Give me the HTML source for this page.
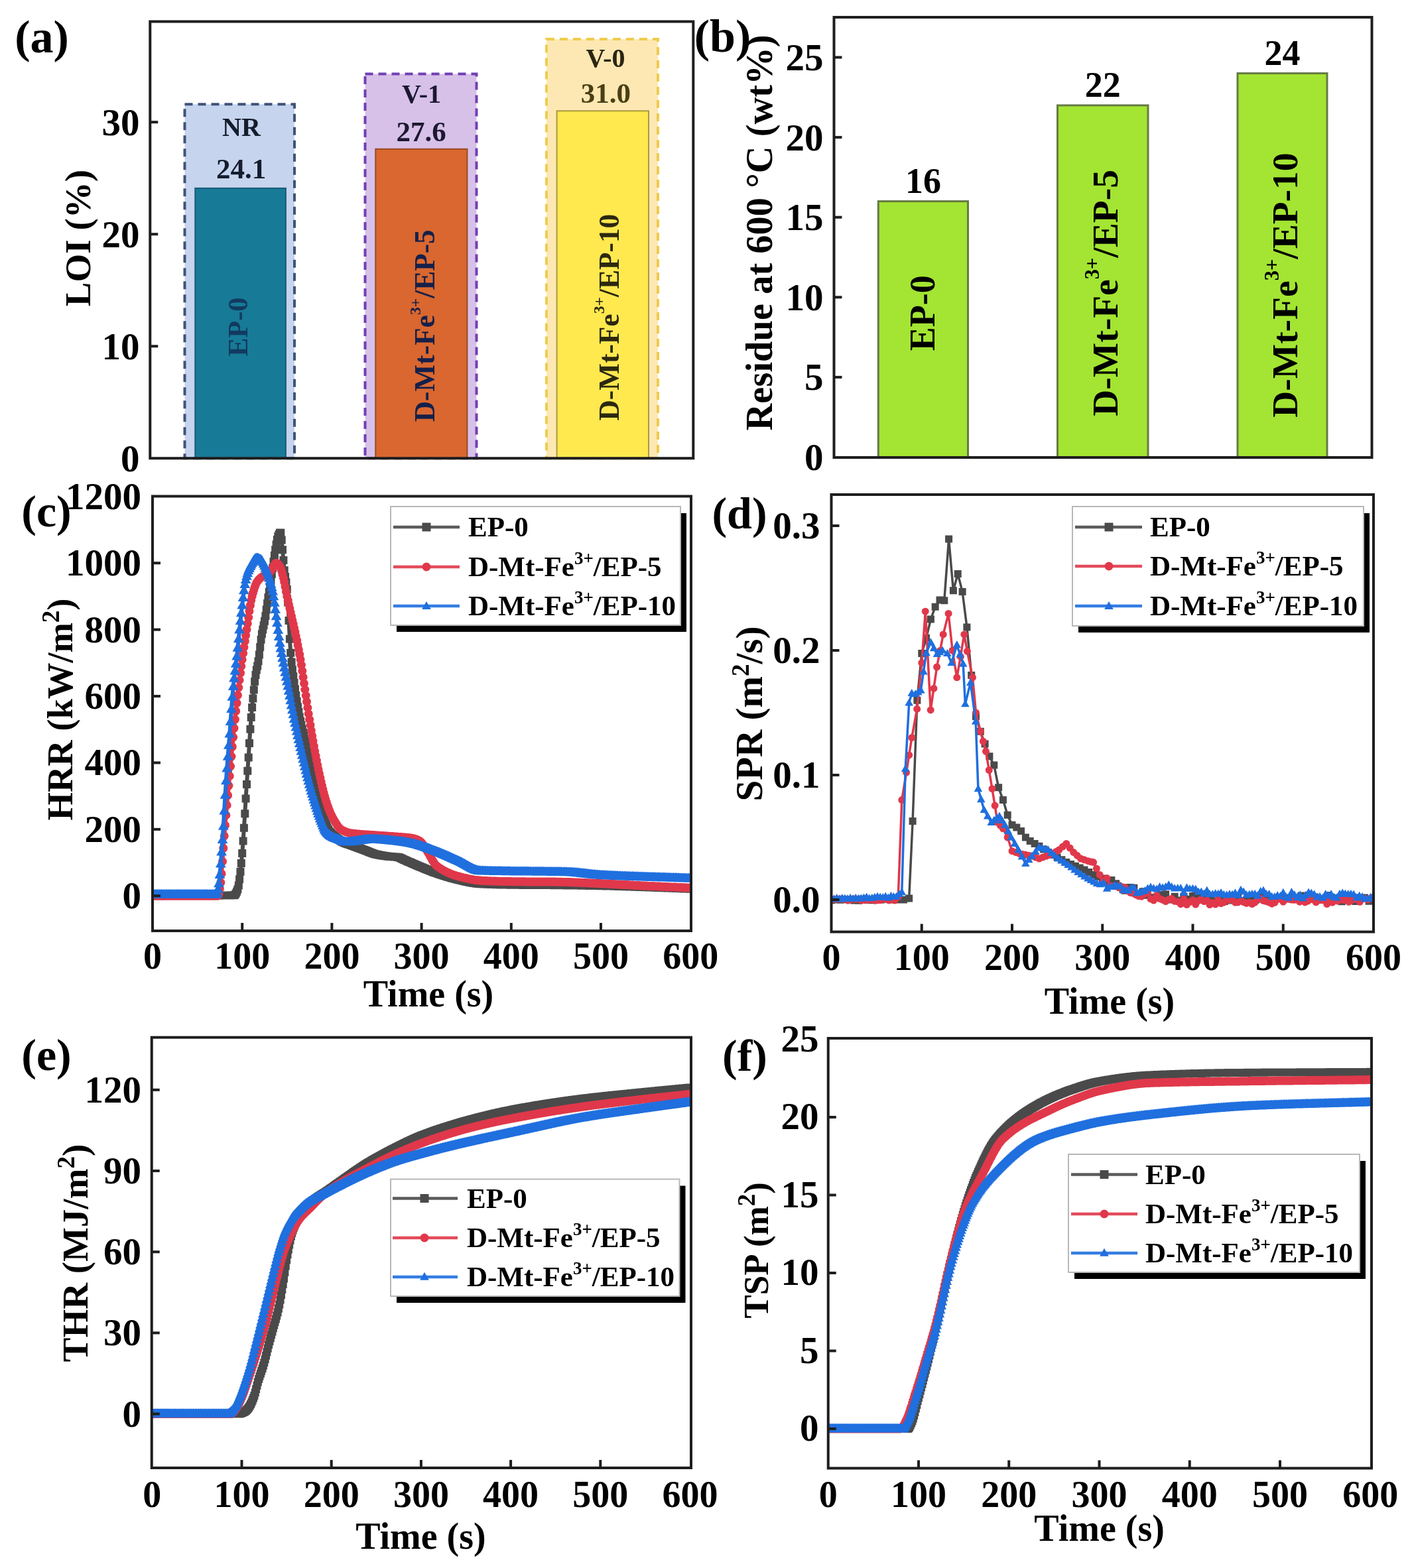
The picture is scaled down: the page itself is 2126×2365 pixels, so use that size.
<!DOCTYPE html>
<html><head><meta charset="utf-8"><title>Figure</title>
<style>html,body{margin:0;padding:0;background:#fff;}svg{display:block;}</style></head>
<body><svg width="2126" height="2365" viewBox="0 0 2126 2365" font-family="'Liberation Serif', 'Times New Roman', serif" font-weight="bold">
<rect width="2126" height="2365" fill="#fff"/>
<rect x="278.5" y="157.2" width="165.5" height="534.0" fill="#c6d4ee" stroke="#3f5378" stroke-width="4" stroke-dasharray="12,8"/>
<rect x="294.3" y="283.9" width="136.6" height="407.3" fill="#177a96" stroke="#1a5c78" stroke-width="2"/>
<rect x="550.5" y="111.5" width="168.0" height="579.7" fill="#d7c1e9" stroke="#7040b4" stroke-width="4" stroke-dasharray="12,8"/>
<rect x="566.3" y="224.8" width="138.1" height="466.4" fill="#d9672f" stroke="#9a4a20" stroke-width="2"/>
<rect x="823.9" y="59.1" width="168.10000000000002" height="632.1" fill="#fde8b3" stroke="#efcb4c" stroke-width="4" stroke-dasharray="12,8"/>
<rect x="839.6" y="167.3" width="138.4" height="523.9" fill="#ffe94f" stroke="#a99a3e" stroke-width="2"/>
<text transform="translate(364.00,204.50)" font-size="40" text-anchor="middle" fill="#151c2c" >NR</text>
<text transform="translate(363.50,268.50)" font-size="43" text-anchor="middle" fill="#151c2c" >24.1</text>
<text transform="translate(635.50,154.50)" font-size="40" text-anchor="middle" fill="#1c1830" >V-1</text>
<text transform="translate(635.20,212.50)" font-size="43" text-anchor="middle" fill="#1c1830" >27.6</text>
<text transform="translate(913.00,100.50)" font-size="40" text-anchor="middle" fill="#2a2612" >V-0</text>
<text transform="translate(913.30,155.00)" font-size="43" text-anchor="middle" fill="#4a3e14" >31.0</text>
<text transform="translate(372.60,493.10) rotate(-90)" font-size="42" text-anchor="middle" fill="#123a60" >EP-0</text>
<text transform="translate(655.40,491.20) rotate(-90)" font-size="43.3" text-anchor="middle" fill="#15204a" >D-Mt-Fe<tspan font-size="23.8" dy="-21.6">3+</tspan><tspan dy="21.6">/EP-5</tspan></text>
<text transform="translate(932.80,478.60) rotate(-90)" font-size="43.3" text-anchor="middle" fill="#2b2810" >D-Mt-Fe<tspan font-size="23.8" dy="-21.6">3+</tspan><tspan dy="21.6">/EP-10</tspan></text>
<rect x="226.3" y="32.5" width="819.0" height="658.7" fill="none" stroke="#1e1e1e" stroke-width="4"/>
<line x1="226.3" y1="522.20" x2="238.3" y2="522.20" stroke="#1e1e1e" stroke-width="4"/>
<line x1="226.3" y1="353.20" x2="238.3" y2="353.20" stroke="#1e1e1e" stroke-width="4"/>
<line x1="226.3" y1="184.20" x2="238.3" y2="184.20" stroke="#1e1e1e" stroke-width="4"/>
<text transform="translate(210.50,710.70)" font-size="57" text-anchor="end" fill="#000" >0</text>
<text transform="translate(210.50,541.70)" font-size="57" text-anchor="end" fill="#000" >10</text>
<text transform="translate(210.50,372.70)" font-size="57" text-anchor="end" fill="#000" >20</text>
<text transform="translate(210.50,203.70)" font-size="57" text-anchor="end" fill="#000" >30</text>
<text transform="translate(136.00,359.00) rotate(-90)" font-size="55" text-anchor="middle" fill="#000" >LOI (%)</text>
<text transform="translate(63.00,79.00)" font-size="70" text-anchor="middle" fill="#000" >(a)</text>
<rect x="1324.3" y="303.6" width="135.2" height="385.9" fill="#a3e532" stroke="#667a45" stroke-width="3"/>
<text transform="translate(1391.90,290.58)" font-size="54" text-anchor="middle" fill="#000" >16</text>
<rect x="1594.5" y="158.9" width="136.5" height="530.6" fill="#a3e532" stroke="#667a45" stroke-width="3"/>
<text transform="translate(1662.75,145.86)" font-size="54" text-anchor="middle" fill="#000" >22</text>
<rect x="1866" y="110.6" width="135.0" height="578.9" fill="#a3e532" stroke="#667a45" stroke-width="3"/>
<text transform="translate(1933.50,97.62)" font-size="54" text-anchor="middle" fill="#000" >24</text>
<text transform="translate(1408.50,472.20) rotate(-90)" font-size="54" text-anchor="middle" fill="#000" >EP-0</text>
<text transform="translate(1684.80,441.90) rotate(-90)" font-size="55.5" text-anchor="middle" fill="#000" >D-Mt-Fe<tspan font-size="30.5" dy="-27.8">3+</tspan><tspan dy="27.8">/EP-5</tspan></text>
<text transform="translate(1956.20,430.10) rotate(-90)" font-size="55.5" text-anchor="middle" fill="#000" >D-Mt-Fe<tspan font-size="30.5" dy="-27.8">3+</tspan><tspan dy="27.8">/EP-10</tspan></text>
<rect x="1257.5" y="26" width="811.0" height="664" fill="none" stroke="#1e1e1e" stroke-width="4"/>
<line x1="1257.5" y1="568.90" x2="1269.5" y2="568.90" stroke="#1e1e1e" stroke-width="4"/>
<line x1="1257.5" y1="448.30" x2="1269.5" y2="448.30" stroke="#1e1e1e" stroke-width="4"/>
<line x1="1257.5" y1="327.70" x2="1269.5" y2="327.70" stroke="#1e1e1e" stroke-width="4"/>
<line x1="1257.5" y1="207.10" x2="1269.5" y2="207.10" stroke="#1e1e1e" stroke-width="4"/>
<line x1="1257.5" y1="86.50" x2="1269.5" y2="86.50" stroke="#1e1e1e" stroke-width="4"/>
<text transform="translate(1241.50,709.00)" font-size="57" text-anchor="end" fill="#000" >0</text>
<text transform="translate(1241.50,588.40)" font-size="57" text-anchor="end" fill="#000" >5</text>
<text transform="translate(1241.50,467.80)" font-size="57" text-anchor="end" fill="#000" >10</text>
<text transform="translate(1241.50,347.20)" font-size="57" text-anchor="end" fill="#000" >15</text>
<text transform="translate(1241.50,226.60)" font-size="57" text-anchor="end" fill="#000" >20</text>
<text transform="translate(1241.50,106.00)" font-size="57" text-anchor="end" fill="#000" >25</text>
<text transform="translate(1164.00,351.00) rotate(-90)" font-size="56.5" text-anchor="middle" fill="#000" >Residue at 600 °C (wt%)</text>
<text transform="translate(1089.50,78.00)" font-size="70" text-anchor="middle" fill="#000" >(b)</text>
<clipPath id="cc"><rect x="230" y="748.5" width="812" height="655.5"/></clipPath>
<g clip-path="url(#cc)"><path d="M230.0 1351.2L231.4 1351.2L232.7 1351.2L234.1 1351.2L235.4 1351.2L236.8 1351.2L238.1 1351.2L239.5 1351.2L240.8 1351.2L242.2 1351.2L243.5 1351.2L244.9 1351.2L246.2 1351.1L247.6 1351.1L248.9 1351.1L250.3 1351.1L251.6 1351.1L253.0 1351.1L254.3 1351.1L255.7 1351.1L257.0 1351.1L258.4 1351.1L259.7 1351.1L261.1 1351.1L262.4 1351.1L263.8 1351.1L265.2 1351.1L266.5 1351.1L267.9 1351.1L269.2 1351.1L270.6 1351.1L271.9 1351.1L273.3 1351.0L274.6 1351.0L276.0 1351.0L277.3 1351.0L278.7 1351.0L280.0 1351.0L281.4 1351.0L282.7 1351.0L284.1 1351.0L285.4 1351.0L286.8 1351.0L288.1 1351.0L289.5 1351.0L290.8 1351.0L292.2 1351.0L293.5 1351.0L294.9 1351.0L296.2 1351.0L297.6 1351.0L299.0 1350.9L300.3 1350.9L301.7 1350.9L303.0 1350.9L304.4 1350.9L305.7 1350.9L307.1 1350.9L308.4 1350.9L309.8 1350.9L311.1 1350.9L312.5 1350.9L313.8 1350.8L315.2 1350.8L316.5 1350.8L317.9 1350.8L319.2 1350.8L320.6 1350.8L321.9 1350.8L323.3 1350.7L324.6 1350.7L326.0 1350.7L327.3 1350.7L328.7 1350.7L330.0 1350.7L331.4 1350.6L332.8 1350.6L334.1 1350.6L335.5 1350.6L336.8 1350.6L338.2 1350.5L339.5 1350.5L340.9 1350.5L342.2 1350.5L343.6 1350.4L344.9 1350.4L346.3 1350.4L347.6 1350.4L349.0 1350.3L350.3 1350.3L351.7 1350.3L353.0 1350.2L354.4 1349.5L355.7 1347.5L357.1 1344.7L358.4 1341.2L359.8 1335.4L361.1 1326.2L362.5 1314.7L363.8 1302.1L365.2 1287.0L366.6 1268.6L367.9 1248.8L369.3 1227.3L370.6 1204.4L372.0 1183.1L373.3 1162.7L374.7 1142.4L376.0 1121.0L377.4 1099.8L378.7 1082.1L380.1 1067.1L381.4 1053.6L382.8 1040.4L384.1 1028.1L385.5 1017.9L386.8 1010.6L388.2 1004.4L389.5 997.3L390.9 987.5L392.2 975.9L393.6 964.8L394.9 956.3L396.3 949.4L397.6 943.3L399.0 936.8L400.4 929.1L401.7 919.6L403.1 910.0L404.4 901.3L405.8 893.0L407.1 884.4L408.5 875.3L409.8 866.1L411.2 856.8L412.5 847.3L413.9 837.7L415.2 829.2L416.6 821.3L417.9 814.0L419.3 809.1L420.6 805.9L422.0 803.6L423.3 803.8L424.7 814.4L426.0 829.2L427.4 845.0L428.7 860.3L430.1 870.1L431.4 878.2L432.8 888.9L434.2 908.5L435.5 935.9L436.9 963.7L438.2 984.8L439.6 998.6L440.9 1010.2L442.3 1020.3L443.6 1030.0L445.0 1039.6L446.3 1048.9L447.7 1057.8L449.0 1066.2L450.4 1074.0L451.7 1081.2L453.1 1087.7L454.4 1093.7L455.8 1099.4L457.1 1104.8L458.5 1110.0L459.8 1115.3L461.2 1120.5L462.5 1125.3L463.9 1130.1L465.2 1134.9L466.6 1140.0L468.0 1145.4L469.3 1151.4L470.7 1157.9L472.0 1164.7L473.4 1171.5L474.7 1178.1L476.1 1184.6L477.4 1191.2L478.8 1197.7L480.1 1204.0L481.5 1209.7L482.8 1215.0L484.2 1220.0L485.5 1224.7L486.9 1229.2L488.2 1233.3L489.6 1237.2L490.9 1241.2L492.3 1244.9L493.6 1248.2L495.0 1251.1L496.3 1253.4L497.7 1255.1L499.0 1256.6L500.4 1258.0L501.8 1259.2L503.1 1260.3L504.5 1261.3L505.8 1262.4L507.2 1263.4L508.5 1264.5L509.9 1265.5L511.2 1266.5L512.6 1267.5L513.9 1268.4L515.3 1269.2L516.6 1269.9L518.0 1270.6L519.3 1271.2L520.7 1271.7L522.0 1272.2L523.4 1272.7L524.7 1273.2L526.1 1273.6L527.4 1274.1L528.8 1274.5L530.1 1275.0L531.5 1275.5L532.8 1276.0L534.2 1276.5L535.6 1277.0L536.9 1277.5L538.3 1278.0L539.6 1278.5L541.0 1279.0L542.3 1279.5L543.7 1280.0L545.0 1280.5L546.4 1281.0L547.7 1281.5L549.1 1282.0L550.4 1282.5L551.8 1283.0L553.1 1283.6L554.5 1284.1L555.8 1284.7L557.2 1285.3L558.5 1285.8L559.9 1286.3L561.2 1286.8L562.6 1287.3L563.9 1287.8L565.3 1288.2L566.6 1288.5L568.0 1288.8L569.4 1289.1L570.7 1289.4L572.1 1289.6L573.4 1289.9L574.8 1290.1L576.1 1290.4L577.5 1290.6L578.8 1290.8L580.2 1291.0L581.5 1291.2L582.9 1291.3L584.2 1291.5L585.6 1291.7L586.9 1291.8L588.3 1291.9L589.6 1292.0L591.0 1292.1L592.3 1292.2L593.7 1292.3L595.0 1292.4L596.4 1292.5L597.7 1292.6L599.1 1292.8L600.4 1293.0L601.8 1293.3L603.2 1293.8L604.5 1294.4L605.9 1295.0L607.2 1295.7L608.6 1296.4L609.9 1297.0L611.3 1297.6L612.6 1298.2L614.0 1298.8L615.3 1299.4L616.7 1300.0L618.0 1300.5L619.4 1301.1L620.7 1301.7L622.1 1302.3L623.4 1302.9L624.8 1303.5L626.1 1304.1L627.5 1304.7L628.8 1305.2L630.2 1305.8L631.5 1306.4L632.9 1307.0L634.2 1307.5L635.6 1308.1L637.0 1308.6L638.3 1309.2L639.7 1309.8L641.0 1310.3L642.4 1310.9L643.7 1311.4L645.1 1312.0L646.4 1312.5L647.8 1313.1L649.1 1313.6L650.5 1314.1L651.8 1314.7L653.2 1315.2L654.5 1315.7L655.9 1316.2L657.2 1316.6L658.6 1317.1L659.9 1317.6L661.3 1318.0L662.6 1318.5L664.0 1318.9L665.3 1319.4L666.7 1319.8L668.0 1320.3L669.4 1320.7L670.8 1321.1L672.1 1321.6L673.5 1322.0L674.8 1322.4L676.2 1322.8L677.5 1323.2L678.9 1323.6L680.2 1324.0L681.6 1324.4L682.9 1324.8L684.3 1325.1L685.6 1325.5L687.0 1325.8L688.3 1326.2L689.7 1326.5L691.0 1326.8L692.4 1327.2L693.7 1327.5L695.1 1327.8L696.4 1328.1L697.8 1328.4L699.1 1328.7L700.5 1329.0L701.8 1329.4L703.2 1329.7L704.6 1330.0L705.9 1330.3L707.3 1330.6L708.6 1330.9L710.0 1331.1L711.3 1331.4L712.7 1331.6L714.0 1331.9L715.4 1332.1L716.7 1332.3L718.1 1332.5L719.4 1332.7L720.8 1332.8L722.1 1333.0L723.5 1333.1L724.8 1333.2L726.2 1333.3L727.5 1333.3L728.9 1333.4L730.2 1333.5L731.6 1333.5L732.9 1333.6L734.3 1333.7L735.6 1333.7L737.0 1333.8L738.4 1333.8L739.7 1333.9L741.1 1334.0L742.4 1334.0L743.8 1334.1L745.1 1334.1L746.5 1334.1L747.8 1334.2L749.2 1334.2L750.5 1334.3L751.9 1334.3L753.2 1334.3L754.6 1334.4L755.9 1334.4L757.3 1334.4L758.6 1334.5L760.0 1334.5L761.3 1334.5L762.7 1334.6L764.0 1334.6L765.4 1334.6L766.7 1334.6L768.1 1334.6L769.4 1334.7L770.8 1334.7L772.2 1334.7L773.5 1334.7L774.9 1334.7L776.2 1334.7L777.6 1334.8L778.9 1334.8L780.3 1334.8L781.6 1334.8L783.0 1334.8L784.3 1334.8L785.7 1334.8L787.0 1334.8L788.4 1334.9L789.7 1334.9L791.1 1334.9L792.4 1334.9L793.8 1334.9L795.1 1334.9L796.5 1334.9L797.8 1334.9L799.2 1334.9L800.5 1334.9L801.9 1334.9L803.2 1335.0L804.6 1335.0L806.0 1335.0L807.3 1335.0L808.7 1335.0L810.0 1335.0L811.4 1335.0L812.7 1335.0L814.1 1335.0L815.4 1335.0L816.8 1335.0L818.1 1335.0L819.5 1335.0L820.8 1335.0L822.2 1335.1L823.5 1335.1L824.9 1335.1L826.2 1335.1L827.6 1335.1L828.9 1335.1L830.3 1335.1L831.6 1335.1L833.0 1335.1L834.3 1335.1L835.7 1335.2L837.0 1335.2L838.4 1335.2L839.8 1335.2L841.1 1335.2L842.5 1335.2L843.8 1335.2L845.2 1335.3L846.5 1335.3L847.9 1335.3L849.2 1335.3L850.6 1335.3L851.9 1335.3L853.3 1335.3L854.6 1335.4L856.0 1335.4L857.3 1335.4L858.7 1335.4L860.0 1335.4L861.4 1335.5L862.7 1335.5L864.1 1335.5L865.4 1335.5L866.8 1335.5L868.1 1335.5L869.5 1335.6L870.8 1335.6L872.2 1335.6L873.6 1335.6L874.9 1335.6L876.3 1335.7L877.6 1335.7L879.0 1335.7L880.3 1335.7L881.7 1335.8L883.0 1335.8L884.4 1335.8L885.7 1335.8L887.1 1335.8L888.4 1335.9L889.8 1335.9L891.1 1335.9L892.5 1335.9L893.8 1336.0L895.2 1336.0L896.5 1336.0L897.9 1336.0L899.2 1336.1L900.6 1336.1L901.9 1336.1L903.3 1336.1L904.6 1336.2L906.0 1336.2L907.4 1336.2L908.7 1336.2L910.1 1336.3L911.4 1336.3L912.8 1336.3L914.1 1336.4L915.5 1336.4L916.8 1336.4L918.2 1336.5L919.5 1336.5L920.9 1336.5L922.2 1336.6L923.6 1336.6L924.9 1336.6L926.3 1336.7L927.6 1336.7L929.0 1336.8L930.3 1336.8L931.7 1336.8L933.0 1336.9L934.4 1336.9L935.7 1337.0L937.1 1337.0L938.4 1337.0L939.8 1337.1L941.2 1337.1L942.5 1337.2L943.9 1337.2L945.2 1337.3L946.6 1337.3L947.9 1337.3L949.3 1337.4L950.6 1337.4L952.0 1337.5L953.3 1337.5L954.7 1337.6L956.0 1337.6L957.4 1337.7L958.7 1337.7L960.1 1337.7L961.4 1337.8L962.8 1337.8L964.1 1337.9L965.5 1337.9L966.8 1338.0L968.2 1338.0L969.5 1338.1L970.9 1338.1L972.2 1338.2L973.6 1338.2L975.0 1338.2L976.3 1338.3L977.7 1338.3L979.0 1338.4L980.4 1338.4L981.7 1338.5L983.1 1338.5L984.4 1338.6L985.8 1338.6L987.1 1338.7L988.5 1338.7L989.8 1338.8L991.2 1338.8L992.5 1338.9L993.9 1338.9L995.2 1339.0L996.6 1339.0L997.9 1339.1L999.3 1339.1L1000.6 1339.2L1002.0 1339.2L1003.3 1339.3L1004.7 1339.3L1006.0 1339.4L1007.4 1339.4L1008.8 1339.5L1010.1 1339.5L1011.5 1339.6L1012.8 1339.6L1014.2 1339.7L1015.5 1339.7L1016.9 1339.8L1018.2 1339.8L1019.6 1339.9L1020.9 1339.9L1022.3 1340.0L1023.6 1340.0L1025.0 1340.1L1026.3 1340.1L1027.7 1340.2L1029.0 1340.2L1030.4 1340.3L1031.7 1340.4L1033.1 1340.4L1034.4 1340.5L1035.8 1340.5L1037.1 1340.6L1038.5 1340.6L1039.8 1340.7L1041.2 1340.7" fill="none" stroke="#4a4a4a" stroke-width="6" stroke-linejoin="round"/><path d="M230.0 1351.2h0M231.4 1351.2h0M232.7 1351.2h0M234.1 1351.2h0M235.4 1351.2h0M236.8 1351.2h0M238.1 1351.2h0M239.5 1351.2h0M240.8 1351.2h0M242.2 1351.2h0M243.5 1351.2h0M244.9 1351.2h0M246.2 1351.1h0M247.6 1351.1h0M248.9 1351.1h0M250.3 1351.1h0M251.6 1351.1h0M253.0 1351.1h0M254.3 1351.1h0M255.7 1351.1h0M257.0 1351.1h0M258.4 1351.1h0M259.7 1351.1h0M261.1 1351.1h0M262.4 1351.1h0M263.8 1351.1h0M265.2 1351.1h0M266.5 1351.1h0M267.9 1351.1h0M269.2 1351.1h0M270.6 1351.1h0M271.9 1351.1h0M273.3 1351.0h0M274.6 1351.0h0M276.0 1351.0h0M277.3 1351.0h0M278.7 1351.0h0M280.0 1351.0h0M281.4 1351.0h0M282.7 1351.0h0M284.1 1351.0h0M285.4 1351.0h0M286.8 1351.0h0M288.1 1351.0h0M289.5 1351.0h0M290.8 1351.0h0M292.2 1351.0h0M293.5 1351.0h0M294.9 1351.0h0M296.2 1351.0h0M297.6 1351.0h0M299.0 1350.9h0M300.3 1350.9h0M301.7 1350.9h0M303.0 1350.9h0M304.4 1350.9h0M305.7 1350.9h0M307.1 1350.9h0M308.4 1350.9h0M309.8 1350.9h0M311.1 1350.9h0M312.5 1350.9h0M313.8 1350.8h0M315.2 1350.8h0M316.5 1350.8h0M317.9 1350.8h0M319.2 1350.8h0M320.6 1350.8h0M321.9 1350.8h0M323.3 1350.7h0M324.6 1350.7h0M326.0 1350.7h0M327.3 1350.7h0M328.7 1350.7h0M330.0 1350.7h0M331.4 1350.6h0M332.8 1350.6h0M334.1 1350.6h0M335.5 1350.6h0M336.8 1350.6h0M338.2 1350.5h0M339.5 1350.5h0M340.9 1350.5h0M342.2 1350.5h0M343.6 1350.4h0M344.9 1350.4h0M346.3 1350.4h0M347.6 1350.4h0M349.0 1350.3h0M350.3 1350.3h0M351.7 1350.3h0M353.0 1350.2h0M354.4 1349.5h0M355.7 1347.5h0M357.1 1344.7h0M358.4 1341.2h0M359.8 1335.4h0M361.1 1326.2h0M362.5 1314.7h0M363.8 1302.1h0M365.2 1287.0h0M366.6 1268.6h0M367.9 1248.8h0M369.3 1227.3h0M370.6 1204.4h0M372.0 1183.1h0M373.3 1162.7h0M374.7 1142.4h0M376.0 1121.0h0M377.4 1099.8h0M378.7 1082.1h0M380.1 1067.1h0M381.4 1053.6h0M382.8 1040.4h0M384.1 1028.1h0M385.5 1017.9h0M386.8 1010.6h0M388.2 1004.4h0M389.5 997.3h0M390.9 987.5h0M392.2 975.9h0M393.6 964.8h0M394.9 956.3h0M396.3 949.4h0M397.6 943.3h0M399.0 936.8h0M400.4 929.1h0M401.7 919.6h0M403.1 910.0h0M404.4 901.3h0M405.8 893.0h0M407.1 884.4h0M408.5 875.3h0M409.8 866.1h0M411.2 856.8h0M412.5 847.3h0M413.9 837.7h0M415.2 829.2h0M416.6 821.3h0M417.9 814.0h0M419.3 809.1h0M420.6 805.9h0M422.0 803.6h0M423.3 803.8h0M424.7 814.4h0M426.0 829.2h0M427.4 845.0h0M428.7 860.3h0M430.1 870.1h0M431.4 878.2h0M432.8 888.9h0M434.2 908.5h0M435.5 935.9h0M436.9 963.7h0M438.2 984.8h0M439.6 998.6h0M440.9 1010.2h0M442.3 1020.3h0M443.6 1030.0h0M445.0 1039.6h0M446.3 1048.9h0M447.7 1057.8h0M449.0 1066.2h0M450.4 1074.0h0M451.7 1081.2h0M453.1 1087.7h0M454.4 1093.7h0M455.8 1099.4h0M457.1 1104.8h0M458.5 1110.0h0M459.8 1115.3h0M461.2 1120.5h0M462.5 1125.3h0M463.9 1130.1h0M465.2 1134.9h0M466.6 1140.0h0M468.0 1145.4h0M469.3 1151.4h0M470.7 1157.9h0M472.0 1164.7h0M473.4 1171.5h0M474.7 1178.1h0M476.1 1184.6h0M477.4 1191.2h0M478.8 1197.7h0M480.1 1204.0h0M481.5 1209.7h0M482.8 1215.0h0M484.2 1220.0h0M485.5 1224.7h0M486.9 1229.2h0M488.2 1233.3h0M489.6 1237.2h0M490.9 1241.2h0M492.3 1244.9h0M493.6 1248.2h0M495.0 1251.1h0M496.3 1253.4h0M497.7 1255.1h0M499.0 1256.6h0M500.4 1258.0h0M501.8 1259.2h0M503.1 1260.3h0M504.5 1261.3h0M505.8 1262.4h0M507.2 1263.4h0M508.5 1264.5h0M509.9 1265.5h0M511.2 1266.5h0M512.6 1267.5h0M513.9 1268.4h0M515.3 1269.2h0M516.6 1269.9h0M518.0 1270.6h0M519.3 1271.2h0M520.7 1271.7h0M522.0 1272.2h0M523.4 1272.7h0M524.7 1273.2h0M526.1 1273.6h0M527.4 1274.1h0M528.8 1274.5h0M530.1 1275.0h0M531.5 1275.5h0M532.8 1276.0h0M534.2 1276.5h0M535.6 1277.0h0M536.9 1277.5h0M538.3 1278.0h0M539.6 1278.5h0M541.0 1279.0h0M542.3 1279.5h0M543.7 1280.0h0M545.0 1280.5h0M546.4 1281.0h0M547.7 1281.5h0M549.1 1282.0h0M550.4 1282.5h0M551.8 1283.0h0M553.1 1283.6h0M554.5 1284.1h0M555.8 1284.7h0M557.2 1285.3h0M558.5 1285.8h0M559.9 1286.3h0M561.2 1286.8h0M562.6 1287.3h0M563.9 1287.8h0M565.3 1288.2h0M566.6 1288.5h0M568.0 1288.8h0M569.4 1289.1h0M570.7 1289.4h0M572.1 1289.6h0M573.4 1289.9h0M574.8 1290.1h0M576.1 1290.4h0M577.5 1290.6h0M578.8 1290.8h0M580.2 1291.0h0M581.5 1291.2h0M582.9 1291.3h0M584.2 1291.5h0M585.6 1291.7h0M586.9 1291.8h0M588.3 1291.9h0M589.6 1292.0h0M591.0 1292.1h0M592.3 1292.2h0M593.7 1292.3h0M595.0 1292.4h0M596.4 1292.5h0M597.7 1292.6h0M599.1 1292.8h0M600.4 1293.0h0M601.8 1293.3h0M603.2 1293.8h0M604.5 1294.4h0M605.9 1295.0h0M607.2 1295.7h0M608.6 1296.4h0M609.9 1297.0h0M611.3 1297.6h0M612.6 1298.2h0M614.0 1298.8h0M615.3 1299.4h0M616.7 1300.0h0M618.0 1300.5h0M619.4 1301.1h0M620.7 1301.7h0M622.1 1302.3h0M623.4 1302.9h0M624.8 1303.5h0M626.1 1304.1h0M627.5 1304.7h0M628.8 1305.2h0M630.2 1305.8h0M631.5 1306.4h0M632.9 1307.0h0M634.2 1307.5h0M635.6 1308.1h0M637.0 1308.6h0M638.3 1309.2h0M639.7 1309.8h0M641.0 1310.3h0M642.4 1310.9h0M643.7 1311.4h0M645.1 1312.0h0M646.4 1312.5h0M647.8 1313.1h0M649.1 1313.6h0M650.5 1314.1h0M651.8 1314.7h0M653.2 1315.2h0M654.5 1315.7h0M655.9 1316.2h0M657.2 1316.6h0M658.6 1317.1h0M659.9 1317.6h0M661.3 1318.0h0M662.6 1318.5h0M664.0 1318.9h0M665.3 1319.4h0M666.7 1319.8h0M668.0 1320.3h0M669.4 1320.7h0M670.8 1321.1h0M672.1 1321.6h0M673.5 1322.0h0M674.8 1322.4h0M676.2 1322.8h0M677.5 1323.2h0M678.9 1323.6h0M680.2 1324.0h0M681.6 1324.4h0M682.9 1324.8h0M684.3 1325.1h0M685.6 1325.5h0M687.0 1325.8h0M688.3 1326.2h0M689.7 1326.5h0M691.0 1326.8h0M692.4 1327.2h0M693.7 1327.5h0M695.1 1327.8h0M696.4 1328.1h0M697.8 1328.4h0M699.1 1328.7h0M700.5 1329.0h0M701.8 1329.4h0M703.2 1329.7h0M704.6 1330.0h0M705.9 1330.3h0M707.3 1330.6h0M708.6 1330.9h0M710.0 1331.1h0M711.3 1331.4h0M712.7 1331.6h0M714.0 1331.9h0M715.4 1332.1h0M716.7 1332.3h0M718.1 1332.5h0M719.4 1332.7h0M720.8 1332.8h0M722.1 1333.0h0M723.5 1333.1h0M724.8 1333.2h0M726.2 1333.3h0M727.5 1333.3h0M728.9 1333.4h0M730.2 1333.5h0M731.6 1333.5h0M732.9 1333.6h0M734.3 1333.7h0M735.6 1333.7h0M737.0 1333.8h0M738.4 1333.8h0M739.7 1333.9h0M741.1 1334.0h0M742.4 1334.0h0M743.8 1334.1h0M745.1 1334.1h0M746.5 1334.1h0M747.8 1334.2h0M749.2 1334.2h0M750.5 1334.3h0M751.9 1334.3h0M753.2 1334.3h0M754.6 1334.4h0M755.9 1334.4h0M757.3 1334.4h0M758.6 1334.5h0M760.0 1334.5h0M761.3 1334.5h0M762.7 1334.6h0M764.0 1334.6h0M765.4 1334.6h0M766.7 1334.6h0M768.1 1334.6h0M769.4 1334.7h0M770.8 1334.7h0M772.2 1334.7h0M773.5 1334.7h0M774.9 1334.7h0M776.2 1334.7h0M777.6 1334.8h0M778.9 1334.8h0M780.3 1334.8h0M781.6 1334.8h0M783.0 1334.8h0M784.3 1334.8h0M785.7 1334.8h0M787.0 1334.8h0M788.4 1334.9h0M789.7 1334.9h0M791.1 1334.9h0M792.4 1334.9h0M793.8 1334.9h0M795.1 1334.9h0M796.5 1334.9h0M797.8 1334.9h0M799.2 1334.9h0M800.5 1334.9h0M801.9 1334.9h0M803.2 1335.0h0M804.6 1335.0h0M806.0 1335.0h0M807.3 1335.0h0M808.7 1335.0h0M810.0 1335.0h0M811.4 1335.0h0M812.7 1335.0h0M814.1 1335.0h0M815.4 1335.0h0M816.8 1335.0h0M818.1 1335.0h0M819.5 1335.0h0M820.8 1335.0h0M822.2 1335.1h0M823.5 1335.1h0M824.9 1335.1h0M826.2 1335.1h0M827.6 1335.1h0M828.9 1335.1h0M830.3 1335.1h0M831.6 1335.1h0M833.0 1335.1h0M834.3 1335.1h0M835.7 1335.2h0M837.0 1335.2h0M838.4 1335.2h0M839.8 1335.2h0M841.1 1335.2h0M842.5 1335.2h0M843.8 1335.2h0M845.2 1335.3h0M846.5 1335.3h0M847.9 1335.3h0M849.2 1335.3h0M850.6 1335.3h0M851.9 1335.3h0M853.3 1335.3h0M854.6 1335.4h0M856.0 1335.4h0M857.3 1335.4h0M858.7 1335.4h0M860.0 1335.4h0M861.4 1335.5h0M862.7 1335.5h0M864.1 1335.5h0M865.4 1335.5h0M866.8 1335.5h0M868.1 1335.5h0M869.5 1335.6h0M870.8 1335.6h0M872.2 1335.6h0M873.6 1335.6h0M874.9 1335.6h0M876.3 1335.7h0M877.6 1335.7h0M879.0 1335.7h0M880.3 1335.7h0M881.7 1335.8h0M883.0 1335.8h0M884.4 1335.8h0M885.7 1335.8h0M887.1 1335.8h0M888.4 1335.9h0M889.8 1335.9h0M891.1 1335.9h0M892.5 1335.9h0M893.8 1336.0h0M895.2 1336.0h0M896.5 1336.0h0M897.9 1336.0h0M899.2 1336.1h0M900.6 1336.1h0M901.9 1336.1h0M903.3 1336.1h0M904.6 1336.2h0M906.0 1336.2h0M907.4 1336.2h0M908.7 1336.2h0M910.1 1336.3h0M911.4 1336.3h0M912.8 1336.3h0M914.1 1336.4h0M915.5 1336.4h0M916.8 1336.4h0M918.2 1336.5h0M919.5 1336.5h0M920.9 1336.5h0M922.2 1336.6h0M923.6 1336.6h0M924.9 1336.6h0M926.3 1336.7h0M927.6 1336.7h0M929.0 1336.8h0M930.3 1336.8h0M931.7 1336.8h0M933.0 1336.9h0M934.4 1336.9h0M935.7 1337.0h0M937.1 1337.0h0M938.4 1337.0h0M939.8 1337.1h0M941.2 1337.1h0M942.5 1337.2h0M943.9 1337.2h0M945.2 1337.3h0M946.6 1337.3h0M947.9 1337.3h0M949.3 1337.4h0M950.6 1337.4h0M952.0 1337.5h0M953.3 1337.5h0M954.7 1337.6h0M956.0 1337.6h0M957.4 1337.7h0M958.7 1337.7h0M960.1 1337.7h0M961.4 1337.8h0M962.8 1337.8h0M964.1 1337.9h0M965.5 1337.9h0M966.8 1338.0h0M968.2 1338.0h0M969.5 1338.1h0M970.9 1338.1h0M972.2 1338.2h0M973.6 1338.2h0M975.0 1338.2h0M976.3 1338.3h0M977.7 1338.3h0M979.0 1338.4h0M980.4 1338.4h0M981.7 1338.5h0M983.1 1338.5h0M984.4 1338.6h0M985.8 1338.6h0M987.1 1338.7h0M988.5 1338.7h0M989.8 1338.8h0M991.2 1338.8h0M992.5 1338.9h0M993.9 1338.9h0M995.2 1339.0h0M996.6 1339.0h0M997.9 1339.1h0M999.3 1339.1h0M1000.6 1339.2h0M1002.0 1339.2h0M1003.3 1339.3h0M1004.7 1339.3h0M1006.0 1339.4h0M1007.4 1339.4h0M1008.8 1339.5h0M1010.1 1339.5h0M1011.5 1339.6h0M1012.8 1339.6h0M1014.2 1339.7h0M1015.5 1339.7h0M1016.9 1339.8h0M1018.2 1339.8h0M1019.6 1339.9h0M1020.9 1339.9h0M1022.3 1340.0h0M1023.6 1340.0h0M1025.0 1340.1h0M1026.3 1340.1h0M1027.7 1340.2h0M1029.0 1340.2h0M1030.4 1340.3h0M1031.7 1340.4h0M1033.1 1340.4h0M1034.4 1340.5h0M1035.8 1340.5h0M1037.1 1340.6h0M1038.5 1340.6h0M1039.8 1340.7h0M1041.2 1340.7h0" stroke="#4a4a4a" stroke-width="12" stroke-linecap="square" fill="none"/></g>
<g clip-path="url(#cc)"><path d="M230.0 1351.2L231.4 1351.2L232.7 1351.2L234.1 1351.2L235.4 1351.2L236.8 1351.2L238.1 1351.2L239.5 1351.2L240.8 1351.2L242.2 1351.2L243.5 1351.2L244.9 1351.2L246.2 1351.2L247.6 1351.2L248.9 1351.2L250.3 1351.2L251.6 1351.2L253.0 1351.2L254.3 1351.2L255.7 1351.2L257.0 1351.2L258.4 1351.2L259.7 1351.2L261.1 1351.2L262.4 1351.2L263.8 1351.2L265.2 1351.2L266.5 1351.2L267.9 1351.2L269.2 1351.2L270.6 1351.2L271.9 1351.2L273.3 1351.2L274.6 1351.2L276.0 1351.2L277.3 1351.2L278.7 1351.2L280.0 1351.2L281.4 1351.2L282.7 1351.2L284.1 1351.2L285.4 1351.2L286.8 1351.2L288.1 1351.2L289.5 1351.2L290.8 1351.2L292.2 1351.2L293.5 1351.2L294.9 1351.2L296.2 1351.2L297.6 1351.2L299.0 1351.2L300.3 1351.2L301.7 1351.2L303.0 1351.2L304.4 1351.2L305.7 1351.2L307.1 1351.2L308.4 1351.2L309.8 1351.2L311.1 1351.2L312.5 1351.2L313.8 1351.2L315.2 1351.2L316.5 1351.2L317.9 1351.2L319.2 1351.2L320.6 1351.2L321.9 1351.2L323.3 1351.2L324.6 1351.2L326.0 1351.2L327.3 1351.2L328.7 1351.2L330.0 1348.2L331.4 1340.6L332.8 1331.2L334.1 1317.9L335.5 1299.4L336.8 1279.3L338.2 1260.9L339.5 1244.9L340.9 1229.5L342.2 1214.5L343.6 1199.7L344.9 1185.1L346.3 1170.5L347.6 1155.8L349.0 1141.1L350.3 1126.4L351.7 1112.1L353.0 1098.3L354.4 1085.2L355.7 1072.6L357.1 1060.4L358.4 1048.6L359.8 1037.1L361.1 1026.0L362.5 1015.2L363.8 1004.9L365.2 994.9L366.6 985.4L367.9 976.2L369.3 967.2L370.6 958.4L372.0 949.6L373.3 940.6L374.7 931.2L376.0 921.9L377.4 913.2L378.7 905.6L380.1 899.5L381.4 894.4L382.8 889.8L384.1 885.7L385.5 882.1L386.8 879.1L388.2 876.9L389.5 875.1L390.9 873.6L392.2 872.3L393.6 871.2L394.9 870.2L396.3 869.3L397.6 868.6L399.0 867.9L400.4 867.4L401.7 866.8L403.1 866.2L404.4 865.3L405.8 864.1L407.1 862.5L408.5 860.6L409.8 858.7L411.2 856.8L412.5 854.6L413.9 852.1L415.2 850.1L416.6 849.2L417.9 849.7L419.3 850.8L420.6 852.4L422.0 854.3L423.3 857.1L424.7 861.3L426.0 866.4L427.4 871.8L428.7 878.0L430.1 885.1L431.4 892.5L432.8 899.5L434.2 905.7L435.5 911.8L436.9 917.7L438.2 923.6L439.6 929.6L440.9 935.5L442.3 941.4L443.6 947.3L445.0 953.4L446.3 959.7L447.7 966.2L449.0 972.9L450.4 979.9L451.7 987.2L453.1 994.8L454.4 1003.1L455.8 1012.1L457.1 1021.4L458.5 1030.8L459.8 1040.0L461.2 1049.1L462.5 1058.3L463.9 1067.5L465.2 1076.5L466.6 1085.2L468.0 1093.6L469.3 1101.9L470.7 1109.9L472.0 1117.7L473.4 1125.3L474.7 1132.8L476.1 1140.0L477.4 1147.0L478.8 1153.9L480.1 1160.5L481.5 1166.9L482.8 1173.2L484.2 1179.3L485.5 1185.2L486.9 1190.6L488.2 1195.8L489.6 1200.8L490.9 1205.7L492.3 1210.2L493.6 1214.4L495.0 1218.2L496.3 1221.7L497.7 1224.9L499.0 1228.0L500.4 1230.8L501.8 1233.5L503.1 1236.0L504.5 1238.3L505.8 1240.5L507.2 1242.7L508.5 1244.8L509.9 1246.7L511.2 1248.4L512.6 1249.8L513.9 1250.8L515.3 1251.6L516.6 1252.4L518.0 1253.1L519.3 1253.7L520.7 1254.3L522.0 1254.8L523.4 1255.3L524.7 1255.7L526.1 1256.1L527.4 1256.4L528.8 1256.7L530.1 1256.9L531.5 1257.1L532.8 1257.2L534.2 1257.4L535.6 1257.6L536.9 1257.7L538.3 1257.9L539.6 1258.0L541.0 1258.1L542.3 1258.2L543.7 1258.4L545.0 1258.5L546.4 1258.6L547.7 1258.7L549.1 1258.7L550.4 1258.8L551.8 1258.9L553.1 1259.0L554.5 1259.1L555.8 1259.2L557.2 1259.3L558.5 1259.3L559.9 1259.4L561.2 1259.5L562.6 1259.6L563.9 1259.7L565.3 1259.8L566.6 1259.9L568.0 1260.0L569.4 1260.1L570.7 1260.2L572.1 1260.3L573.4 1260.4L574.8 1260.5L576.1 1260.6L577.5 1260.6L578.8 1260.7L580.2 1260.8L581.5 1260.9L582.9 1261.0L584.2 1261.1L585.6 1261.2L586.9 1261.3L588.3 1261.4L589.6 1261.5L591.0 1261.6L592.3 1261.7L593.7 1261.8L595.0 1261.9L596.4 1262.0L597.7 1262.1L599.1 1262.2L600.4 1262.3L601.8 1262.4L603.2 1262.5L604.5 1262.6L605.9 1262.7L607.2 1262.8L608.6 1262.9L609.9 1263.0L611.3 1263.1L612.6 1263.2L614.0 1263.4L615.3 1263.5L616.7 1263.7L618.0 1263.8L619.4 1264.0L620.7 1264.2L622.1 1264.4L623.4 1264.7L624.8 1265.0L626.1 1265.4L627.5 1265.8L628.8 1266.4L630.2 1267.0L631.5 1267.7L632.9 1268.4L634.2 1269.5L635.6 1270.9L637.0 1272.7L638.3 1274.7L639.7 1276.8L641.0 1279.0L642.4 1281.0L643.7 1283.0L645.1 1285.2L646.4 1287.5L647.8 1290.0L649.1 1292.4L650.5 1294.8L651.8 1297.2L653.2 1299.4L654.5 1301.5L655.9 1303.3L657.2 1304.8L658.6 1306.1L659.9 1307.1L661.3 1308.1L662.6 1309.0L664.0 1309.9L665.3 1310.8L666.7 1311.6L668.0 1312.4L669.4 1313.2L670.8 1313.9L672.1 1314.6L673.5 1315.3L674.8 1315.9L676.2 1316.6L677.5 1317.1L678.9 1317.7L680.2 1318.2L681.6 1318.7L682.9 1319.2L684.3 1319.7L685.6 1320.2L687.0 1320.6L688.3 1321.0L689.7 1321.4L691.0 1321.8L692.4 1322.1L693.7 1322.5L695.1 1322.8L696.4 1323.2L697.8 1323.5L699.1 1323.9L700.5 1324.2L701.8 1324.5L703.2 1324.8L704.6 1325.1L705.9 1325.4L707.3 1325.7L708.6 1326.0L710.0 1326.3L711.3 1326.5L712.7 1326.7L714.0 1327.0L715.4 1327.2L716.7 1327.4L718.1 1327.5L719.4 1327.7L720.8 1327.8L722.1 1328.0L723.5 1328.1L724.8 1328.2L726.2 1328.2L727.5 1328.3L728.9 1328.4L730.2 1328.5L731.6 1328.5L732.9 1328.6L734.3 1328.7L735.6 1328.7L737.0 1328.8L738.4 1328.8L739.7 1328.9L741.1 1328.9L742.4 1329.0L743.8 1329.0L745.1 1329.1L746.5 1329.1L747.8 1329.2L749.2 1329.2L750.5 1329.3L751.9 1329.3L753.2 1329.3L754.6 1329.4L755.9 1329.4L757.3 1329.4L758.6 1329.5L760.0 1329.5L761.3 1329.5L762.7 1329.5L764.0 1329.6L765.4 1329.6L766.7 1329.6L768.1 1329.6L769.4 1329.6L770.8 1329.7L772.2 1329.7L773.5 1329.7L774.9 1329.7L776.2 1329.7L777.6 1329.7L778.9 1329.8L780.3 1329.8L781.6 1329.8L783.0 1329.8L784.3 1329.8L785.7 1329.8L787.0 1329.8L788.4 1329.8L789.7 1329.8L791.1 1329.8L792.4 1329.9L793.8 1329.9L795.1 1329.9L796.5 1329.9L797.8 1329.9L799.2 1329.9L800.5 1329.9L801.9 1329.9L803.2 1329.9L804.6 1329.9L806.0 1329.9L807.3 1329.9L808.7 1329.9L810.0 1329.9L811.4 1330.0L812.7 1330.0L814.1 1330.0L815.4 1330.0L816.8 1330.0L818.1 1330.0L819.5 1330.0L820.8 1330.0L822.2 1330.0L823.5 1330.0L824.9 1330.0L826.2 1330.0L827.6 1330.1L828.9 1330.1L830.3 1330.1L831.6 1330.1L833.0 1330.1L834.3 1330.1L835.7 1330.1L837.0 1330.1L838.4 1330.2L839.8 1330.2L841.1 1330.2L842.5 1330.2L843.8 1330.3L845.2 1330.3L846.5 1330.3L847.9 1330.3L849.2 1330.4L850.6 1330.4L851.9 1330.4L853.3 1330.5L854.6 1330.5L856.0 1330.6L857.3 1330.6L858.7 1330.6L860.0 1330.7L861.4 1330.7L862.7 1330.8L864.1 1330.8L865.4 1330.9L866.8 1330.9L868.1 1331.0L869.5 1331.0L870.8 1331.1L872.2 1331.2L873.6 1331.2L874.9 1331.3L876.3 1331.3L877.6 1331.4L879.0 1331.5L880.3 1331.5L881.7 1331.6L883.0 1331.6L884.4 1331.7L885.7 1331.8L887.1 1331.8L888.4 1331.9L889.8 1331.9L891.1 1332.0L892.5 1332.1L893.8 1332.1L895.2 1332.2L896.5 1332.3L897.9 1332.3L899.2 1332.4L900.6 1332.4L901.9 1332.5L903.3 1332.6L904.6 1332.6L906.0 1332.7L907.4 1332.7L908.7 1332.8L910.1 1332.9L911.4 1332.9L912.8 1333.0L914.1 1333.0L915.5 1333.1L916.8 1333.2L918.2 1333.2L919.5 1333.3L920.9 1333.4L922.2 1333.5L923.6 1333.5L924.9 1333.6L926.3 1333.7L927.6 1333.7L929.0 1333.8L930.3 1333.9L931.7 1333.9L933.0 1334.0L934.4 1334.1L935.7 1334.2L937.1 1334.2L938.4 1334.3L939.8 1334.4L941.2 1334.5L942.5 1334.5L943.9 1334.6L945.2 1334.7L946.6 1334.8L947.9 1334.8L949.3 1334.9L950.6 1335.0L952.0 1335.1L953.3 1335.1L954.7 1335.2L956.0 1335.3L957.4 1335.4L958.7 1335.4L960.1 1335.5L961.4 1335.6L962.8 1335.6L964.1 1335.7L965.5 1335.8L966.8 1335.9L968.2 1335.9L969.5 1336.0L970.9 1336.1L972.2 1336.1L973.6 1336.2L975.0 1336.3L976.3 1336.3L977.7 1336.4L979.0 1336.4L980.4 1336.5L981.7 1336.6L983.1 1336.6L984.4 1336.7L985.8 1336.8L987.1 1336.8L988.5 1336.9L989.8 1336.9L991.2 1337.0L992.5 1337.1L993.9 1337.1L995.2 1337.2L996.6 1337.2L997.9 1337.3L999.3 1337.4L1000.6 1337.4L1002.0 1337.5L1003.3 1337.5L1004.7 1337.6L1006.0 1337.7L1007.4 1337.7L1008.8 1337.8L1010.1 1337.8L1011.5 1337.9L1012.8 1338.0L1014.2 1338.0L1015.5 1338.1L1016.9 1338.1L1018.2 1338.2L1019.6 1338.3L1020.9 1338.3L1022.3 1338.4L1023.6 1338.4L1025.0 1338.5L1026.3 1338.5L1027.7 1338.6L1029.0 1338.7L1030.4 1338.7L1031.7 1338.8L1033.1 1338.8L1034.4 1338.9L1035.8 1339.0L1037.1 1339.0L1038.5 1339.1L1039.8 1339.1L1041.2 1339.2" fill="none" stroke="#e0384a" stroke-width="6" stroke-linejoin="round"/><path d="M230.0 1351.2h0M231.4 1351.2h0M232.7 1351.2h0M234.1 1351.2h0M235.4 1351.2h0M236.8 1351.2h0M238.1 1351.2h0M239.5 1351.2h0M240.8 1351.2h0M242.2 1351.2h0M243.5 1351.2h0M244.9 1351.2h0M246.2 1351.2h0M247.6 1351.2h0M248.9 1351.2h0M250.3 1351.2h0M251.6 1351.2h0M253.0 1351.2h0M254.3 1351.2h0M255.7 1351.2h0M257.0 1351.2h0M258.4 1351.2h0M259.7 1351.2h0M261.1 1351.2h0M262.4 1351.2h0M263.8 1351.2h0M265.2 1351.2h0M266.5 1351.2h0M267.9 1351.2h0M269.2 1351.2h0M270.6 1351.2h0M271.9 1351.2h0M273.3 1351.2h0M274.6 1351.2h0M276.0 1351.2h0M277.3 1351.2h0M278.7 1351.2h0M280.0 1351.2h0M281.4 1351.2h0M282.7 1351.2h0M284.1 1351.2h0M285.4 1351.2h0M286.8 1351.2h0M288.1 1351.2h0M289.5 1351.2h0M290.8 1351.2h0M292.2 1351.2h0M293.5 1351.2h0M294.9 1351.2h0M296.2 1351.2h0M297.6 1351.2h0M299.0 1351.2h0M300.3 1351.2h0M301.7 1351.2h0M303.0 1351.2h0M304.4 1351.2h0M305.7 1351.2h0M307.1 1351.2h0M308.4 1351.2h0M309.8 1351.2h0M311.1 1351.2h0M312.5 1351.2h0M313.8 1351.2h0M315.2 1351.2h0M316.5 1351.2h0M317.9 1351.2h0M319.2 1351.2h0M320.6 1351.2h0M321.9 1351.2h0M323.3 1351.2h0M324.6 1351.2h0M326.0 1351.2h0M327.3 1351.2h0M328.7 1351.2h0M330.0 1348.2h0M331.4 1340.6h0M332.8 1331.2h0M334.1 1317.9h0M335.5 1299.4h0M336.8 1279.3h0M338.2 1260.9h0M339.5 1244.9h0M340.9 1229.5h0M342.2 1214.5h0M343.6 1199.7h0M344.9 1185.1h0M346.3 1170.5h0M347.6 1155.8h0M349.0 1141.1h0M350.3 1126.4h0M351.7 1112.1h0M353.0 1098.3h0M354.4 1085.2h0M355.7 1072.6h0M357.1 1060.4h0M358.4 1048.6h0M359.8 1037.1h0M361.1 1026.0h0M362.5 1015.2h0M363.8 1004.9h0M365.2 994.9h0M366.6 985.4h0M367.9 976.2h0M369.3 967.2h0M370.6 958.4h0M372.0 949.6h0M373.3 940.6h0M374.7 931.2h0M376.0 921.9h0M377.4 913.2h0M378.7 905.6h0M380.1 899.5h0M381.4 894.4h0M382.8 889.8h0M384.1 885.7h0M385.5 882.1h0M386.8 879.1h0M388.2 876.9h0M389.5 875.1h0M390.9 873.6h0M392.2 872.3h0M393.6 871.2h0M394.9 870.2h0M396.3 869.3h0M397.6 868.6h0M399.0 867.9h0M400.4 867.4h0M401.7 866.8h0M403.1 866.2h0M404.4 865.3h0M405.8 864.1h0M407.1 862.5h0M408.5 860.6h0M409.8 858.7h0M411.2 856.8h0M412.5 854.6h0M413.9 852.1h0M415.2 850.1h0M416.6 849.2h0M417.9 849.7h0M419.3 850.8h0M420.6 852.4h0M422.0 854.3h0M423.3 857.1h0M424.7 861.3h0M426.0 866.4h0M427.4 871.8h0M428.7 878.0h0M430.1 885.1h0M431.4 892.5h0M432.8 899.5h0M434.2 905.7h0M435.5 911.8h0M436.9 917.7h0M438.2 923.6h0M439.6 929.6h0M440.9 935.5h0M442.3 941.4h0M443.6 947.3h0M445.0 953.4h0M446.3 959.7h0M447.7 966.2h0M449.0 972.9h0M450.4 979.9h0M451.7 987.2h0M453.1 994.8h0M454.4 1003.1h0M455.8 1012.1h0M457.1 1021.4h0M458.5 1030.8h0M459.8 1040.0h0M461.2 1049.1h0M462.5 1058.3h0M463.9 1067.5h0M465.2 1076.5h0M466.6 1085.2h0M468.0 1093.6h0M469.3 1101.9h0M470.7 1109.9h0M472.0 1117.7h0M473.4 1125.3h0M474.7 1132.8h0M476.1 1140.0h0M477.4 1147.0h0M478.8 1153.9h0M480.1 1160.5h0M481.5 1166.9h0M482.8 1173.2h0M484.2 1179.3h0M485.5 1185.2h0M486.9 1190.6h0M488.2 1195.8h0M489.6 1200.8h0M490.9 1205.7h0M492.3 1210.2h0M493.6 1214.4h0M495.0 1218.2h0M496.3 1221.7h0M497.7 1224.9h0M499.0 1228.0h0M500.4 1230.8h0M501.8 1233.5h0M503.1 1236.0h0M504.5 1238.3h0M505.8 1240.5h0M507.2 1242.7h0M508.5 1244.8h0M509.9 1246.7h0M511.2 1248.4h0M512.6 1249.8h0M513.9 1250.8h0M515.3 1251.6h0M516.6 1252.4h0M518.0 1253.1h0M519.3 1253.7h0M520.7 1254.3h0M522.0 1254.8h0M523.4 1255.3h0M524.7 1255.7h0M526.1 1256.1h0M527.4 1256.4h0M528.8 1256.7h0M530.1 1256.9h0M531.5 1257.1h0M532.8 1257.2h0M534.2 1257.4h0M535.6 1257.6h0M536.9 1257.7h0M538.3 1257.9h0M539.6 1258.0h0M541.0 1258.1h0M542.3 1258.2h0M543.7 1258.4h0M545.0 1258.5h0M546.4 1258.6h0M547.7 1258.7h0M549.1 1258.7h0M550.4 1258.8h0M551.8 1258.9h0M553.1 1259.0h0M554.5 1259.1h0M555.8 1259.2h0M557.2 1259.3h0M558.5 1259.3h0M559.9 1259.4h0M561.2 1259.5h0M562.6 1259.6h0M563.9 1259.7h0M565.3 1259.8h0M566.6 1259.9h0M568.0 1260.0h0M569.4 1260.1h0M570.7 1260.2h0M572.1 1260.3h0M573.4 1260.4h0M574.8 1260.5h0M576.1 1260.6h0M577.5 1260.6h0M578.8 1260.7h0M580.2 1260.8h0M581.5 1260.9h0M582.9 1261.0h0M584.2 1261.1h0M585.6 1261.2h0M586.9 1261.3h0M588.3 1261.4h0M589.6 1261.5h0M591.0 1261.6h0M592.3 1261.7h0M593.7 1261.8h0M595.0 1261.9h0M596.4 1262.0h0M597.7 1262.1h0M599.1 1262.2h0M600.4 1262.3h0M601.8 1262.4h0M603.2 1262.5h0M604.5 1262.6h0M605.9 1262.7h0M607.2 1262.8h0M608.6 1262.9h0M609.9 1263.0h0M611.3 1263.1h0M612.6 1263.2h0M614.0 1263.4h0M615.3 1263.5h0M616.7 1263.7h0M618.0 1263.8h0M619.4 1264.0h0M620.7 1264.2h0M622.1 1264.4h0M623.4 1264.7h0M624.8 1265.0h0M626.1 1265.4h0M627.5 1265.8h0M628.8 1266.4h0M630.2 1267.0h0M631.5 1267.7h0M632.9 1268.4h0M634.2 1269.5h0M635.6 1270.9h0M637.0 1272.7h0M638.3 1274.7h0M639.7 1276.8h0M641.0 1279.0h0M642.4 1281.0h0M643.7 1283.0h0M645.1 1285.2h0M646.4 1287.5h0M647.8 1290.0h0M649.1 1292.4h0M650.5 1294.8h0M651.8 1297.2h0M653.2 1299.4h0M654.5 1301.5h0M655.9 1303.3h0M657.2 1304.8h0M658.6 1306.1h0M659.9 1307.1h0M661.3 1308.1h0M662.6 1309.0h0M664.0 1309.9h0M665.3 1310.8h0M666.7 1311.6h0M668.0 1312.4h0M669.4 1313.2h0M670.8 1313.9h0M672.1 1314.6h0M673.5 1315.3h0M674.8 1315.9h0M676.2 1316.6h0M677.5 1317.1h0M678.9 1317.7h0M680.2 1318.2h0M681.6 1318.7h0M682.9 1319.2h0M684.3 1319.7h0M685.6 1320.2h0M687.0 1320.6h0M688.3 1321.0h0M689.7 1321.4h0M691.0 1321.8h0M692.4 1322.1h0M693.7 1322.5h0M695.1 1322.8h0M696.4 1323.2h0M697.8 1323.5h0M699.1 1323.9h0M700.5 1324.2h0M701.8 1324.5h0M703.2 1324.8h0M704.6 1325.1h0M705.9 1325.4h0M707.3 1325.7h0M708.6 1326.0h0M710.0 1326.3h0M711.3 1326.5h0M712.7 1326.7h0M714.0 1327.0h0M715.4 1327.2h0M716.7 1327.4h0M718.1 1327.5h0M719.4 1327.7h0M720.8 1327.8h0M722.1 1328.0h0M723.5 1328.1h0M724.8 1328.2h0M726.2 1328.2h0M727.5 1328.3h0M728.9 1328.4h0M730.2 1328.5h0M731.6 1328.5h0M732.9 1328.6h0M734.3 1328.7h0M735.6 1328.7h0M737.0 1328.8h0M738.4 1328.8h0M739.7 1328.9h0M741.1 1328.9h0M742.4 1329.0h0M743.8 1329.0h0M745.1 1329.1h0M746.5 1329.1h0M747.8 1329.2h0M749.2 1329.2h0M750.5 1329.3h0M751.9 1329.3h0M753.2 1329.3h0M754.6 1329.4h0M755.9 1329.4h0M757.3 1329.4h0M758.6 1329.5h0M760.0 1329.5h0M761.3 1329.5h0M762.7 1329.5h0M764.0 1329.6h0M765.4 1329.6h0M766.7 1329.6h0M768.1 1329.6h0M769.4 1329.6h0M770.8 1329.7h0M772.2 1329.7h0M773.5 1329.7h0M774.9 1329.7h0M776.2 1329.7h0M777.6 1329.7h0M778.9 1329.8h0M780.3 1329.8h0M781.6 1329.8h0M783.0 1329.8h0M784.3 1329.8h0M785.7 1329.8h0M787.0 1329.8h0M788.4 1329.8h0M789.7 1329.8h0M791.1 1329.8h0M792.4 1329.9h0M793.8 1329.9h0M795.1 1329.9h0M796.5 1329.9h0M797.8 1329.9h0M799.2 1329.9h0M800.5 1329.9h0M801.9 1329.9h0M803.2 1329.9h0M804.6 1329.9h0M806.0 1329.9h0M807.3 1329.9h0M808.7 1329.9h0M810.0 1329.9h0M811.4 1330.0h0M812.7 1330.0h0M814.1 1330.0h0M815.4 1330.0h0M816.8 1330.0h0M818.1 1330.0h0M819.5 1330.0h0M820.8 1330.0h0M822.2 1330.0h0M823.5 1330.0h0M824.9 1330.0h0M826.2 1330.0h0M827.6 1330.1h0M828.9 1330.1h0M830.3 1330.1h0M831.6 1330.1h0M833.0 1330.1h0M834.3 1330.1h0M835.7 1330.1h0M837.0 1330.1h0M838.4 1330.2h0M839.8 1330.2h0M841.1 1330.2h0M842.5 1330.2h0M843.8 1330.3h0M845.2 1330.3h0M846.5 1330.3h0M847.9 1330.3h0M849.2 1330.4h0M850.6 1330.4h0M851.9 1330.4h0M853.3 1330.5h0M854.6 1330.5h0M856.0 1330.6h0M857.3 1330.6h0M858.7 1330.6h0M860.0 1330.7h0M861.4 1330.7h0M862.7 1330.8h0M864.1 1330.8h0M865.4 1330.9h0M866.8 1330.9h0M868.1 1331.0h0M869.5 1331.0h0M870.8 1331.1h0M872.2 1331.2h0M873.6 1331.2h0M874.9 1331.3h0M876.3 1331.3h0M877.6 1331.4h0M879.0 1331.5h0M880.3 1331.5h0M881.7 1331.6h0M883.0 1331.6h0M884.4 1331.7h0M885.7 1331.8h0M887.1 1331.8h0M888.4 1331.9h0M889.8 1331.9h0M891.1 1332.0h0M892.5 1332.1h0M893.8 1332.1h0M895.2 1332.2h0M896.5 1332.3h0M897.9 1332.3h0M899.2 1332.4h0M900.6 1332.4h0M901.9 1332.5h0M903.3 1332.6h0M904.6 1332.6h0M906.0 1332.7h0M907.4 1332.7h0M908.7 1332.8h0M910.1 1332.9h0M911.4 1332.9h0M912.8 1333.0h0M914.1 1333.0h0M915.5 1333.1h0M916.8 1333.2h0M918.2 1333.2h0M919.5 1333.3h0M920.9 1333.4h0M922.2 1333.5h0M923.6 1333.5h0M924.9 1333.6h0M926.3 1333.7h0M927.6 1333.7h0M929.0 1333.8h0M930.3 1333.9h0M931.7 1333.9h0M933.0 1334.0h0M934.4 1334.1h0M935.7 1334.2h0M937.1 1334.2h0M938.4 1334.3h0M939.8 1334.4h0M941.2 1334.5h0M942.5 1334.5h0M943.9 1334.6h0M945.2 1334.7h0M946.6 1334.8h0M947.9 1334.8h0M949.3 1334.9h0M950.6 1335.0h0M952.0 1335.1h0M953.3 1335.1h0M954.7 1335.2h0M956.0 1335.3h0M957.4 1335.4h0M958.7 1335.4h0M960.1 1335.5h0M961.4 1335.6h0M962.8 1335.6h0M964.1 1335.7h0M965.5 1335.8h0M966.8 1335.9h0M968.2 1335.9h0M969.5 1336.0h0M970.9 1336.1h0M972.2 1336.1h0M973.6 1336.2h0M975.0 1336.3h0M976.3 1336.3h0M977.7 1336.4h0M979.0 1336.4h0M980.4 1336.5h0M981.7 1336.6h0M983.1 1336.6h0M984.4 1336.7h0M985.8 1336.8h0M987.1 1336.8h0M988.5 1336.9h0M989.8 1336.9h0M991.2 1337.0h0M992.5 1337.1h0M993.9 1337.1h0M995.2 1337.2h0M996.6 1337.2h0M997.9 1337.3h0M999.3 1337.4h0M1000.6 1337.4h0M1002.0 1337.5h0M1003.3 1337.5h0M1004.7 1337.6h0M1006.0 1337.7h0M1007.4 1337.7h0M1008.8 1337.8h0M1010.1 1337.8h0M1011.5 1337.9h0M1012.8 1338.0h0M1014.2 1338.0h0M1015.5 1338.1h0M1016.9 1338.1h0M1018.2 1338.2h0M1019.6 1338.3h0M1020.9 1338.3h0M1022.3 1338.4h0M1023.6 1338.4h0M1025.0 1338.5h0M1026.3 1338.5h0M1027.7 1338.6h0M1029.0 1338.7h0M1030.4 1338.7h0M1031.7 1338.8h0M1033.1 1338.8h0M1034.4 1338.9h0M1035.8 1339.0h0M1037.1 1339.0h0M1038.5 1339.1h0M1039.8 1339.1h0M1041.2 1339.2h0" stroke="#e0384a" stroke-width="13" stroke-linecap="round" fill="none"/></g>
<g clip-path="url(#cc)"><path d="M230.0 1349.2L231.4 1349.2L232.7 1349.2L234.1 1349.2L235.4 1349.2L236.8 1349.2L238.1 1349.2L239.5 1349.2L240.8 1349.2L242.2 1349.2L243.5 1349.2L244.9 1349.2L246.2 1349.2L247.6 1349.2L248.9 1349.2L250.3 1349.2L251.6 1349.2L253.0 1349.2L254.3 1349.2L255.7 1349.2L257.0 1349.2L258.4 1349.2L259.7 1349.2L261.1 1349.2L262.4 1349.2L263.8 1349.2L265.2 1349.2L266.5 1349.2L267.9 1349.2L269.2 1349.2L270.6 1349.2L271.9 1349.2L273.3 1349.2L274.6 1349.2L276.0 1349.2L277.3 1349.2L278.7 1349.2L280.0 1349.2L281.4 1349.2L282.7 1349.2L284.1 1349.2L285.4 1349.2L286.8 1349.2L288.1 1349.2L289.5 1349.2L290.8 1349.2L292.2 1349.2L293.5 1349.2L294.9 1349.2L296.2 1349.2L297.6 1349.2L299.0 1349.2L300.3 1349.2L301.7 1349.2L303.0 1349.2L304.4 1349.2L305.7 1349.2L307.1 1349.2L308.4 1349.2L309.8 1349.2L311.1 1349.2L312.5 1349.2L313.8 1349.2L315.2 1349.2L316.5 1349.2L317.9 1349.2L319.2 1349.2L320.6 1349.2L321.9 1349.2L323.3 1349.2L324.6 1349.2L326.0 1349.2L327.3 1346.7L328.7 1341.2L330.0 1332.6L331.4 1319.3L332.8 1302.9L334.1 1284.8L335.5 1266.4L336.8 1246.1L338.2 1222.8L339.5 1199.1L340.9 1177.6L342.2 1158.7L343.6 1141.2L344.9 1124.1L346.3 1106.8L347.6 1088.3L349.0 1069.2L350.3 1051.1L351.7 1035.5L353.0 1022.8L354.4 1011.8L355.7 1001.2L357.1 989.8L358.4 977.1L359.8 963.5L361.1 949.9L362.5 936.7L363.8 924.5L365.2 913.0L366.6 901.4L367.9 890.6L369.3 881.3L370.6 874.4L372.0 869.1L373.3 864.6L374.7 860.6L376.0 857.2L377.4 854.3L378.7 851.8L380.1 849.4L381.4 847.1L382.8 845.0L384.1 843.3L385.5 842.1L386.8 841.7L388.2 841.8L389.5 842.2L390.9 842.7L392.2 843.4L393.6 844.2L394.9 845.6L396.3 847.8L397.6 850.6L399.0 853.7L400.4 856.8L401.7 860.0L403.1 863.7L404.4 867.6L405.8 871.8L407.1 876.2L408.5 880.8L409.8 885.9L411.2 891.9L412.5 899.7L413.9 909.2L415.2 919.4L416.6 929.6L417.9 939.7L419.3 950.2L420.6 960.4L422.0 969.7L423.3 977.9L424.7 985.5L426.0 992.7L427.4 999.9L428.7 1007.0L430.1 1014.1L431.4 1021.0L432.8 1028.0L434.2 1035.0L435.5 1042.1L436.9 1049.4L438.2 1056.6L439.6 1063.8L440.9 1070.9L442.3 1077.7L443.6 1084.2L445.0 1090.7L446.3 1096.9L447.7 1103.1L449.0 1109.2L450.4 1115.3L451.7 1121.3L453.1 1127.3L454.4 1133.2L455.8 1139.0L457.1 1144.8L458.5 1150.5L459.8 1156.1L461.2 1161.7L462.5 1167.3L463.9 1172.7L465.2 1178.0L466.6 1183.1L468.0 1188.0L469.3 1192.8L470.7 1197.4L472.0 1201.9L473.4 1206.4L474.7 1210.7L476.1 1215.0L477.4 1219.2L478.8 1223.3L480.1 1227.3L481.5 1231.2L482.8 1234.8L484.2 1238.3L485.5 1241.9L486.9 1245.4L488.2 1248.5L489.6 1251.2L490.9 1253.4L492.3 1255.0L493.6 1256.5L495.0 1257.9L496.3 1259.1L497.7 1260.1L499.0 1261.1L500.4 1261.9L501.8 1262.6L503.1 1263.3L504.5 1263.9L505.8 1264.5L507.2 1265.0L508.5 1265.5L509.9 1266.0L511.2 1266.4L512.6 1266.9L513.9 1267.4L515.3 1268.0L516.6 1268.6L518.0 1269.1L519.3 1269.5L520.7 1269.8L522.0 1269.9L523.4 1269.9L524.7 1269.9L526.1 1269.8L527.4 1269.7L528.8 1269.6L530.1 1269.5L531.5 1269.3L532.8 1269.1L534.2 1268.9L535.6 1268.8L536.9 1268.6L538.3 1268.3L539.6 1268.1L541.0 1267.9L542.3 1267.7L543.7 1267.5L545.0 1267.3L546.4 1267.1L547.7 1266.9L549.1 1266.7L550.4 1266.5L551.8 1266.4L553.1 1266.2L554.5 1266.1L555.8 1266.0L557.2 1266.0L558.5 1265.9L559.9 1265.9L561.2 1265.9L562.6 1265.9L563.9 1266.0L565.3 1266.0L566.6 1266.0L568.0 1266.1L569.4 1266.2L570.7 1266.3L572.1 1266.3L573.4 1266.4L574.8 1266.5L576.1 1266.6L577.5 1266.7L578.8 1266.8L580.2 1267.0L581.5 1267.1L582.9 1267.2L584.2 1267.3L585.6 1267.5L586.9 1267.6L588.3 1267.7L589.6 1267.9L591.0 1268.0L592.3 1268.2L593.7 1268.3L595.0 1268.4L596.4 1268.6L597.7 1268.7L599.1 1268.8L600.4 1269.0L601.8 1269.2L603.2 1269.3L604.5 1269.5L605.9 1269.7L607.2 1269.9L608.6 1270.1L609.9 1270.3L611.3 1270.5L612.6 1270.7L614.0 1270.9L615.3 1271.2L616.7 1271.4L618.0 1271.7L619.4 1271.9L620.7 1272.2L622.1 1272.4L623.4 1272.7L624.8 1273.0L626.1 1273.3L627.5 1273.7L628.8 1274.0L630.2 1274.4L631.5 1274.8L632.9 1275.2L634.2 1275.6L635.6 1276.1L637.0 1276.5L638.3 1277.0L639.7 1277.4L641.0 1277.9L642.4 1278.4L643.7 1278.9L645.1 1279.4L646.4 1279.9L647.8 1280.4L649.1 1280.9L650.5 1281.4L651.8 1281.9L653.2 1282.4L654.5 1283.0L655.9 1283.5L657.2 1284.0L658.6 1284.5L659.9 1285.0L661.3 1285.5L662.6 1286.1L664.0 1286.6L665.3 1287.1L666.7 1287.7L668.0 1288.3L669.4 1288.8L670.8 1289.4L672.1 1290.0L673.5 1290.6L674.8 1291.2L676.2 1291.8L677.5 1292.4L678.9 1293.0L680.2 1293.6L681.6 1294.2L682.9 1294.8L684.3 1295.4L685.6 1296.0L687.0 1296.6L688.3 1297.2L689.7 1297.8L691.0 1298.4L692.4 1299.0L693.7 1299.7L695.1 1300.3L696.4 1301.0L697.8 1301.7L699.1 1302.5L700.5 1303.3L701.8 1304.0L703.2 1304.8L704.6 1305.6L705.9 1306.4L707.3 1307.2L708.6 1307.9L710.0 1308.7L711.3 1309.4L712.7 1310.0L714.0 1310.7L715.4 1311.3L716.7 1311.8L718.1 1312.3L719.4 1312.7L720.8 1313.0L722.1 1313.3L723.5 1313.5L724.8 1313.6L726.2 1313.7L727.5 1313.7L728.9 1313.8L730.2 1313.8L731.6 1313.9L732.9 1313.9L734.3 1313.9L735.6 1314.0L737.0 1314.0L738.4 1314.1L739.7 1314.1L741.1 1314.1L742.4 1314.2L743.8 1314.2L745.1 1314.2L746.5 1314.2L747.8 1314.3L749.2 1314.3L750.5 1314.3L751.9 1314.3L753.2 1314.4L754.6 1314.4L755.9 1314.4L757.3 1314.4L758.6 1314.4L760.0 1314.4L761.3 1314.5L762.7 1314.5L764.0 1314.5L765.4 1314.5L766.7 1314.5L768.1 1314.6L769.4 1314.6L770.8 1314.6L772.2 1314.6L773.5 1314.6L774.9 1314.7L776.2 1314.7L777.6 1314.7L778.9 1314.7L780.3 1314.7L781.6 1314.8L783.0 1314.8L784.3 1314.8L785.7 1314.8L787.0 1314.8L788.4 1314.8L789.7 1314.8L791.1 1314.9L792.4 1314.9L793.8 1314.9L795.1 1314.9L796.5 1314.9L797.8 1314.9L799.2 1314.9L800.5 1314.9L801.9 1314.9L803.2 1315.0L804.6 1315.0L806.0 1315.0L807.3 1315.0L808.7 1315.0L810.0 1315.0L811.4 1315.0L812.7 1315.0L814.1 1315.0L815.4 1315.1L816.8 1315.1L818.1 1315.1L819.5 1315.1L820.8 1315.1L822.2 1315.1L823.5 1315.1L824.9 1315.1L826.2 1315.2L827.6 1315.2L828.9 1315.2L830.3 1315.2L831.6 1315.2L833.0 1315.2L834.3 1315.2L835.7 1315.3L837.0 1315.3L838.4 1315.3L839.8 1315.3L841.1 1315.3L842.5 1315.4L843.8 1315.4L845.2 1315.4L846.5 1315.4L847.9 1315.4L849.2 1315.5L850.6 1315.5L851.9 1315.5L853.3 1315.5L854.6 1315.6L856.0 1315.6L857.3 1315.6L858.7 1315.7L860.0 1315.8L861.4 1315.8L862.7 1315.9L864.1 1316.0L865.4 1316.1L866.8 1316.2L868.1 1316.3L869.5 1316.4L870.8 1316.6L872.2 1316.7L873.6 1316.8L874.9 1317.0L876.3 1317.1L877.6 1317.3L879.0 1317.4L880.3 1317.6L881.7 1317.7L883.0 1317.9L884.4 1318.0L885.7 1318.2L887.1 1318.4L888.4 1318.5L889.8 1318.7L891.1 1318.8L892.5 1319.0L893.8 1319.1L895.2 1319.3L896.5 1319.4L897.9 1319.5L899.2 1319.6L900.6 1319.7L901.9 1319.9L903.3 1320.0L904.6 1320.0L906.0 1320.1L907.4 1320.2L908.7 1320.3L910.1 1320.3L911.4 1320.4L912.8 1320.5L914.1 1320.6L915.5 1320.6L916.8 1320.7L918.2 1320.8L919.5 1320.8L920.9 1320.9L922.2 1321.0L923.6 1321.0L924.9 1321.1L926.3 1321.2L927.6 1321.2L929.0 1321.3L930.3 1321.3L931.7 1321.4L933.0 1321.5L934.4 1321.5L935.7 1321.6L937.1 1321.6L938.4 1321.7L939.8 1321.7L941.2 1321.8L942.5 1321.9L943.9 1321.9L945.2 1322.0L946.6 1322.0L947.9 1322.1L949.3 1322.1L950.6 1322.2L952.0 1322.2L953.3 1322.3L954.7 1322.3L956.0 1322.4L957.4 1322.4L958.7 1322.5L960.1 1322.5L961.4 1322.6L962.8 1322.6L964.1 1322.6L965.5 1322.7L966.8 1322.7L968.2 1322.8L969.5 1322.8L970.9 1322.9L972.2 1322.9L973.6 1323.0L975.0 1323.0L976.3 1323.0L977.7 1323.1L979.0 1323.1L980.4 1323.2L981.7 1323.2L983.1 1323.3L984.4 1323.3L985.8 1323.3L987.1 1323.4L988.5 1323.4L989.8 1323.5L991.2 1323.5L992.5 1323.6L993.9 1323.6L995.2 1323.6L996.6 1323.7L997.9 1323.7L999.3 1323.8L1000.6 1323.8L1002.0 1323.8L1003.3 1323.9L1004.7 1323.9L1006.0 1324.0L1007.4 1324.0L1008.8 1324.1L1010.1 1324.1L1011.5 1324.1L1012.8 1324.2L1014.2 1324.2L1015.5 1324.3L1016.9 1324.3L1018.2 1324.4L1019.6 1324.4L1020.9 1324.4L1022.3 1324.5L1023.6 1324.5L1025.0 1324.6L1026.3 1324.6L1027.7 1324.7L1029.0 1324.7L1030.4 1324.8L1031.7 1324.8L1033.1 1324.9L1034.4 1324.9L1035.8 1324.9L1037.1 1325.0L1038.5 1325.0L1039.8 1325.1L1041.2 1325.1" fill="none" stroke="#1f6fdf" stroke-width="6" stroke-linejoin="round"/><path d="M230.0 1341.0l7.9 13.9h-15.8zM231.4 1341.0l7.9 13.9h-15.8zM232.7 1341.0l7.9 13.9h-15.8zM234.1 1341.0l7.9 13.9h-15.8zM235.4 1341.0l7.9 13.9h-15.8zM236.8 1341.0l7.9 13.9h-15.8zM238.1 1341.0l7.9 13.9h-15.8zM239.5 1341.0l7.9 13.9h-15.8zM240.8 1341.0l7.9 13.9h-15.8zM242.2 1341.0l7.9 13.9h-15.8zM243.5 1341.0l7.9 13.9h-15.8zM244.9 1341.0l7.9 13.9h-15.8zM246.2 1341.0l7.9 13.9h-15.8zM247.6 1341.0l7.9 13.9h-15.8zM248.9 1341.0l7.9 13.9h-15.8zM250.3 1341.0l7.9 13.9h-15.8zM251.6 1341.0l7.9 13.9h-15.8zM253.0 1341.0l7.9 13.9h-15.8zM254.3 1341.0l7.9 13.9h-15.8zM255.7 1341.0l7.9 13.9h-15.8zM257.0 1341.0l7.9 13.9h-15.8zM258.4 1341.0l7.9 13.9h-15.8zM259.7 1341.0l7.9 13.9h-15.8zM261.1 1341.0l7.9 13.9h-15.8zM262.4 1341.0l7.9 13.9h-15.8zM263.8 1341.0l7.9 13.9h-15.8zM265.2 1341.0l7.9 13.9h-15.8zM266.5 1341.0l7.9 13.9h-15.8zM267.9 1341.0l7.9 13.9h-15.8zM269.2 1341.0l7.9 13.9h-15.8zM270.6 1341.0l7.9 13.9h-15.8zM271.9 1341.0l7.9 13.9h-15.8zM273.3 1341.0l7.9 13.9h-15.8zM274.6 1341.0l7.9 13.9h-15.8zM276.0 1341.0l7.9 13.9h-15.8zM277.3 1341.0l7.9 13.9h-15.8zM278.7 1341.0l7.9 13.9h-15.8zM280.0 1341.0l7.9 13.9h-15.8zM281.4 1341.0l7.9 13.9h-15.8zM282.7 1341.0l7.9 13.9h-15.8zM284.1 1341.0l7.9 13.9h-15.8zM285.4 1341.0l7.9 13.9h-15.8zM286.8 1341.0l7.9 13.9h-15.8zM288.1 1341.0l7.9 13.9h-15.8zM289.5 1341.0l7.9 13.9h-15.8zM290.8 1341.0l7.9 13.9h-15.8zM292.2 1341.0l7.9 13.9h-15.8zM293.5 1341.0l7.9 13.9h-15.8zM294.9 1341.0l7.9 13.9h-15.8zM296.2 1341.0l7.9 13.9h-15.8zM297.6 1341.0l7.9 13.9h-15.8zM299.0 1341.0l7.9 13.9h-15.8zM300.3 1341.0l7.9 13.9h-15.8zM301.7 1341.0l7.9 13.9h-15.8zM303.0 1341.0l7.9 13.9h-15.8zM304.4 1341.0l7.9 13.9h-15.8zM305.7 1341.0l7.9 13.9h-15.8zM307.1 1341.0l7.9 13.9h-15.8zM308.4 1341.0l7.9 13.9h-15.8zM309.8 1341.0l7.9 13.9h-15.8zM311.1 1341.0l7.9 13.9h-15.8zM312.5 1341.0l7.9 13.9h-15.8zM313.8 1341.0l7.9 13.9h-15.8zM315.2 1341.0l7.9 13.9h-15.8zM316.5 1341.0l7.9 13.9h-15.8zM317.9 1341.0l7.9 13.9h-15.8zM319.2 1341.0l7.9 13.9h-15.8zM320.6 1341.0l7.9 13.9h-15.8zM321.9 1341.0l7.9 13.9h-15.8zM323.3 1341.0l7.9 13.9h-15.8zM324.6 1341.0l7.9 13.9h-15.8zM326.0 1341.0l7.9 13.9h-15.8zM327.3 1338.4l7.9 13.9h-15.8zM328.7 1333.0l7.9 13.9h-15.8zM330.0 1324.3l7.9 13.9h-15.8zM331.4 1311.1l7.9 13.9h-15.8zM332.8 1294.6l7.9 13.9h-15.8zM334.1 1276.5l7.9 13.9h-15.8zM335.5 1258.2l7.9 13.9h-15.8zM336.8 1237.8l7.9 13.9h-15.8zM338.2 1214.6l7.9 13.9h-15.8zM339.5 1190.9l7.9 13.9h-15.8zM340.9 1169.3l7.9 13.9h-15.8zM342.2 1150.5l7.9 13.9h-15.8zM343.6 1132.9l7.9 13.9h-15.8zM344.9 1115.9l7.9 13.9h-15.8zM346.3 1098.5l7.9 13.9h-15.8zM347.6 1080.0l7.9 13.9h-15.8zM349.0 1061.0l7.9 13.9h-15.8zM350.3 1042.9l7.9 13.9h-15.8zM351.7 1027.2l7.9 13.9h-15.8zM353.0 1014.6l7.9 13.9h-15.8zM354.4 1003.5l7.9 13.9h-15.8zM355.7 992.9l7.9 13.9h-15.8zM357.1 981.6l7.9 13.9h-15.8zM358.4 968.8l7.9 13.9h-15.8zM359.8 955.3l7.9 13.9h-15.8zM361.1 941.6l7.9 13.9h-15.8zM362.5 928.4l7.9 13.9h-15.8zM363.8 916.3l7.9 13.9h-15.8zM365.2 904.7l7.9 13.9h-15.8zM366.6 893.1l7.9 13.9h-15.8zM367.9 882.3l7.9 13.9h-15.8zM369.3 873.1l7.9 13.9h-15.8zM370.6 866.1l7.9 13.9h-15.8zM372.0 860.9l7.9 13.9h-15.8zM373.3 856.3l7.9 13.9h-15.8zM374.7 852.4l7.9 13.9h-15.8zM376.0 849.0l7.9 13.9h-15.8zM377.4 846.0l7.9 13.9h-15.8zM378.7 843.5l7.9 13.9h-15.8zM380.1 841.2l7.9 13.9h-15.8zM381.4 838.8l7.9 13.9h-15.8zM382.8 836.8l7.9 13.9h-15.8zM384.1 835.0l7.9 13.9h-15.8zM385.5 833.9l7.9 13.9h-15.8zM386.8 833.5l7.9 13.9h-15.8zM388.2 833.6l7.9 13.9h-15.8zM389.5 834.0l7.9 13.9h-15.8zM390.9 834.5l7.9 13.9h-15.8zM392.2 835.2l7.9 13.9h-15.8zM393.6 836.0l7.9 13.9h-15.8zM394.9 837.3l7.9 13.9h-15.8zM396.3 839.5l7.9 13.9h-15.8zM397.6 842.3l7.9 13.9h-15.8zM399.0 845.4l7.9 13.9h-15.8zM400.4 848.5l7.9 13.9h-15.8zM401.7 851.8l7.9 13.9h-15.8zM403.1 855.4l7.9 13.9h-15.8zM404.4 859.4l7.9 13.9h-15.8zM405.8 863.6l7.9 13.9h-15.8zM407.1 867.9l7.9 13.9h-15.8zM408.5 872.5l7.9 13.9h-15.8zM409.8 877.7l7.9 13.9h-15.8zM411.2 883.7l7.9 13.9h-15.8zM412.5 891.4l7.9 13.9h-15.8zM413.9 900.9l7.9 13.9h-15.8zM415.2 911.2l7.9 13.9h-15.8zM416.6 921.3l7.9 13.9h-15.8zM417.9 931.4l7.9 13.9h-15.8zM419.3 942.0l7.9 13.9h-15.8zM420.6 952.2l7.9 13.9h-15.8zM422.0 961.5l7.9 13.9h-15.8zM423.3 969.7l7.9 13.9h-15.8zM424.7 977.2l7.9 13.9h-15.8zM426.0 984.4l7.9 13.9h-15.8zM427.4 991.6l7.9 13.9h-15.8zM428.7 998.8l7.9 13.9h-15.8zM430.1 1005.8l7.9 13.9h-15.8zM431.4 1012.8l7.9 13.9h-15.8zM432.8 1019.7l7.9 13.9h-15.8zM434.2 1026.7l7.9 13.9h-15.8zM435.5 1033.9l7.9 13.9h-15.8zM436.9 1041.1l7.9 13.9h-15.8zM438.2 1048.4l7.9 13.9h-15.8zM439.6 1055.6l7.9 13.9h-15.8zM440.9 1062.6l7.9 13.9h-15.8zM442.3 1069.4l7.9 13.9h-15.8zM443.6 1076.0l7.9 13.9h-15.8zM445.0 1082.4l7.9 13.9h-15.8zM446.3 1088.7l7.9 13.9h-15.8zM447.7 1094.9l7.9 13.9h-15.8zM449.0 1101.0l7.9 13.9h-15.8zM450.4 1107.1l7.9 13.9h-15.8zM451.7 1113.1l7.9 13.9h-15.8zM453.1 1119.0l7.9 13.9h-15.8zM454.4 1124.9l7.9 13.9h-15.8zM455.8 1130.8l7.9 13.9h-15.8zM457.1 1136.5l7.9 13.9h-15.8zM458.5 1142.2l7.9 13.9h-15.8zM459.8 1147.8l7.9 13.9h-15.8zM461.2 1153.5l7.9 13.9h-15.8zM462.5 1159.0l7.9 13.9h-15.8zM463.9 1164.4l7.9 13.9h-15.8zM465.2 1169.7l7.9 13.9h-15.8zM466.6 1174.8l7.9 13.9h-15.8zM468.0 1179.7l7.9 13.9h-15.8zM469.3 1184.5l7.9 13.9h-15.8zM470.7 1189.2l7.9 13.9h-15.8zM472.0 1193.7l7.9 13.9h-15.8zM473.4 1198.1l7.9 13.9h-15.8zM474.7 1202.4l7.9 13.9h-15.8zM476.1 1206.7l7.9 13.9h-15.8zM477.4 1210.9l7.9 13.9h-15.8zM478.8 1215.1l7.9 13.9h-15.8zM480.1 1219.1l7.9 13.9h-15.8zM481.5 1222.9l7.9 13.9h-15.8zM482.8 1226.5l7.9 13.9h-15.8zM484.2 1230.1l7.9 13.9h-15.8zM485.5 1233.7l7.9 13.9h-15.8zM486.9 1237.1l7.9 13.9h-15.8zM488.2 1240.3l7.9 13.9h-15.8zM489.6 1243.0l7.9 13.9h-15.8zM490.9 1245.1l7.9 13.9h-15.8zM492.3 1246.8l7.9 13.9h-15.8zM493.6 1248.3l7.9 13.9h-15.8zM495.0 1249.6l7.9 13.9h-15.8zM496.3 1250.8l7.9 13.9h-15.8zM497.7 1251.9l7.9 13.9h-15.8zM499.0 1252.8l7.9 13.9h-15.8zM500.4 1253.6l7.9 13.9h-15.8zM501.8 1254.4l7.9 13.9h-15.8zM503.1 1255.1l7.9 13.9h-15.8zM504.5 1255.7l7.9 13.9h-15.8zM505.8 1256.2l7.9 13.9h-15.8zM507.2 1256.7l7.9 13.9h-15.8zM508.5 1257.2l7.9 13.9h-15.8zM509.9 1257.7l7.9 13.9h-15.8zM511.2 1258.2l7.9 13.9h-15.8zM512.6 1258.7l7.9 13.9h-15.8zM513.9 1259.2l7.9 13.9h-15.8zM515.3 1259.8l7.9 13.9h-15.8zM516.6 1260.3l7.9 13.9h-15.8zM518.0 1260.8l7.9 13.9h-15.8zM519.3 1261.3l7.9 13.9h-15.8zM520.7 1261.6l7.9 13.9h-15.8zM522.0 1261.7l7.9 13.9h-15.8zM523.4 1261.7l7.9 13.9h-15.8zM524.7 1261.6l7.9 13.9h-15.8zM526.1 1261.5l7.9 13.9h-15.8zM527.4 1261.5l7.9 13.9h-15.8zM528.8 1261.3l7.9 13.9h-15.8zM530.1 1261.2l7.9 13.9h-15.8zM531.5 1261.0l7.9 13.9h-15.8zM532.8 1260.9l7.9 13.9h-15.8zM534.2 1260.7l7.9 13.9h-15.8zM535.6 1260.5l7.9 13.9h-15.8zM536.9 1260.3l7.9 13.9h-15.8zM538.3 1260.1l7.9 13.9h-15.8zM539.6 1259.9l7.9 13.9h-15.8zM541.0 1259.7l7.9 13.9h-15.8zM542.3 1259.5l7.9 13.9h-15.8zM543.7 1259.2l7.9 13.9h-15.8zM545.0 1259.0l7.9 13.9h-15.8zM546.4 1258.8l7.9 13.9h-15.8zM547.7 1258.6l7.9 13.9h-15.8zM549.1 1258.5l7.9 13.9h-15.8zM550.4 1258.3l7.9 13.9h-15.8zM551.8 1258.1l7.9 13.9h-15.8zM553.1 1258.0l7.9 13.9h-15.8zM554.5 1257.9l7.9 13.9h-15.8zM555.8 1257.8l7.9 13.9h-15.8zM557.2 1257.7l7.9 13.9h-15.8zM558.5 1257.7l7.9 13.9h-15.8zM559.9 1257.7l7.9 13.9h-15.8zM561.2 1257.7l7.9 13.9h-15.8zM562.6 1257.7l7.9 13.9h-15.8zM563.9 1257.7l7.9 13.9h-15.8zM565.3 1257.8l7.9 13.9h-15.8zM566.6 1257.8l7.9 13.9h-15.8zM568.0 1257.9l7.9 13.9h-15.8zM569.4 1257.9l7.9 13.9h-15.8zM570.7 1258.0l7.9 13.9h-15.8zM572.1 1258.1l7.9 13.9h-15.8zM573.4 1258.2l7.9 13.9h-15.8zM574.8 1258.3l7.9 13.9h-15.8zM576.1 1258.4l7.9 13.9h-15.8zM577.5 1258.5l7.9 13.9h-15.8zM578.8 1258.6l7.9 13.9h-15.8zM580.2 1258.7l7.9 13.9h-15.8zM581.5 1258.8l7.9 13.9h-15.8zM582.9 1259.0l7.9 13.9h-15.8zM584.2 1259.1l7.9 13.9h-15.8zM585.6 1259.2l7.9 13.9h-15.8zM586.9 1259.4l7.9 13.9h-15.8zM588.3 1259.5l7.9 13.9h-15.8zM589.6 1259.6l7.9 13.9h-15.8zM591.0 1259.8l7.9 13.9h-15.8zM592.3 1259.9l7.9 13.9h-15.8zM593.7 1260.0l7.9 13.9h-15.8zM595.0 1260.2l7.9 13.9h-15.8zM596.4 1260.3l7.9 13.9h-15.8zM597.7 1260.4l7.9 13.9h-15.8zM599.1 1260.6l7.9 13.9h-15.8zM600.4 1260.8l7.9 13.9h-15.8zM601.8 1260.9l7.9 13.9h-15.8zM603.2 1261.1l7.9 13.9h-15.8zM604.5 1261.3l7.9 13.9h-15.8zM605.9 1261.4l7.9 13.9h-15.8zM607.2 1261.6l7.9 13.9h-15.8zM608.6 1261.8l7.9 13.9h-15.8zM609.9 1262.0l7.9 13.9h-15.8zM611.3 1262.2l7.9 13.9h-15.8zM612.6 1262.5l7.9 13.9h-15.8zM614.0 1262.7l7.9 13.9h-15.8zM615.3 1262.9l7.9 13.9h-15.8zM616.7 1263.2l7.9 13.9h-15.8zM618.0 1263.4l7.9 13.9h-15.8zM619.4 1263.7l7.9 13.9h-15.8zM620.7 1263.9l7.9 13.9h-15.8zM622.1 1264.2l7.9 13.9h-15.8zM623.4 1264.5l7.9 13.9h-15.8zM624.8 1264.8l7.9 13.9h-15.8zM626.1 1265.1l7.9 13.9h-15.8zM627.5 1265.4l7.9 13.9h-15.8zM628.8 1265.8l7.9 13.9h-15.8zM630.2 1266.2l7.9 13.9h-15.8zM631.5 1266.6l7.9 13.9h-15.8zM632.9 1267.0l7.9 13.9h-15.8zM634.2 1267.4l7.9 13.9h-15.8zM635.6 1267.8l7.9 13.9h-15.8zM637.0 1268.3l7.9 13.9h-15.8zM638.3 1268.7l7.9 13.9h-15.8zM639.7 1269.2l7.9 13.9h-15.8zM641.0 1269.7l7.9 13.9h-15.8zM642.4 1270.1l7.9 13.9h-15.8zM643.7 1270.6l7.9 13.9h-15.8zM645.1 1271.1l7.9 13.9h-15.8zM646.4 1271.6l7.9 13.9h-15.8zM647.8 1272.1l7.9 13.9h-15.8zM649.1 1272.6l7.9 13.9h-15.8zM650.5 1273.2l7.9 13.9h-15.8zM651.8 1273.7l7.9 13.9h-15.8zM653.2 1274.2l7.9 13.9h-15.8zM654.5 1274.7l7.9 13.9h-15.8zM655.9 1275.2l7.9 13.9h-15.8zM657.2 1275.7l7.9 13.9h-15.8zM658.6 1276.2l7.9 13.9h-15.8zM659.9 1276.7l7.9 13.9h-15.8zM661.3 1277.3l7.9 13.9h-15.8zM662.6 1277.8l7.9 13.9h-15.8zM664.0 1278.3l7.9 13.9h-15.8zM665.3 1278.9l7.9 13.9h-15.8zM666.7 1279.5l7.9 13.9h-15.8zM668.0 1280.0l7.9 13.9h-15.8zM669.4 1280.6l7.9 13.9h-15.8zM670.8 1281.2l7.9 13.9h-15.8zM672.1 1281.8l7.9 13.9h-15.8zM673.5 1282.3l7.9 13.9h-15.8zM674.8 1282.9l7.9 13.9h-15.8zM676.2 1283.5l7.9 13.9h-15.8zM677.5 1284.1l7.9 13.9h-15.8zM678.9 1284.7l7.9 13.9h-15.8zM680.2 1285.3l7.9 13.9h-15.8zM681.6 1286.0l7.9 13.9h-15.8zM682.9 1286.6l7.9 13.9h-15.8zM684.3 1287.2l7.9 13.9h-15.8zM685.6 1287.8l7.9 13.9h-15.8zM687.0 1288.4l7.9 13.9h-15.8zM688.3 1289.0l7.9 13.9h-15.8zM689.7 1289.6l7.9 13.9h-15.8zM691.0 1290.2l7.9 13.9h-15.8zM692.4 1290.8l7.9 13.9h-15.8zM693.7 1291.4l7.9 13.9h-15.8zM695.1 1292.1l7.9 13.9h-15.8zM696.4 1292.8l7.9 13.9h-15.8zM697.8 1293.5l7.9 13.9h-15.8zM699.1 1294.2l7.9 13.9h-15.8zM700.5 1295.0l7.9 13.9h-15.8zM701.8 1295.8l7.9 13.9h-15.8zM703.2 1296.6l7.9 13.9h-15.8zM704.6 1297.4l7.9 13.9h-15.8zM705.9 1298.1l7.9 13.9h-15.8zM707.3 1298.9l7.9 13.9h-15.8zM708.6 1299.7l7.9 13.9h-15.8zM710.0 1300.4l7.9 13.9h-15.8zM711.3 1301.1l7.9 13.9h-15.8zM712.7 1301.8l7.9 13.9h-15.8zM714.0 1302.4l7.9 13.9h-15.8zM715.4 1303.0l7.9 13.9h-15.8zM716.7 1303.5l7.9 13.9h-15.8zM718.1 1304.0l7.9 13.9h-15.8zM719.4 1304.4l7.9 13.9h-15.8zM720.8 1304.8l7.9 13.9h-15.8zM722.1 1305.1l7.9 13.9h-15.8zM723.5 1305.2l7.9 13.9h-15.8zM724.8 1305.3l7.9 13.9h-15.8zM726.2 1305.4l7.9 13.9h-15.8zM727.5 1305.5l7.9 13.9h-15.8zM728.9 1305.5l7.9 13.9h-15.8zM730.2 1305.6l7.9 13.9h-15.8zM731.6 1305.6l7.9 13.9h-15.8zM732.9 1305.7l7.9 13.9h-15.8zM734.3 1305.7l7.9 13.9h-15.8zM735.6 1305.7l7.9 13.9h-15.8zM737.0 1305.8l7.9 13.9h-15.8zM738.4 1305.8l7.9 13.9h-15.8zM739.7 1305.8l7.9 13.9h-15.8zM741.1 1305.9l7.9 13.9h-15.8zM742.4 1305.9l7.9 13.9h-15.8zM743.8 1305.9l7.9 13.9h-15.8zM745.1 1306.0l7.9 13.9h-15.8zM746.5 1306.0l7.9 13.9h-15.8zM747.8 1306.0l7.9 13.9h-15.8zM749.2 1306.0l7.9 13.9h-15.8zM750.5 1306.1l7.9 13.9h-15.8zM751.9 1306.1l7.9 13.9h-15.8zM753.2 1306.1l7.9 13.9h-15.8zM754.6 1306.1l7.9 13.9h-15.8zM755.9 1306.1l7.9 13.9h-15.8zM757.3 1306.2l7.9 13.9h-15.8zM758.6 1306.2l7.9 13.9h-15.8zM760.0 1306.2l7.9 13.9h-15.8zM761.3 1306.2l7.9 13.9h-15.8zM762.7 1306.2l7.9 13.9h-15.8zM764.0 1306.3l7.9 13.9h-15.8zM765.4 1306.3l7.9 13.9h-15.8zM766.7 1306.3l7.9 13.9h-15.8zM768.1 1306.3l7.9 13.9h-15.8zM769.4 1306.3l7.9 13.9h-15.8zM770.8 1306.4l7.9 13.9h-15.8zM772.2 1306.4l7.9 13.9h-15.8zM773.5 1306.4l7.9 13.9h-15.8zM774.9 1306.4l7.9 13.9h-15.8zM776.2 1306.4l7.9 13.9h-15.8zM777.6 1306.5l7.9 13.9h-15.8zM778.9 1306.5l7.9 13.9h-15.8zM780.3 1306.5l7.9 13.9h-15.8zM781.6 1306.5l7.9 13.9h-15.8zM783.0 1306.5l7.9 13.9h-15.8zM784.3 1306.5l7.9 13.9h-15.8zM785.7 1306.5l7.9 13.9h-15.8zM787.0 1306.6l7.9 13.9h-15.8zM788.4 1306.6l7.9 13.9h-15.8zM789.7 1306.6l7.9 13.9h-15.8zM791.1 1306.6l7.9 13.9h-15.8zM792.4 1306.6l7.9 13.9h-15.8zM793.8 1306.6l7.9 13.9h-15.8zM795.1 1306.6l7.9 13.9h-15.8zM796.5 1306.6l7.9 13.9h-15.8zM797.8 1306.7l7.9 13.9h-15.8zM799.2 1306.7l7.9 13.9h-15.8zM800.5 1306.7l7.9 13.9h-15.8zM801.9 1306.7l7.9 13.9h-15.8zM803.2 1306.7l7.9 13.9h-15.8zM804.6 1306.7l7.9 13.9h-15.8zM806.0 1306.7l7.9 13.9h-15.8zM807.3 1306.7l7.9 13.9h-15.8zM808.7 1306.7l7.9 13.9h-15.8zM810.0 1306.8l7.9 13.9h-15.8zM811.4 1306.8l7.9 13.9h-15.8zM812.7 1306.8l7.9 13.9h-15.8zM814.1 1306.8l7.9 13.9h-15.8zM815.4 1306.8l7.9 13.9h-15.8zM816.8 1306.8l7.9 13.9h-15.8zM818.1 1306.8l7.9 13.9h-15.8zM819.5 1306.8l7.9 13.9h-15.8zM820.8 1306.8l7.9 13.9h-15.8zM822.2 1306.9l7.9 13.9h-15.8zM823.5 1306.9l7.9 13.9h-15.8zM824.9 1306.9l7.9 13.9h-15.8zM826.2 1306.9l7.9 13.9h-15.8zM827.6 1306.9l7.9 13.9h-15.8zM828.9 1306.9l7.9 13.9h-15.8zM830.3 1306.9l7.9 13.9h-15.8zM831.6 1307.0l7.9 13.9h-15.8zM833.0 1307.0l7.9 13.9h-15.8zM834.3 1307.0l7.9 13.9h-15.8zM835.7 1307.0l7.9 13.9h-15.8zM837.0 1307.0l7.9 13.9h-15.8zM838.4 1307.0l7.9 13.9h-15.8zM839.8 1307.1l7.9 13.9h-15.8zM841.1 1307.1l7.9 13.9h-15.8zM842.5 1307.1l7.9 13.9h-15.8zM843.8 1307.1l7.9 13.9h-15.8zM845.2 1307.1l7.9 13.9h-15.8zM846.5 1307.2l7.9 13.9h-15.8zM847.9 1307.2l7.9 13.9h-15.8zM849.2 1307.2l7.9 13.9h-15.8zM850.6 1307.2l7.9 13.9h-15.8zM851.9 1307.3l7.9 13.9h-15.8zM853.3 1307.3l7.9 13.9h-15.8zM854.6 1307.3l7.9 13.9h-15.8zM856.0 1307.4l7.9 13.9h-15.8zM857.3 1307.4l7.9 13.9h-15.8zM858.7 1307.4l7.9 13.9h-15.8zM860.0 1307.5l7.9 13.9h-15.8zM861.4 1307.6l7.9 13.9h-15.8zM862.7 1307.7l7.9 13.9h-15.8zM864.1 1307.7l7.9 13.9h-15.8zM865.4 1307.8l7.9 13.9h-15.8zM866.8 1307.9l7.9 13.9h-15.8zM868.1 1308.1l7.9 13.9h-15.8zM869.5 1308.2l7.9 13.9h-15.8zM870.8 1308.3l7.9 13.9h-15.8zM872.2 1308.4l7.9 13.9h-15.8zM873.6 1308.6l7.9 13.9h-15.8zM874.9 1308.7l7.9 13.9h-15.8zM876.3 1308.9l7.9 13.9h-15.8zM877.6 1309.0l7.9 13.9h-15.8zM879.0 1309.2l7.9 13.9h-15.8zM880.3 1309.3l7.9 13.9h-15.8zM881.7 1309.5l7.9 13.9h-15.8zM883.0 1309.6l7.9 13.9h-15.8zM884.4 1309.8l7.9 13.9h-15.8zM885.7 1310.0l7.9 13.9h-15.8zM887.1 1310.1l7.9 13.9h-15.8zM888.4 1310.3l7.9 13.9h-15.8zM889.8 1310.4l7.9 13.9h-15.8zM891.1 1310.6l7.9 13.9h-15.8zM892.5 1310.7l7.9 13.9h-15.8zM893.8 1310.9l7.9 13.9h-15.8zM895.2 1311.0l7.9 13.9h-15.8zM896.5 1311.1l7.9 13.9h-15.8zM897.9 1311.3l7.9 13.9h-15.8zM899.2 1311.4l7.9 13.9h-15.8zM900.6 1311.5l7.9 13.9h-15.8zM901.9 1311.6l7.9 13.9h-15.8zM903.3 1311.7l7.9 13.9h-15.8zM904.6 1311.8l7.9 13.9h-15.8zM906.0 1311.9l7.9 13.9h-15.8zM907.4 1312.0l7.9 13.9h-15.8zM908.7 1312.0l7.9 13.9h-15.8zM910.1 1312.1l7.9 13.9h-15.8zM911.4 1312.2l7.9 13.9h-15.8zM912.8 1312.2l7.9 13.9h-15.8zM914.1 1312.3l7.9 13.9h-15.8zM915.5 1312.4l7.9 13.9h-15.8zM916.8 1312.5l7.9 13.9h-15.8zM918.2 1312.5l7.9 13.9h-15.8zM919.5 1312.6l7.9 13.9h-15.8zM920.9 1312.7l7.9 13.9h-15.8zM922.2 1312.7l7.9 13.9h-15.8zM923.6 1312.8l7.9 13.9h-15.8zM924.9 1312.8l7.9 13.9h-15.8zM926.3 1312.9l7.9 13.9h-15.8zM927.6 1313.0l7.9 13.9h-15.8zM929.0 1313.0l7.9 13.9h-15.8zM930.3 1313.1l7.9 13.9h-15.8zM931.7 1313.2l7.9 13.9h-15.8zM933.0 1313.2l7.9 13.9h-15.8zM934.4 1313.3l7.9 13.9h-15.8zM935.7 1313.3l7.9 13.9h-15.8zM937.1 1313.4l7.9 13.9h-15.8zM938.4 1313.4l7.9 13.9h-15.8zM939.8 1313.5l7.9 13.9h-15.8zM941.2 1313.5l7.9 13.9h-15.8zM942.5 1313.6l7.9 13.9h-15.8zM943.9 1313.7l7.9 13.9h-15.8zM945.2 1313.7l7.9 13.9h-15.8zM946.6 1313.8l7.9 13.9h-15.8zM947.9 1313.8l7.9 13.9h-15.8zM949.3 1313.9l7.9 13.9h-15.8zM950.6 1313.9l7.9 13.9h-15.8zM952.0 1314.0l7.9 13.9h-15.8zM953.3 1314.0l7.9 13.9h-15.8zM954.7 1314.1l7.9 13.9h-15.8zM956.0 1314.1l7.9 13.9h-15.8zM957.4 1314.2l7.9 13.9h-15.8zM958.7 1314.2l7.9 13.9h-15.8zM960.1 1314.3l7.9 13.9h-15.8zM961.4 1314.3l7.9 13.9h-15.8zM962.8 1314.3l7.9 13.9h-15.8zM964.1 1314.4l7.9 13.9h-15.8zM965.5 1314.4l7.9 13.9h-15.8zM966.8 1314.5l7.9 13.9h-15.8zM968.2 1314.5l7.9 13.9h-15.8zM969.5 1314.6l7.9 13.9h-15.8zM970.9 1314.6l7.9 13.9h-15.8zM972.2 1314.7l7.9 13.9h-15.8zM973.6 1314.7l7.9 13.9h-15.8zM975.0 1314.8l7.9 13.9h-15.8zM976.3 1314.8l7.9 13.9h-15.8zM977.7 1314.8l7.9 13.9h-15.8zM979.0 1314.9l7.9 13.9h-15.8zM980.4 1314.9l7.9 13.9h-15.8zM981.7 1315.0l7.9 13.9h-15.8zM983.1 1315.0l7.9 13.9h-15.8zM984.4 1315.1l7.9 13.9h-15.8zM985.8 1315.1l7.9 13.9h-15.8zM987.1 1315.1l7.9 13.9h-15.8zM988.5 1315.2l7.9 13.9h-15.8zM989.8 1315.2l7.9 13.9h-15.8zM991.2 1315.3l7.9 13.9h-15.8zM992.5 1315.3l7.9 13.9h-15.8zM993.9 1315.3l7.9 13.9h-15.8zM995.2 1315.4l7.9 13.9h-15.8zM996.6 1315.4l7.9 13.9h-15.8zM997.9 1315.5l7.9 13.9h-15.8zM999.3 1315.5l7.9 13.9h-15.8zM1000.6 1315.6l7.9 13.9h-15.8zM1002.0 1315.6l7.9 13.9h-15.8zM1003.3 1315.6l7.9 13.9h-15.8zM1004.7 1315.7l7.9 13.9h-15.8zM1006.0 1315.7l7.9 13.9h-15.8zM1007.4 1315.8l7.9 13.9h-15.8zM1008.8 1315.8l7.9 13.9h-15.8zM1010.1 1315.8l7.9 13.9h-15.8zM1011.5 1315.9l7.9 13.9h-15.8zM1012.8 1315.9l7.9 13.9h-15.8zM1014.2 1316.0l7.9 13.9h-15.8zM1015.5 1316.0l7.9 13.9h-15.8zM1016.9 1316.1l7.9 13.9h-15.8zM1018.2 1316.1l7.9 13.9h-15.8zM1019.6 1316.1l7.9 13.9h-15.8zM1020.9 1316.2l7.9 13.9h-15.8zM1022.3 1316.2l7.9 13.9h-15.8zM1023.6 1316.3l7.9 13.9h-15.8zM1025.0 1316.3l7.9 13.9h-15.8zM1026.3 1316.4l7.9 13.9h-15.8zM1027.7 1316.4l7.9 13.9h-15.8zM1029.0 1316.5l7.9 13.9h-15.8zM1030.4 1316.5l7.9 13.9h-15.8zM1031.7 1316.6l7.9 13.9h-15.8zM1033.1 1316.6l7.9 13.9h-15.8zM1034.4 1316.7l7.9 13.9h-15.8zM1035.8 1316.7l7.9 13.9h-15.8zM1037.1 1316.7l7.9 13.9h-15.8zM1038.5 1316.8l7.9 13.9h-15.8zM1039.8 1316.8l7.9 13.9h-15.8zM1041.2 1316.9l7.9 13.9h-15.8z" fill="#1f6fdf"/></g>
<rect x="230" y="748.5" width="812" height="655.5" fill="none" stroke="#1e1e1e" stroke-width="4"/>
<line x1="230" y1="1351.25" x2="242" y2="1351.25" stroke="#1e1e1e" stroke-width="4"/>
<line x1="230" y1="1250.85" x2="242" y2="1250.85" stroke="#1e1e1e" stroke-width="4"/>
<line x1="230" y1="1150.45" x2="242" y2="1150.45" stroke="#1e1e1e" stroke-width="4"/>
<line x1="230" y1="1050.05" x2="242" y2="1050.05" stroke="#1e1e1e" stroke-width="4"/>
<line x1="230" y1="949.65" x2="242" y2="949.65" stroke="#1e1e1e" stroke-width="4"/>
<line x1="230" y1="849.25" x2="242" y2="849.25" stroke="#1e1e1e" stroke-width="4"/>
<line x1="365.20" y1="1404" x2="365.20" y2="1392" stroke="#1e1e1e" stroke-width="4"/>
<line x1="500.40" y1="1404" x2="500.40" y2="1392" stroke="#1e1e1e" stroke-width="4"/>
<line x1="635.60" y1="1404" x2="635.60" y2="1392" stroke="#1e1e1e" stroke-width="4"/>
<line x1="770.80" y1="1404" x2="770.80" y2="1392" stroke="#1e1e1e" stroke-width="4"/>
<line x1="906.00" y1="1404" x2="906.00" y2="1392" stroke="#1e1e1e" stroke-width="4"/>
<text transform="translate(213.00,1370.25)" font-size="57" text-anchor="end" fill="#000" >0</text>
<text transform="translate(213.00,1269.85)" font-size="57" text-anchor="end" fill="#000" >200</text>
<text transform="translate(213.00,1169.45)" font-size="57" text-anchor="end" fill="#000" >400</text>
<text transform="translate(213.00,1069.05)" font-size="57" text-anchor="end" fill="#000" >600</text>
<text transform="translate(213.00,968.65)" font-size="57" text-anchor="end" fill="#000" >800</text>
<text transform="translate(213.00,868.25)" font-size="57" text-anchor="end" fill="#000" >1000</text>
<text transform="translate(213.00,767.85)" font-size="57" text-anchor="end" fill="#000" >1200</text>
<text transform="translate(230.00,1461.00)" font-size="56" text-anchor="middle" fill="#000" >0</text>
<text transform="translate(365.20,1461.00)" font-size="56" text-anchor="middle" fill="#000" >100</text>
<text transform="translate(500.40,1461.00)" font-size="56" text-anchor="middle" fill="#000" >200</text>
<text transform="translate(635.60,1461.00)" font-size="56" text-anchor="middle" fill="#000" >300</text>
<text transform="translate(770.80,1461.00)" font-size="56" text-anchor="middle" fill="#000" >400</text>
<text transform="translate(906.00,1461.00)" font-size="56" text-anchor="middle" fill="#000" >500</text>
<text transform="translate(1041.20,1461.00)" font-size="56" text-anchor="middle" fill="#000" >600</text>
<text transform="translate(646.00,1518.00)" font-size="56" text-anchor="middle" fill="#000" >Time (s)</text>
<text transform="translate(108.70,1070.00) rotate(-90)" font-size="54.5" text-anchor="middle" fill="#000" >HRR (kW/m<tspan font-size="37" dy="-20">2</tspan><tspan dy="20">)</tspan></text>
<text transform="translate(70.00,794.00)" font-size="68" text-anchor="middle" fill="#000" >(c)</text>
<rect x="598" y="774" width="437" height="179" fill="#000"/>
<rect x="589" y="764" width="437" height="179" fill="#fff" stroke="#b8b8b8" stroke-width="2"/>
<line x1="593" y1="795" x2="693" y2="795" stroke="#4a4a4a" stroke-width="4.5" opacity="0.9"/>
<rect x="636.5" y="788.5" width="13" height="13" fill="#4a4a4a"/>
<text transform="translate(706.00,809.19)" font-size="43" text-anchor="start" fill="#000" >EP-0</text>
<line x1="593" y1="855" x2="693" y2="855" stroke="#e0384a" stroke-width="4.5" opacity="0.9"/>
<circle cx="643.0" cy="855.0" r="6.5" fill="#e0384a"/>
<text transform="translate(706.00,869.19)" font-size="43" text-anchor="start" fill="#000" >D-Mt-Fe<tspan font-size="27.0" dy="-18.0">3+</tspan><tspan dy="18.0">/EP-5</tspan></text>
<line x1="593" y1="914" x2="693" y2="914" stroke="#1f6fdf" stroke-width="4.5" opacity="0.9"/>
<path d="M643.0,906.9l6.8,12.0h-13.7z" fill="#1f6fdf"/>
<text transform="translate(706.00,928.19)" font-size="43" text-anchor="start" fill="#000" >D-Mt-Fe<tspan font-size="27.0" dy="-18.0">3+</tspan><tspan dy="18.0">/EP-10</tspan></text>
<clipPath id="cd"><rect x="1253.5" y="746" width="817.5" height="659.5"/></clipPath>
<g clip-path="url(#cd)"><path d="M1253.5 1357.7L1260.3 1356.9L1267.1 1357.3L1273.9 1356.7L1280.8 1356.7L1287.6 1358.1L1294.4 1358.3L1301.2 1356.1L1308.0 1357.6L1314.8 1357.7L1321.6 1355.7L1328.4 1357.1L1335.2 1356.1L1342.1 1357.1L1348.9 1356.6L1355.7 1357.0L1362.5 1357.0L1370.7 1355.1L1376.1 1238.6L1382.9 1056.2L1389.8 985.5L1396.6 962.2L1403.4 934.0L1410.2 915.2L1417.0 904.9L1423.8 905.8L1430.6 813.1L1437.4 890.8L1444.2 865.4L1451.1 892.6L1457.9 946.0L1464.7 1018.6L1471.5 1080.6L1478.3 1103.2L1485.1 1122.0L1491.9 1140.8L1498.8 1154.0L1505.6 1187.8L1512.4 1206.6L1519.2 1229.2L1526.0 1244.2L1532.8 1248.0L1539.6 1253.6L1546.4 1263.0L1553.2 1268.6L1560.1 1272.4L1566.9 1276.2L1573.7 1280.9L1580.5 1285.6L1587.3 1289.3L1594.1 1293.1L1600.9 1296.8L1607.8 1300.6L1614.6 1303.4L1621.4 1306.2L1628.2 1309.1L1635.0 1311.9L1641.8 1315.6L1648.6 1319.4L1655.4 1322.2L1662.2 1325.0L1669.1 1330.6L1675.9 1327.6L1682.7 1332.8L1689.5 1338.3L1696.3 1343.2L1703.1 1338.6L1709.9 1339.2L1716.8 1349.6L1723.6 1344.8L1730.4 1350.3L1737.2 1353.7L1744.0 1353.3L1750.8 1349.3L1757.6 1348.8L1764.4 1357.1L1771.2 1352.2L1778.1 1358.0L1784.9 1352.1L1791.7 1356.2L1798.5 1351.5L1805.3 1350.6L1812.1 1355.1L1818.9 1350.4L1825.8 1356.9L1832.6 1359.1L1839.4 1354.2L1846.2 1359.5L1853.0 1358.0L1859.8 1356.0L1866.6 1354.1L1873.4 1358.4L1880.2 1359.4L1887.1 1351.7L1893.9 1356.9L1900.7 1350.8L1907.5 1351.4L1914.3 1356.3L1921.1 1355.5L1927.9 1354.9L1934.8 1353.8L1941.6 1354.2L1948.4 1354.6L1955.2 1354.0L1962.0 1351.0L1968.8 1355.1L1975.6 1355.8L1982.4 1353.0L1989.2 1357.6L1996.1 1357.0L2002.9 1350.6L2009.7 1354.9L2016.5 1354.7L2023.3 1359.7L2030.1 1355.9L2036.9 1354.4L2043.8 1359.6L2050.6 1354.0L2057.4 1353.9L2064.2 1359.3L2071.0 1353.9" fill="none" stroke="#4a4a4a" stroke-width="3.5" stroke-linejoin="round"/><path d="M1253.5 1357.7h0M1260.3 1356.9h0M1267.1 1357.3h0M1273.9 1356.7h0M1280.8 1356.7h0M1287.6 1358.1h0M1294.4 1358.3h0M1301.2 1356.1h0M1308.0 1357.6h0M1314.8 1357.7h0M1321.6 1355.7h0M1328.4 1357.1h0M1335.2 1356.1h0M1342.1 1357.1h0M1348.9 1356.6h0M1355.7 1357.0h0M1362.5 1357.0h0M1370.7 1355.1h0M1376.1 1238.6h0M1382.9 1056.2h0M1389.8 985.5h0M1396.6 962.2h0M1403.4 934.0h0M1410.2 915.2h0M1417.0 904.9h0M1423.8 905.8h0M1430.6 813.1h0M1437.4 890.8h0M1444.2 865.4h0M1451.1 892.6h0M1457.9 946.0h0M1464.7 1018.6h0M1471.5 1080.6h0M1478.3 1103.2h0M1485.1 1122.0h0M1491.9 1140.8h0M1498.8 1154.0h0M1505.6 1187.8h0M1512.4 1206.6h0M1519.2 1229.2h0M1526.0 1244.2h0M1532.8 1248.0h0M1539.6 1253.6h0M1546.4 1263.0h0M1553.2 1268.6h0M1560.1 1272.4h0M1566.9 1276.2h0M1573.7 1280.9h0M1580.5 1285.6h0M1587.3 1289.3h0M1594.1 1293.1h0M1600.9 1296.8h0M1607.8 1300.6h0M1614.6 1303.4h0M1621.4 1306.2h0M1628.2 1309.1h0M1635.0 1311.9h0M1641.8 1315.6h0M1648.6 1319.4h0M1655.4 1322.2h0M1662.2 1325.0h0M1669.1 1330.6h0M1675.9 1327.6h0M1682.7 1332.8h0M1689.5 1338.3h0M1696.3 1343.2h0M1703.1 1338.6h0M1709.9 1339.2h0M1716.8 1349.6h0M1723.6 1344.8h0M1730.4 1350.3h0M1737.2 1353.7h0M1744.0 1353.3h0M1750.8 1349.3h0M1757.6 1348.8h0M1764.4 1357.1h0M1771.2 1352.2h0M1778.1 1358.0h0M1784.9 1352.1h0M1791.7 1356.2h0M1798.5 1351.5h0M1805.3 1350.6h0M1812.1 1355.1h0M1818.9 1350.4h0M1825.8 1356.9h0M1832.6 1359.1h0M1839.4 1354.2h0M1846.2 1359.5h0M1853.0 1358.0h0M1859.8 1356.0h0M1866.6 1354.1h0M1873.4 1358.4h0M1880.2 1359.4h0M1887.1 1351.7h0M1893.9 1356.9h0M1900.7 1350.8h0M1907.5 1351.4h0M1914.3 1356.3h0M1921.1 1355.5h0M1927.9 1354.9h0M1934.8 1353.8h0M1941.6 1354.2h0M1948.4 1354.6h0M1955.2 1354.0h0M1962.0 1351.0h0M1968.8 1355.1h0M1975.6 1355.8h0M1982.4 1353.0h0M1989.2 1357.6h0M1996.1 1357.0h0M2002.9 1350.6h0M2009.7 1354.9h0M2016.5 1354.7h0M2023.3 1359.7h0M2030.1 1355.9h0M2036.9 1354.4h0M2043.8 1359.6h0M2050.6 1354.0h0M2057.4 1353.9h0M2064.2 1359.3h0M2071.0 1353.9h0" stroke="#4a4a4a" stroke-width="11" stroke-linecap="square" fill="none"/></g>
<g clip-path="url(#cd)"><path d="M1253.5 1356.7L1257.6 1356.4L1261.8 1356.2L1265.9 1355.8L1270.1 1356.4L1274.2 1355.9L1278.4 1358.2L1282.5 1357.1L1286.7 1355.8L1290.8 1356.6L1295.0 1355.9L1299.1 1358.0L1303.3 1357.1L1307.4 1357.7L1311.6 1356.9L1315.7 1356.8L1319.8 1358.3L1324.0 1357.7L1328.1 1357.6L1332.3 1355.9L1336.4 1356.3L1340.6 1357.9L1344.7 1356.2L1348.9 1358.0L1354.3 1352.9L1359.8 1206.6L1366.6 1165.2L1370.7 1138.9L1374.8 1112.6L1382.7 1069.4L1389.8 999.8L1395.3 922.2L1403.2 1070.9L1407.9 1038.4L1412.6 1006.0L1417.4 981.5L1422.2 956.9L1430.1 925.4L1436.1 981.0L1442.8 1021.8L1448.3 990.4L1453.8 956.9L1458.4 982.3L1466.5 1021.8L1471.5 1075.0L1478.3 1103.2L1482.4 1118.2L1486.5 1133.3L1491.3 1161.5L1496.0 1189.7L1500.1 1215.1L1504.2 1240.4L1508.3 1245.1L1512.4 1249.8L1519.2 1263.0L1526.0 1283.7L1531.5 1285.6L1536.9 1287.4L1541.7 1288.4L1546.4 1289.3L1551.2 1290.3L1556.0 1291.2L1561.4 1293.1L1566.9 1295.0L1572.3 1293.1L1577.8 1291.2L1582.5 1289.3L1587.3 1287.4L1592.1 1284.6L1596.8 1281.8L1602.3 1277.1L1607.8 1272.4L1613.2 1279.0L1618.7 1285.6L1624.1 1290.3L1629.5 1295.0L1635.0 1296.8L1640.5 1298.7L1644.5 1299.7L1648.6 1300.6L1653.4 1310.0L1658.2 1319.4L1663.6 1328.5L1669.1 1324.6L1674.1 1335.8L1679.1 1336.6L1684.0 1337.2L1688.1 1335.7L1692.2 1342.5L1696.3 1338.4L1700.4 1343.4L1704.5 1346.5L1708.6 1347.4L1712.7 1349.7L1716.8 1351.6L1721.3 1352.2L1725.8 1348.3L1730.4 1346.7L1734.9 1355.8L1739.5 1358.1L1744.0 1350.5L1748.5 1355.4L1753.1 1357.3L1757.6 1359.5L1762.2 1356.7L1766.7 1355.2L1771.2 1359.3L1775.8 1359.9L1780.3 1363.7L1784.9 1355.9L1789.4 1364.5L1794.0 1360.5L1798.5 1357.6L1802.8 1364.2L1807.0 1358.6L1811.3 1356.5L1815.5 1359.5L1819.8 1358.1L1824.0 1364.5L1828.3 1361.4L1832.6 1364.1L1836.8 1357.5L1841.1 1362.7L1845.3 1361.2L1849.6 1356.1L1853.9 1357.4L1858.1 1356.3L1862.4 1361.2L1866.6 1360.9L1870.9 1358.5L1875.1 1360.7L1879.4 1362.4L1883.7 1361.2L1887.9 1363.5L1892.2 1361.2L1896.4 1355.3L1900.7 1355.5L1904.9 1358.5L1909.2 1359.6L1913.5 1361.0L1917.7 1363.2L1922.0 1361.4L1926.2 1356.5L1930.5 1355.5L1934.8 1360.2L1938.9 1356.2L1943.0 1356.3L1947.1 1357.1L1951.3 1357.3L1955.4 1356.4L1959.5 1360.2L1963.7 1357.0L1967.8 1360.9L1971.9 1359.0L1976.0 1356.3L1980.2 1357.1L1984.3 1360.8L1988.4 1354.7L1992.6 1357.5L1996.7 1358.1L2000.8 1363.5L2004.9 1358.4L2009.1 1361.2L2013.2 1357.3L2017.3 1359.2L2021.5 1355.9L2025.6 1357.5L2029.7 1356.1L2033.8 1360.3L2038.0 1357.5L2042.1 1356.6L2046.2 1355.8L2050.4 1360.3L2054.5 1355.7L2058.6 1355.4L2062.7 1357.1L2066.9 1354.4L2071.0 1354.6" fill="none" stroke="#e0384a" stroke-width="3.5" stroke-linejoin="round"/><path d="M1253.5 1356.7h0M1257.6 1356.4h0M1261.8 1356.2h0M1265.9 1355.8h0M1270.1 1356.4h0M1274.2 1355.9h0M1278.4 1358.2h0M1282.5 1357.1h0M1286.7 1355.8h0M1290.8 1356.6h0M1295.0 1355.9h0M1299.1 1358.0h0M1303.3 1357.1h0M1307.4 1357.7h0M1311.6 1356.9h0M1315.7 1356.8h0M1319.8 1358.3h0M1324.0 1357.7h0M1328.1 1357.6h0M1332.3 1355.9h0M1336.4 1356.3h0M1340.6 1357.9h0M1344.7 1356.2h0M1348.9 1358.0h0M1354.3 1352.9h0M1359.8 1206.6h0M1366.6 1165.2h0M1370.7 1138.9h0M1374.8 1112.6h0M1382.7 1069.4h0M1389.8 999.8h0M1395.3 922.2h0M1403.2 1070.9h0M1407.9 1038.4h0M1412.6 1006.0h0M1417.4 981.5h0M1422.2 956.9h0M1430.1 925.4h0M1436.1 981.0h0M1442.8 1021.8h0M1448.3 990.4h0M1453.8 956.9h0M1458.4 982.3h0M1466.5 1021.8h0M1471.5 1075.0h0M1478.3 1103.2h0M1482.4 1118.2h0M1486.5 1133.3h0M1491.3 1161.5h0M1496.0 1189.7h0M1500.1 1215.1h0M1504.2 1240.4h0M1508.3 1245.1h0M1512.4 1249.8h0M1519.2 1263.0h0M1526.0 1283.7h0M1531.5 1285.6h0M1536.9 1287.4h0M1541.7 1288.4h0M1546.4 1289.3h0M1551.2 1290.3h0M1556.0 1291.2h0M1561.4 1293.1h0M1566.9 1295.0h0M1572.3 1293.1h0M1577.8 1291.2h0M1582.5 1289.3h0M1587.3 1287.4h0M1592.1 1284.6h0M1596.8 1281.8h0M1602.3 1277.1h0M1607.8 1272.4h0M1613.2 1279.0h0M1618.7 1285.6h0M1624.1 1290.3h0M1629.5 1295.0h0M1635.0 1296.8h0M1640.5 1298.7h0M1644.5 1299.7h0M1648.6 1300.6h0M1653.4 1310.0h0M1658.2 1319.4h0M1663.6 1328.5h0M1669.1 1324.6h0M1674.1 1335.8h0M1679.1 1336.6h0M1684.0 1337.2h0M1688.1 1335.7h0M1692.2 1342.5h0M1696.3 1338.4h0M1700.4 1343.4h0M1704.5 1346.5h0M1708.6 1347.4h0M1712.7 1349.7h0M1716.8 1351.6h0M1721.3 1352.2h0M1725.8 1348.3h0M1730.4 1346.7h0M1734.9 1355.8h0M1739.5 1358.1h0M1744.0 1350.5h0M1748.5 1355.4h0M1753.1 1357.3h0M1757.6 1359.5h0M1762.2 1356.7h0M1766.7 1355.2h0M1771.2 1359.3h0M1775.8 1359.9h0M1780.3 1363.7h0M1784.9 1355.9h0M1789.4 1364.5h0M1794.0 1360.5h0M1798.5 1357.6h0M1802.8 1364.2h0M1807.0 1358.6h0M1811.3 1356.5h0M1815.5 1359.5h0M1819.8 1358.1h0M1824.0 1364.5h0M1828.3 1361.4h0M1832.6 1364.1h0M1836.8 1357.5h0M1841.1 1362.7h0M1845.3 1361.2h0M1849.6 1356.1h0M1853.9 1357.4h0M1858.1 1356.3h0M1862.4 1361.2h0M1866.6 1360.9h0M1870.9 1358.5h0M1875.1 1360.7h0M1879.4 1362.4h0M1883.7 1361.2h0M1887.9 1363.5h0M1892.2 1361.2h0M1896.4 1355.3h0M1900.7 1355.5h0M1904.9 1358.5h0M1909.2 1359.6h0M1913.5 1361.0h0M1917.7 1363.2h0M1922.0 1361.4h0M1926.2 1356.5h0M1930.5 1355.5h0M1934.8 1360.2h0M1938.9 1356.2h0M1943.0 1356.3h0M1947.1 1357.1h0M1951.3 1357.3h0M1955.4 1356.4h0M1959.5 1360.2h0M1963.7 1357.0h0M1967.8 1360.9h0M1971.9 1359.0h0M1976.0 1356.3h0M1980.2 1357.1h0M1984.3 1360.8h0M1988.4 1354.7h0M1992.6 1357.5h0M1996.7 1358.1h0M2000.8 1363.5h0M2004.9 1358.4h0M2009.1 1361.2h0M2013.2 1357.3h0M2017.3 1359.2h0M2021.5 1355.9h0M2025.6 1357.5h0M2029.7 1356.1h0M2033.8 1360.3h0M2038.0 1357.5h0M2042.1 1356.6h0M2046.2 1355.8h0M2050.4 1360.3h0M2054.5 1355.7h0M2058.6 1355.4h0M2062.7 1357.1h0M2066.9 1354.4h0M2071.0 1354.6h0" stroke="#e0384a" stroke-width="11" stroke-linecap="round" fill="none"/></g>
<g clip-path="url(#cd)"><path d="M1253.5 1355.6L1257.6 1355.9L1261.7 1354.5L1265.8 1356.0L1269.8 1354.6L1273.9 1355.0L1278.0 1355.7L1282.1 1354.4L1286.2 1355.6L1290.3 1354.4L1294.4 1355.3L1298.5 1355.2L1302.5 1354.2L1306.6 1353.0L1310.7 1354.8L1314.8 1354.4L1318.9 1353.3L1323.0 1352.3L1327.1 1353.2L1331.2 1353.6L1335.2 1352.0L1339.3 1354.0L1343.4 1351.4L1347.5 1352.4L1351.6 1352.3L1355.7 1348.5L1359.8 1345.7L1365.2 1159.6L1370.7 1060.0L1374.8 1045.5L1380.2 1046.8L1384.3 1044.0L1388.4 1041.2L1392.5 1013.0L1396.6 984.8L1403.4 968.8L1408.1 977.7L1412.9 986.6L1417.0 983.8L1421.1 981.0L1428.4 985.5L1434.7 999.8L1442.8 972.7L1447.5 987.0L1452.2 1001.3L1455.4 1061.8L1463.3 1029.7L1471.2 1088.2L1474.9 1189.7L1479.3 1205.7L1483.8 1221.6L1489.2 1231.0L1494.7 1240.4L1498.8 1237.3L1502.8 1234.2L1506.9 1231.0L1511.0 1237.6L1515.1 1244.2L1519.9 1253.6L1524.6 1263.0L1530.1 1272.4L1535.5 1281.8L1541.0 1292.1L1546.4 1302.5L1551.2 1296.8L1556.0 1291.2L1561.4 1284.6L1566.9 1278.0L1571.4 1279.3L1576.0 1280.5L1580.5 1281.8L1585.5 1286.2L1590.5 1290.6L1595.5 1295.0L1600.5 1298.1L1605.5 1301.2L1610.5 1304.4L1615.5 1308.1L1620.5 1311.9L1625.5 1315.6L1630.5 1318.8L1635.5 1321.9L1640.5 1325.0L1645.0 1327.5L1649.5 1330.1L1654.1 1332.6L1659.1 1333.8L1664.1 1331.6L1669.1 1340.3L1673.2 1337.5L1677.2 1337.4L1681.3 1335.0L1685.4 1336.3L1689.5 1336.7L1693.6 1342.8L1697.7 1342.1L1701.8 1343.3L1705.8 1339.0L1709.9 1338.9L1714.0 1347.1L1718.1 1345.9L1722.2 1344.5L1726.3 1343.5L1730.4 1340.2L1734.9 1338.0L1739.5 1339.8L1744.0 1341.0L1748.5 1337.7L1753.1 1338.8L1757.6 1337.6L1762.2 1334.6L1766.7 1337.7L1771.2 1339.9L1775.8 1339.6L1780.3 1339.7L1784.9 1346.2L1789.4 1338.8L1794.0 1340.6L1798.5 1340.3L1802.8 1341.2L1807.0 1345.1L1811.3 1345.1L1815.5 1348.0L1819.8 1343.2L1824.0 1348.7L1828.3 1348.7L1832.6 1347.5L1836.8 1348.1L1841.1 1346.5L1845.3 1349.3L1849.6 1349.9L1853.9 1348.6L1858.1 1349.2L1862.4 1346.9L1866.6 1350.2L1870.9 1342.4L1875.1 1345.1L1879.4 1349.7L1883.7 1349.0L1887.9 1348.3L1892.2 1348.4L1896.4 1350.9L1900.7 1344.3L1904.9 1343.2L1909.2 1348.4L1913.5 1348.5L1917.7 1352.4L1922.0 1352.5L1926.2 1350.5L1930.5 1351.5L1934.8 1346.4L1939.0 1352.8L1943.3 1354.2L1947.5 1345.6L1951.8 1349.7L1956.0 1353.4L1960.3 1349.8L1964.6 1354.7L1968.8 1350.2L1973.1 1346.0L1977.3 1347.2L1981.6 1348.9L1985.8 1353.1L1990.1 1352.3L1994.4 1354.3L1998.6 1348.7L2002.9 1351.1L2007.1 1348.7L2011.4 1353.0L2015.6 1354.0L2019.9 1348.4L2024.2 1346.8L2028.4 1348.0L2032.7 1348.5L2036.9 1348.4L2041.2 1349.1L2045.5 1353.9L2049.7 1351.2L2054.0 1352.7L2058.2 1355.8L2062.5 1355.8L2066.7 1353.4L2071.0 1353.6" fill="none" stroke="#1f6fdf" stroke-width="3.5" stroke-linejoin="round"/><path d="M1253.5 1349.0l6.3 11.1h-12.6zM1257.6 1349.3l6.3 11.1h-12.6zM1261.7 1347.9l6.3 11.1h-12.6zM1265.8 1349.4l6.3 11.1h-12.6zM1269.8 1348.0l6.3 11.1h-12.6zM1273.9 1348.4l6.3 11.1h-12.6zM1278.0 1349.1l6.3 11.1h-12.6zM1282.1 1347.8l6.3 11.1h-12.6zM1286.2 1349.0l6.3 11.1h-12.6zM1290.3 1347.8l6.3 11.1h-12.6zM1294.4 1348.7l6.3 11.1h-12.6zM1298.5 1348.6l6.3 11.1h-12.6zM1302.5 1347.6l6.3 11.1h-12.6zM1306.6 1346.4l6.3 11.1h-12.6zM1310.7 1348.2l6.3 11.1h-12.6zM1314.8 1347.8l6.3 11.1h-12.6zM1318.9 1346.7l6.3 11.1h-12.6zM1323.0 1345.7l6.3 11.1h-12.6zM1327.1 1346.6l6.3 11.1h-12.6zM1331.2 1347.0l6.3 11.1h-12.6zM1335.2 1345.4l6.3 11.1h-12.6zM1339.3 1347.4l6.3 11.1h-12.6zM1343.4 1344.8l6.3 11.1h-12.6zM1347.5 1345.8l6.3 11.1h-12.6zM1351.6 1345.7l6.3 11.1h-12.6zM1355.7 1341.9l6.3 11.1h-12.6zM1359.8 1339.1l6.3 11.1h-12.6zM1365.2 1153.0l6.3 11.1h-12.6zM1370.7 1053.4l6.3 11.1h-12.6zM1374.8 1038.9l6.3 11.1h-12.6zM1380.2 1040.2l6.3 11.1h-12.6zM1384.3 1037.4l6.3 11.1h-12.6zM1388.4 1034.6l6.3 11.1h-12.6zM1392.5 1006.4l6.3 11.1h-12.6zM1396.6 978.2l6.3 11.1h-12.6zM1403.4 962.2l6.3 11.1h-12.6zM1408.1 971.1l6.3 11.1h-12.6zM1412.9 980.0l6.3 11.1h-12.6zM1417.0 977.2l6.3 11.1h-12.6zM1421.1 974.4l6.3 11.1h-12.6zM1428.4 978.9l6.3 11.1h-12.6zM1434.7 993.2l6.3 11.1h-12.6zM1442.8 966.1l6.3 11.1h-12.6zM1447.5 980.4l6.3 11.1h-12.6zM1452.2 994.7l6.3 11.1h-12.6zM1455.4 1055.2l6.3 11.1h-12.6zM1463.3 1023.1l6.3 11.1h-12.6zM1471.2 1081.6l6.3 11.1h-12.6zM1474.9 1183.1l6.3 11.1h-12.6zM1479.3 1199.1l6.3 11.1h-12.6zM1483.8 1215.0l6.3 11.1h-12.6zM1489.2 1224.4l6.3 11.1h-12.6zM1494.7 1233.8l6.3 11.1h-12.6zM1498.8 1230.7l6.3 11.1h-12.6zM1502.8 1227.6l6.3 11.1h-12.6zM1506.9 1224.4l6.3 11.1h-12.6zM1511.0 1231.0l6.3 11.1h-12.6zM1515.1 1237.6l6.3 11.1h-12.6zM1519.9 1247.0l6.3 11.1h-12.6zM1524.6 1256.4l6.3 11.1h-12.6zM1530.1 1265.8l6.3 11.1h-12.6zM1535.5 1275.2l6.3 11.1h-12.6zM1541.0 1285.5l6.3 11.1h-12.6zM1546.4 1295.9l6.3 11.1h-12.6zM1551.2 1290.2l6.3 11.1h-12.6zM1556.0 1284.6l6.3 11.1h-12.6zM1561.4 1278.0l6.3 11.1h-12.6zM1566.9 1271.4l6.3 11.1h-12.6zM1571.4 1272.7l6.3 11.1h-12.6zM1576.0 1273.9l6.3 11.1h-12.6zM1580.5 1275.2l6.3 11.1h-12.6zM1585.5 1279.6l6.3 11.1h-12.6zM1590.5 1284.0l6.3 11.1h-12.6zM1595.5 1288.4l6.3 11.1h-12.6zM1600.5 1291.5l6.3 11.1h-12.6zM1605.5 1294.6l6.3 11.1h-12.6zM1610.5 1297.8l6.3 11.1h-12.6zM1615.5 1301.5l6.3 11.1h-12.6zM1620.5 1305.3l6.3 11.1h-12.6zM1625.5 1309.0l6.3 11.1h-12.6zM1630.5 1312.2l6.3 11.1h-12.6zM1635.5 1315.3l6.3 11.1h-12.6zM1640.5 1318.4l6.3 11.1h-12.6zM1645.0 1320.9l6.3 11.1h-12.6zM1649.5 1323.5l6.3 11.1h-12.6zM1654.1 1326.0l6.3 11.1h-12.6zM1659.1 1327.2l6.3 11.1h-12.6zM1664.1 1325.0l6.3 11.1h-12.6zM1669.1 1333.7l6.3 11.1h-12.6zM1673.2 1330.9l6.3 11.1h-12.6zM1677.2 1330.8l6.3 11.1h-12.6zM1681.3 1328.4l6.3 11.1h-12.6zM1685.4 1329.7l6.3 11.1h-12.6zM1689.5 1330.1l6.3 11.1h-12.6zM1693.6 1336.2l6.3 11.1h-12.6zM1697.7 1335.5l6.3 11.1h-12.6zM1701.8 1336.7l6.3 11.1h-12.6zM1705.8 1332.4l6.3 11.1h-12.6zM1709.9 1332.3l6.3 11.1h-12.6zM1714.0 1340.5l6.3 11.1h-12.6zM1718.1 1339.3l6.3 11.1h-12.6zM1722.2 1337.9l6.3 11.1h-12.6zM1726.3 1336.9l6.3 11.1h-12.6zM1730.4 1333.6l6.3 11.1h-12.6zM1734.9 1331.4l6.3 11.1h-12.6zM1739.5 1333.2l6.3 11.1h-12.6zM1744.0 1334.4l6.3 11.1h-12.6zM1748.5 1331.1l6.3 11.1h-12.6zM1753.1 1332.2l6.3 11.1h-12.6zM1757.6 1331.0l6.3 11.1h-12.6zM1762.2 1328.0l6.3 11.1h-12.6zM1766.7 1331.1l6.3 11.1h-12.6zM1771.2 1333.3l6.3 11.1h-12.6zM1775.8 1333.0l6.3 11.1h-12.6zM1780.3 1333.1l6.3 11.1h-12.6zM1784.9 1339.6l6.3 11.1h-12.6zM1789.4 1332.2l6.3 11.1h-12.6zM1794.0 1334.0l6.3 11.1h-12.6zM1798.5 1333.7l6.3 11.1h-12.6zM1802.8 1334.6l6.3 11.1h-12.6zM1807.0 1338.5l6.3 11.1h-12.6zM1811.3 1338.5l6.3 11.1h-12.6zM1815.5 1341.4l6.3 11.1h-12.6zM1819.8 1336.6l6.3 11.1h-12.6zM1824.0 1342.1l6.3 11.1h-12.6zM1828.3 1342.1l6.3 11.1h-12.6zM1832.6 1340.9l6.3 11.1h-12.6zM1836.8 1341.5l6.3 11.1h-12.6zM1841.1 1339.9l6.3 11.1h-12.6zM1845.3 1342.7l6.3 11.1h-12.6zM1849.6 1343.3l6.3 11.1h-12.6zM1853.9 1342.0l6.3 11.1h-12.6zM1858.1 1342.6l6.3 11.1h-12.6zM1862.4 1340.3l6.3 11.1h-12.6zM1866.6 1343.6l6.3 11.1h-12.6zM1870.9 1335.8l6.3 11.1h-12.6zM1875.1 1338.5l6.3 11.1h-12.6zM1879.4 1343.1l6.3 11.1h-12.6zM1883.7 1342.4l6.3 11.1h-12.6zM1887.9 1341.7l6.3 11.1h-12.6zM1892.2 1341.8l6.3 11.1h-12.6zM1896.4 1344.3l6.3 11.1h-12.6zM1900.7 1337.7l6.3 11.1h-12.6zM1904.9 1336.6l6.3 11.1h-12.6zM1909.2 1341.8l6.3 11.1h-12.6zM1913.5 1341.9l6.3 11.1h-12.6zM1917.7 1345.8l6.3 11.1h-12.6zM1922.0 1345.9l6.3 11.1h-12.6zM1926.2 1343.9l6.3 11.1h-12.6zM1930.5 1344.9l6.3 11.1h-12.6zM1934.8 1339.8l6.3 11.1h-12.6zM1939.0 1346.2l6.3 11.1h-12.6zM1943.3 1347.6l6.3 11.1h-12.6zM1947.5 1339.0l6.3 11.1h-12.6zM1951.8 1343.1l6.3 11.1h-12.6zM1956.0 1346.8l6.3 11.1h-12.6zM1960.3 1343.2l6.3 11.1h-12.6zM1964.6 1348.1l6.3 11.1h-12.6zM1968.8 1343.6l6.3 11.1h-12.6zM1973.1 1339.4l6.3 11.1h-12.6zM1977.3 1340.6l6.3 11.1h-12.6zM1981.6 1342.3l6.3 11.1h-12.6zM1985.8 1346.5l6.3 11.1h-12.6zM1990.1 1345.7l6.3 11.1h-12.6zM1994.4 1347.7l6.3 11.1h-12.6zM1998.6 1342.1l6.3 11.1h-12.6zM2002.9 1344.5l6.3 11.1h-12.6zM2007.1 1342.1l6.3 11.1h-12.6zM2011.4 1346.4l6.3 11.1h-12.6zM2015.6 1347.4l6.3 11.1h-12.6zM2019.9 1341.8l6.3 11.1h-12.6zM2024.2 1340.2l6.3 11.1h-12.6zM2028.4 1341.4l6.3 11.1h-12.6zM2032.7 1341.9l6.3 11.1h-12.6zM2036.9 1341.8l6.3 11.1h-12.6zM2041.2 1342.5l6.3 11.1h-12.6zM2045.5 1347.3l6.3 11.1h-12.6zM2049.7 1344.6l6.3 11.1h-12.6zM2054.0 1346.1l6.3 11.1h-12.6zM2058.2 1349.2l6.3 11.1h-12.6zM2062.5 1349.2l6.3 11.1h-12.6zM2066.7 1346.8l6.3 11.1h-12.6zM2071.0 1347.0l6.3 11.1h-12.6z" fill="#1f6fdf"/></g>
<rect x="1253.5" y="746" width="817.5" height="659.5" fill="none" stroke="#1e1e1e" stroke-width="4"/>
<line x1="1253.5" y1="1357.00" x2="1265.5" y2="1357.00" stroke="#1e1e1e" stroke-width="4"/>
<line x1="1253.5" y1="1169.00" x2="1265.5" y2="1169.00" stroke="#1e1e1e" stroke-width="4"/>
<line x1="1253.5" y1="981.00" x2="1265.5" y2="981.00" stroke="#1e1e1e" stroke-width="4"/>
<line x1="1253.5" y1="793.00" x2="1265.5" y2="793.00" stroke="#1e1e1e" stroke-width="4"/>
<line x1="1389.75" y1="1405.5" x2="1389.75" y2="1393.5" stroke="#1e1e1e" stroke-width="4"/>
<line x1="1526.00" y1="1405.5" x2="1526.00" y2="1393.5" stroke="#1e1e1e" stroke-width="4"/>
<line x1="1662.25" y1="1405.5" x2="1662.25" y2="1393.5" stroke="#1e1e1e" stroke-width="4"/>
<line x1="1798.50" y1="1405.5" x2="1798.50" y2="1393.5" stroke="#1e1e1e" stroke-width="4"/>
<line x1="1934.75" y1="1405.5" x2="1934.75" y2="1393.5" stroke="#1e1e1e" stroke-width="4"/>
<text transform="translate(1236.50,1376.00)" font-size="57" text-anchor="end" fill="#000" >0.0</text>
<text transform="translate(1236.50,1188.00)" font-size="57" text-anchor="end" fill="#000" >0.1</text>
<text transform="translate(1236.50,1000.00)" font-size="57" text-anchor="end" fill="#000" >0.2</text>
<text transform="translate(1236.50,812.00)" font-size="57" text-anchor="end" fill="#000" >0.3</text>
<text transform="translate(1253.50,1463.00)" font-size="56" text-anchor="middle" fill="#000" >0</text>
<text transform="translate(1389.75,1463.00)" font-size="56" text-anchor="middle" fill="#000" >100</text>
<text transform="translate(1526.00,1463.00)" font-size="56" text-anchor="middle" fill="#000" >200</text>
<text transform="translate(1662.25,1463.00)" font-size="56" text-anchor="middle" fill="#000" >300</text>
<text transform="translate(1798.50,1463.00)" font-size="56" text-anchor="middle" fill="#000" >400</text>
<text transform="translate(1934.75,1463.00)" font-size="56" text-anchor="middle" fill="#000" >500</text>
<text transform="translate(2071.00,1463.00)" font-size="56" text-anchor="middle" fill="#000" >600</text>
<text transform="translate(1673.00,1528.50)" font-size="56" text-anchor="middle" fill="#000" >Time (s)</text>
<text transform="translate(1148.50,1076.50) rotate(-90)" font-size="57" text-anchor="middle" fill="#000" >SPR (m<tspan font-size="37" dy="-20">2</tspan><tspan dy="20">/s)</tspan></text>
<text transform="translate(1115.00,797.00)" font-size="68" text-anchor="middle" fill="#000" >(d)</text>
<rect x="1626" y="774" width="439" height="180" fill="#000"/>
<rect x="1617" y="764" width="439" height="180" fill="#fff" stroke="#b8b8b8" stroke-width="2"/>
<line x1="1621" y1="795" x2="1722" y2="795" stroke="#4a4a4a" stroke-width="4.5" opacity="0.9"/>
<rect x="1665.5" y="788.5" width="13" height="13" fill="#4a4a4a"/>
<text transform="translate(1734.00,809.19)" font-size="43" text-anchor="start" fill="#000" >EP-0</text>
<line x1="1621" y1="854" x2="1722" y2="854" stroke="#e0384a" stroke-width="4.5" opacity="0.9"/>
<circle cx="1672.0" cy="854.0" r="6.5" fill="#e0384a"/>
<text transform="translate(1734.00,868.19)" font-size="43" text-anchor="start" fill="#000" >D-Mt-Fe<tspan font-size="27.0" dy="-18.0">3+</tspan><tspan dy="18.0">/EP-5</tspan></text>
<line x1="1621" y1="914" x2="1722" y2="914" stroke="#1f6fdf" stroke-width="4.5" opacity="0.9"/>
<path d="M1672.0,906.9l6.8,12.0h-13.7z" fill="#1f6fdf"/>
<text transform="translate(1734.00,928.19)" font-size="43" text-anchor="start" fill="#000" >D-Mt-Fe<tspan font-size="27.0" dy="-18.0">3+</tspan><tspan dy="18.0">/EP-10</tspan></text>
<clipPath id="ce"><rect x="228.75" y="1564.7" width="813.25" height="649.3"/></clipPath>
<g clip-path="url(#ce)"><path d="M229.3 2132.6L230.7 2132.6L232.0 2132.6L233.4 2132.6L234.7 2132.6L236.1 2132.6L237.4 2132.6L238.8 2132.6L240.1 2132.6L241.5 2132.6L242.8 2132.6L244.2 2132.6L245.5 2132.6L246.9 2132.6L248.2 2132.6L249.6 2132.6L250.9 2132.6L252.3 2132.6L253.6 2132.6L255.0 2132.6L256.3 2132.6L257.7 2132.6L259.0 2132.6L260.4 2132.6L261.7 2132.6L263.1 2132.6L264.5 2132.6L265.8 2132.6L267.2 2132.6L268.5 2132.6L269.9 2132.6L271.2 2132.6L272.6 2132.6L273.9 2132.6L275.3 2132.6L276.6 2132.6L278.0 2132.6L279.3 2132.6L280.7 2132.6L282.0 2132.6L283.4 2132.6L284.7 2132.6L286.1 2132.6L287.4 2132.6L288.8 2132.6L290.1 2132.6L291.5 2132.6L292.8 2132.6L294.2 2132.6L295.5 2132.6L296.9 2132.6L298.3 2132.6L299.6 2132.6L301.0 2132.6L302.3 2132.6L303.7 2132.6L305.0 2132.6L306.4 2132.6L307.7 2132.6L309.1 2132.6L310.4 2132.6L311.8 2132.6L313.1 2132.6L314.5 2132.6L315.8 2132.6L317.2 2132.6L318.5 2132.6L319.9 2132.6L321.2 2132.6L322.6 2132.6L323.9 2132.6L325.3 2132.6L326.6 2132.6L328.0 2132.6L329.3 2132.6L330.7 2132.6L332.1 2132.6L333.4 2132.6L334.8 2132.6L336.1 2132.6L337.5 2132.6L338.8 2132.6L340.2 2132.6L341.5 2132.6L342.9 2132.6L344.2 2132.6L345.6 2132.6L346.9 2132.6L348.3 2132.6L349.6 2132.6L351.0 2132.6L352.3 2132.6L353.7 2132.6L355.0 2132.6L356.4 2132.6L357.7 2132.6L359.1 2132.6L360.4 2132.5L361.8 2132.2L363.1 2131.8L364.5 2131.3L365.9 2130.7L367.2 2130.0L368.6 2129.3L369.9 2128.5L371.3 2127.4L372.6 2126.0L374.0 2124.5L375.3 2122.6L376.7 2120.4L378.0 2117.9L379.4 2115.1L380.7 2112.0L382.1 2108.6L383.4 2105.0L384.8 2100.4L386.1 2095.2L387.5 2089.7L388.8 2084.5L390.2 2079.9L391.5 2075.7L392.9 2071.7L394.2 2067.8L395.6 2063.9L396.9 2059.7L398.3 2055.2L399.7 2050.2L401.0 2044.8L402.4 2039.3L403.7 2033.7L405.1 2028.3L406.4 2023.2L407.8 2018.2L409.1 2013.3L410.5 2008.4L411.8 2003.5L413.2 1998.7L414.5 1994.0L415.9 1989.4L417.2 1984.5L418.6 1979.4L419.9 1973.8L421.3 1967.4L422.6 1960.4L424.0 1953.0L425.3 1945.1L426.7 1937.1L428.0 1928.5L429.4 1919.1L430.7 1909.6L432.1 1900.5L433.5 1892.3L434.8 1884.8L436.2 1877.5L437.5 1870.7L438.9 1864.7L440.2 1859.7L441.6 1855.6L442.9 1851.8L444.3 1848.4L445.6 1845.3L447.0 1842.5L448.3 1839.8L449.7 1837.3L451.0 1834.9L452.4 1832.6L453.7 1830.4L455.1 1828.4L456.4 1826.5L457.8 1824.7L459.1 1823.1L460.5 1821.5L461.8 1820.0L463.2 1818.5L464.5 1817.2L465.9 1815.9L467.3 1814.6L468.6 1813.4L470.0 1812.2L471.3 1811.1L472.7 1810.0L474.0 1809.0L475.4 1808.0L476.7 1807.0L478.1 1806.1L479.4 1805.2L480.8 1804.3L482.1 1803.4L483.5 1802.6L484.8 1801.8L486.2 1800.9L487.5 1800.1L488.9 1799.2L490.2 1798.4L491.6 1797.5L492.9 1796.6L494.3 1795.7L495.6 1794.7L497.0 1793.8L498.3 1792.8L499.7 1791.9L501.1 1790.9L502.4 1790.0L503.8 1789.0L505.1 1788.0L506.5 1787.1L507.8 1786.1L509.2 1785.2L510.5 1784.2L511.9 1783.3L513.2 1782.3L514.6 1781.4L515.9 1780.4L517.3 1779.5L518.6 1778.5L520.0 1777.6L521.3 1776.6L522.7 1775.7L524.0 1774.7L525.4 1773.8L526.7 1772.8L528.1 1771.9L529.4 1770.9L530.8 1769.9L532.1 1769.0L533.5 1768.1L534.9 1767.1L536.2 1766.2L537.6 1765.2L538.9 1764.3L540.3 1763.4L541.6 1762.5L543.0 1761.6L544.3 1760.7L545.7 1759.8L547.0 1758.9L548.4 1758.0L549.7 1757.2L551.1 1756.3L552.4 1755.5L553.8 1754.6L555.1 1753.8L556.5 1753.0L557.8 1752.2L559.2 1751.4L560.5 1750.6L561.9 1749.8L563.2 1749.0L564.6 1748.2L565.9 1747.4L567.3 1746.7L568.7 1745.9L570.0 1745.2L571.4 1744.4L572.7 1743.7L574.1 1742.9L575.4 1742.2L576.8 1741.4L578.1 1740.7L579.5 1740.0L580.8 1739.3L582.2 1738.5L583.5 1737.8L584.9 1737.1L586.2 1736.4L587.6 1735.7L588.9 1735.0L590.3 1734.3L591.6 1733.6L593.0 1732.9L594.3 1732.2L595.7 1731.5L597.0 1730.8L598.4 1730.2L599.7 1729.5L601.1 1728.8L602.5 1728.1L603.8 1727.4L605.2 1726.8L606.5 1726.1L607.9 1725.4L609.2 1724.7L610.6 1724.1L611.9 1723.4L613.3 1722.8L614.6 1722.1L616.0 1721.5L617.3 1720.8L618.7 1720.2L620.0 1719.6L621.4 1718.9L622.7 1718.3L624.1 1717.7L625.4 1717.1L626.8 1716.5L628.1 1715.9L629.5 1715.3L630.8 1714.8L632.2 1714.2L633.5 1713.6L634.9 1713.1L636.3 1712.5L637.6 1712.0L639.0 1711.5L640.3 1711.0L641.7 1710.4L643.0 1709.9L644.4 1709.4L645.7 1708.9L647.1 1708.4L648.4 1707.9L649.8 1707.4L651.1 1707.0L652.5 1706.5L653.8 1706.0L655.2 1705.5L656.5 1705.1L657.9 1704.6L659.2 1704.1L660.6 1703.7L661.9 1703.2L663.3 1702.8L664.6 1702.3L666.0 1701.9L667.3 1701.4L668.7 1701.0L670.1 1700.6L671.4 1700.1L672.8 1699.7L674.1 1699.3L675.5 1698.8L676.8 1698.4L678.2 1698.0L679.5 1697.5L680.9 1697.1L682.2 1696.7L683.6 1696.3L684.9 1695.9L686.3 1695.5L687.6 1695.0L689.0 1694.6L690.3 1694.2L691.7 1693.8L693.0 1693.4L694.4 1693.0L695.7 1692.6L697.1 1692.2L698.4 1691.8L699.8 1691.5L701.1 1691.1L702.5 1690.7L703.9 1690.3L705.2 1689.9L706.6 1689.6L707.9 1689.2L709.3 1688.8L710.6 1688.4L712.0 1688.1L713.3 1687.7L714.7 1687.4L716.0 1687.0L717.4 1686.7L718.7 1686.3L720.1 1686.0L721.4 1685.6L722.8 1685.3L724.1 1684.9L725.5 1684.6L726.8 1684.2L728.2 1683.9L729.5 1683.6L730.9 1683.2L732.2 1682.9L733.6 1682.5L734.9 1682.2L736.3 1681.9L737.7 1681.5L739.0 1681.2L740.4 1680.9L741.7 1680.6L743.1 1680.3L744.4 1679.9L745.8 1679.6L747.1 1679.3L748.5 1679.0L749.8 1678.7L751.2 1678.4L752.5 1678.1L753.9 1677.8L755.2 1677.5L756.6 1677.2L757.9 1676.9L759.3 1676.6L760.6 1676.3L762.0 1676.0L763.3 1675.7L764.7 1675.5L766.0 1675.2L767.4 1674.9L768.7 1674.7L770.1 1674.4L771.5 1674.1L772.8 1673.9L774.2 1673.6L775.5 1673.3L776.9 1673.1L778.2 1672.8L779.6 1672.6L780.9 1672.3L782.3 1672.1L783.6 1671.8L785.0 1671.6L786.3 1671.3L787.7 1671.1L789.0 1670.8L790.4 1670.6L791.7 1670.3L793.1 1670.1L794.4 1669.9L795.8 1669.6L797.1 1669.4L798.5 1669.1L799.8 1668.9L801.2 1668.7L802.5 1668.4L803.9 1668.2L805.3 1668.0L806.6 1667.7L808.0 1667.5L809.3 1667.3L810.7 1667.1L812.0 1666.8L813.4 1666.6L814.7 1666.4L816.1 1666.2L817.4 1665.9L818.8 1665.7L820.1 1665.5L821.5 1665.3L822.8 1665.1L824.2 1664.9L825.5 1664.6L826.9 1664.4L828.2 1664.2L829.6 1664.0L830.9 1663.8L832.3 1663.6L833.6 1663.4L835.0 1663.2L836.3 1663.0L837.7 1662.8L839.1 1662.6L840.4 1662.4L841.8 1662.2L843.1 1662.0L844.5 1661.8L845.8 1661.6L847.2 1661.4L848.5 1661.2L849.9 1661.0L851.2 1660.8L852.6 1660.6L853.9 1660.4L855.3 1660.2L856.6 1660.0L858.0 1659.8L859.3 1659.7L860.7 1659.5L862.0 1659.3L863.4 1659.1L864.7 1658.9L866.1 1658.7L867.4 1658.6L868.8 1658.4L870.1 1658.2L871.5 1658.0L872.9 1657.9L874.2 1657.7L875.6 1657.5L876.9 1657.3L878.3 1657.2L879.6 1657.0L881.0 1656.8L882.3 1656.7L883.7 1656.5L885.0 1656.3L886.4 1656.2L887.7 1656.0L889.1 1655.9L890.4 1655.7L891.8 1655.5L893.1 1655.4L894.5 1655.2L895.8 1655.1L897.2 1654.9L898.5 1654.8L899.9 1654.6L901.2 1654.5L902.6 1654.3L903.9 1654.2L905.3 1654.0L906.7 1653.9L908.0 1653.7L909.4 1653.6L910.7 1653.4L912.1 1653.3L913.4 1653.1L914.8 1653.0L916.1 1652.8L917.5 1652.7L918.8 1652.6L920.2 1652.4L921.5 1652.3L922.9 1652.1L924.2 1652.0L925.6 1651.8L926.9 1651.7L928.3 1651.6L929.6 1651.4L931.0 1651.3L932.3 1651.2L933.7 1651.0L935.0 1650.9L936.4 1650.7L937.7 1650.6L939.1 1650.5L940.5 1650.3L941.8 1650.2L943.2 1650.1L944.5 1649.9L945.9 1649.8L947.2 1649.7L948.6 1649.5L949.9 1649.4L951.3 1649.3L952.6 1649.1L954.0 1649.0L955.3 1648.9L956.7 1648.7L958.0 1648.6L959.4 1648.5L960.7 1648.3L962.1 1648.2L963.4 1648.0L964.8 1647.9L966.1 1647.8L967.5 1647.6L968.8 1647.5L970.2 1647.4L971.5 1647.2L972.9 1647.1L974.3 1647.0L975.6 1646.8L977.0 1646.7L978.3 1646.6L979.7 1646.4L981.0 1646.3L982.4 1646.2L983.7 1646.0L985.1 1645.9L986.4 1645.8L987.8 1645.6L989.1 1645.5L990.5 1645.4L991.8 1645.2L993.2 1645.1L994.5 1645.0L995.9 1644.8L997.2 1644.7L998.6 1644.6L999.9 1644.4L1001.3 1644.3L1002.6 1644.2L1004.0 1644.1L1005.3 1643.9L1006.7 1643.8L1008.1 1643.7L1009.4 1643.5L1010.8 1643.4L1012.1 1643.3L1013.5 1643.2L1014.8 1643.0L1016.2 1642.9L1017.5 1642.8L1018.9 1642.6L1020.2 1642.5L1021.6 1642.4L1022.9 1642.3L1024.3 1642.1L1025.6 1642.0L1027.0 1641.9L1028.3 1641.7L1029.7 1641.6L1031.0 1641.5L1032.4 1641.4L1033.7 1641.2L1035.1 1641.1L1036.4 1641.0L1037.8 1640.8L1039.1 1640.7L1040.5 1640.6" fill="none" stroke="#4a4a4a" stroke-width="6" stroke-linejoin="round"/><path d="M229.3 2132.6h0M230.7 2132.6h0M232.0 2132.6h0M233.4 2132.6h0M234.7 2132.6h0M236.1 2132.6h0M237.4 2132.6h0M238.8 2132.6h0M240.1 2132.6h0M241.5 2132.6h0M242.8 2132.6h0M244.2 2132.6h0M245.5 2132.6h0M246.9 2132.6h0M248.2 2132.6h0M249.6 2132.6h0M250.9 2132.6h0M252.3 2132.6h0M253.6 2132.6h0M255.0 2132.6h0M256.3 2132.6h0M257.7 2132.6h0M259.0 2132.6h0M260.4 2132.6h0M261.7 2132.6h0M263.1 2132.6h0M264.5 2132.6h0M265.8 2132.6h0M267.2 2132.6h0M268.5 2132.6h0M269.9 2132.6h0M271.2 2132.6h0M272.6 2132.6h0M273.9 2132.6h0M275.3 2132.6h0M276.6 2132.6h0M278.0 2132.6h0M279.3 2132.6h0M280.7 2132.6h0M282.0 2132.6h0M283.4 2132.6h0M284.7 2132.6h0M286.1 2132.6h0M287.4 2132.6h0M288.8 2132.6h0M290.1 2132.6h0M291.5 2132.6h0M292.8 2132.6h0M294.2 2132.6h0M295.5 2132.6h0M296.9 2132.6h0M298.3 2132.6h0M299.6 2132.6h0M301.0 2132.6h0M302.3 2132.6h0M303.7 2132.6h0M305.0 2132.6h0M306.4 2132.6h0M307.7 2132.6h0M309.1 2132.6h0M310.4 2132.6h0M311.8 2132.6h0M313.1 2132.6h0M314.5 2132.6h0M315.8 2132.6h0M317.2 2132.6h0M318.5 2132.6h0M319.9 2132.6h0M321.2 2132.6h0M322.6 2132.6h0M323.9 2132.6h0M325.3 2132.6h0M326.6 2132.6h0M328.0 2132.6h0M329.3 2132.6h0M330.7 2132.6h0M332.1 2132.6h0M333.4 2132.6h0M334.8 2132.6h0M336.1 2132.6h0M337.5 2132.6h0M338.8 2132.6h0M340.2 2132.6h0M341.5 2132.6h0M342.9 2132.6h0M344.2 2132.6h0M345.6 2132.6h0M346.9 2132.6h0M348.3 2132.6h0M349.6 2132.6h0M351.0 2132.6h0M352.3 2132.6h0M353.7 2132.6h0M355.0 2132.6h0M356.4 2132.6h0M357.7 2132.6h0M359.1 2132.6h0M360.4 2132.5h0M361.8 2132.2h0M363.1 2131.8h0M364.5 2131.3h0M365.9 2130.7h0M367.2 2130.0h0M368.6 2129.3h0M369.9 2128.5h0M371.3 2127.4h0M372.6 2126.0h0M374.0 2124.5h0M375.3 2122.6h0M376.7 2120.4h0M378.0 2117.9h0M379.4 2115.1h0M380.7 2112.0h0M382.1 2108.6h0M383.4 2105.0h0M384.8 2100.4h0M386.1 2095.2h0M387.5 2089.7h0M388.8 2084.5h0M390.2 2079.9h0M391.5 2075.7h0M392.9 2071.7h0M394.2 2067.8h0M395.6 2063.9h0M396.9 2059.7h0M398.3 2055.2h0M399.7 2050.2h0M401.0 2044.8h0M402.4 2039.3h0M403.7 2033.7h0M405.1 2028.3h0M406.4 2023.2h0M407.8 2018.2h0M409.1 2013.3h0M410.5 2008.4h0M411.8 2003.5h0M413.2 1998.7h0M414.5 1994.0h0M415.9 1989.4h0M417.2 1984.5h0M418.6 1979.4h0M419.9 1973.8h0M421.3 1967.4h0M422.6 1960.4h0M424.0 1953.0h0M425.3 1945.1h0M426.7 1937.1h0M428.0 1928.5h0M429.4 1919.1h0M430.7 1909.6h0M432.1 1900.5h0M433.5 1892.3h0M434.8 1884.8h0M436.2 1877.5h0M437.5 1870.7h0M438.9 1864.7h0M440.2 1859.7h0M441.6 1855.6h0M442.9 1851.8h0M444.3 1848.4h0M445.6 1845.3h0M447.0 1842.5h0M448.3 1839.8h0M449.7 1837.3h0M451.0 1834.9h0M452.4 1832.6h0M453.7 1830.4h0M455.1 1828.4h0M456.4 1826.5h0M457.8 1824.7h0M459.1 1823.1h0M460.5 1821.5h0M461.8 1820.0h0M463.2 1818.5h0M464.5 1817.2h0M465.9 1815.9h0M467.3 1814.6h0M468.6 1813.4h0M470.0 1812.2h0M471.3 1811.1h0M472.7 1810.0h0M474.0 1809.0h0M475.4 1808.0h0M476.7 1807.0h0M478.1 1806.1h0M479.4 1805.2h0M480.8 1804.3h0M482.1 1803.4h0M483.5 1802.6h0M484.8 1801.8h0M486.2 1800.9h0M487.5 1800.1h0M488.9 1799.2h0M490.2 1798.4h0M491.6 1797.5h0M492.9 1796.6h0M494.3 1795.7h0M495.6 1794.7h0M497.0 1793.8h0M498.3 1792.8h0M499.7 1791.9h0M501.1 1790.9h0M502.4 1790.0h0M503.8 1789.0h0M505.1 1788.0h0M506.5 1787.1h0M507.8 1786.1h0M509.2 1785.2h0M510.5 1784.2h0M511.9 1783.3h0M513.2 1782.3h0M514.6 1781.4h0M515.9 1780.4h0M517.3 1779.5h0M518.6 1778.5h0M520.0 1777.6h0M521.3 1776.6h0M522.7 1775.7h0M524.0 1774.7h0M525.4 1773.8h0M526.7 1772.8h0M528.1 1771.9h0M529.4 1770.9h0M530.8 1769.9h0M532.1 1769.0h0M533.5 1768.1h0M534.9 1767.1h0M536.2 1766.2h0M537.6 1765.2h0M538.9 1764.3h0M540.3 1763.4h0M541.6 1762.5h0M543.0 1761.6h0M544.3 1760.7h0M545.7 1759.8h0M547.0 1758.9h0M548.4 1758.0h0M549.7 1757.2h0M551.1 1756.3h0M552.4 1755.5h0M553.8 1754.6h0M555.1 1753.8h0M556.5 1753.0h0M557.8 1752.2h0M559.2 1751.4h0M560.5 1750.6h0M561.9 1749.8h0M563.2 1749.0h0M564.6 1748.2h0M565.9 1747.4h0M567.3 1746.7h0M568.7 1745.9h0M570.0 1745.2h0M571.4 1744.4h0M572.7 1743.7h0M574.1 1742.9h0M575.4 1742.2h0M576.8 1741.4h0M578.1 1740.7h0M579.5 1740.0h0M580.8 1739.3h0M582.2 1738.5h0M583.5 1737.8h0M584.9 1737.1h0M586.2 1736.4h0M587.6 1735.7h0M588.9 1735.0h0M590.3 1734.3h0M591.6 1733.6h0M593.0 1732.9h0M594.3 1732.2h0M595.7 1731.5h0M597.0 1730.8h0M598.4 1730.2h0M599.7 1729.5h0M601.1 1728.8h0M602.5 1728.1h0M603.8 1727.4h0M605.2 1726.8h0M606.5 1726.1h0M607.9 1725.4h0M609.2 1724.7h0M610.6 1724.1h0M611.9 1723.4h0M613.3 1722.8h0M614.6 1722.1h0M616.0 1721.5h0M617.3 1720.8h0M618.7 1720.2h0M620.0 1719.6h0M621.4 1718.9h0M622.7 1718.3h0M624.1 1717.7h0M625.4 1717.1h0M626.8 1716.5h0M628.1 1715.9h0M629.5 1715.3h0M630.8 1714.8h0M632.2 1714.2h0M633.5 1713.6h0M634.9 1713.1h0M636.3 1712.5h0M637.6 1712.0h0M639.0 1711.5h0M640.3 1711.0h0M641.7 1710.4h0M643.0 1709.9h0M644.4 1709.4h0M645.7 1708.9h0M647.1 1708.4h0M648.4 1707.9h0M649.8 1707.4h0M651.1 1707.0h0M652.5 1706.5h0M653.8 1706.0h0M655.2 1705.5h0M656.5 1705.1h0M657.9 1704.6h0M659.2 1704.1h0M660.6 1703.7h0M661.9 1703.2h0M663.3 1702.8h0M664.6 1702.3h0M666.0 1701.9h0M667.3 1701.4h0M668.7 1701.0h0M670.1 1700.6h0M671.4 1700.1h0M672.8 1699.7h0M674.1 1699.3h0M675.5 1698.8h0M676.8 1698.4h0M678.2 1698.0h0M679.5 1697.5h0M680.9 1697.1h0M682.2 1696.7h0M683.6 1696.3h0M684.9 1695.9h0M686.3 1695.5h0M687.6 1695.0h0M689.0 1694.6h0M690.3 1694.2h0M691.7 1693.8h0M693.0 1693.4h0M694.4 1693.0h0M695.7 1692.6h0M697.1 1692.2h0M698.4 1691.8h0M699.8 1691.5h0M701.1 1691.1h0M702.5 1690.7h0M703.9 1690.3h0M705.2 1689.9h0M706.6 1689.6h0M707.9 1689.2h0M709.3 1688.8h0M710.6 1688.4h0M712.0 1688.1h0M713.3 1687.7h0M714.7 1687.4h0M716.0 1687.0h0M717.4 1686.7h0M718.7 1686.3h0M720.1 1686.0h0M721.4 1685.6h0M722.8 1685.3h0M724.1 1684.9h0M725.5 1684.6h0M726.8 1684.2h0M728.2 1683.9h0M729.5 1683.6h0M730.9 1683.2h0M732.2 1682.9h0M733.6 1682.5h0M734.9 1682.2h0M736.3 1681.9h0M737.7 1681.5h0M739.0 1681.2h0M740.4 1680.9h0M741.7 1680.6h0M743.1 1680.3h0M744.4 1679.9h0M745.8 1679.6h0M747.1 1679.3h0M748.5 1679.0h0M749.8 1678.7h0M751.2 1678.4h0M752.5 1678.1h0M753.9 1677.8h0M755.2 1677.5h0M756.6 1677.2h0M757.9 1676.9h0M759.3 1676.6h0M760.6 1676.3h0M762.0 1676.0h0M763.3 1675.7h0M764.7 1675.5h0M766.0 1675.2h0M767.4 1674.9h0M768.7 1674.7h0M770.1 1674.4h0M771.5 1674.1h0M772.8 1673.9h0M774.2 1673.6h0M775.5 1673.3h0M776.9 1673.1h0M778.2 1672.8h0M779.6 1672.6h0M780.9 1672.3h0M782.3 1672.1h0M783.6 1671.8h0M785.0 1671.6h0M786.3 1671.3h0M787.7 1671.1h0M789.0 1670.8h0M790.4 1670.6h0M791.7 1670.3h0M793.1 1670.1h0M794.4 1669.9h0M795.8 1669.6h0M797.1 1669.4h0M798.5 1669.1h0M799.8 1668.9h0M801.2 1668.7h0M802.5 1668.4h0M803.9 1668.2h0M805.3 1668.0h0M806.6 1667.7h0M808.0 1667.5h0M809.3 1667.3h0M810.7 1667.1h0M812.0 1666.8h0M813.4 1666.6h0M814.7 1666.4h0M816.1 1666.2h0M817.4 1665.9h0M818.8 1665.7h0M820.1 1665.5h0M821.5 1665.3h0M822.8 1665.1h0M824.2 1664.9h0M825.5 1664.6h0M826.9 1664.4h0M828.2 1664.2h0M829.6 1664.0h0M830.9 1663.8h0M832.3 1663.6h0M833.6 1663.4h0M835.0 1663.2h0M836.3 1663.0h0M837.7 1662.8h0M839.1 1662.6h0M840.4 1662.4h0M841.8 1662.2h0M843.1 1662.0h0M844.5 1661.8h0M845.8 1661.6h0M847.2 1661.4h0M848.5 1661.2h0M849.9 1661.0h0M851.2 1660.8h0M852.6 1660.6h0M853.9 1660.4h0M855.3 1660.2h0M856.6 1660.0h0M858.0 1659.8h0M859.3 1659.7h0M860.7 1659.5h0M862.0 1659.3h0M863.4 1659.1h0M864.7 1658.9h0M866.1 1658.7h0M867.4 1658.6h0M868.8 1658.4h0M870.1 1658.2h0M871.5 1658.0h0M872.9 1657.9h0M874.2 1657.7h0M875.6 1657.5h0M876.9 1657.3h0M878.3 1657.2h0M879.6 1657.0h0M881.0 1656.8h0M882.3 1656.7h0M883.7 1656.5h0M885.0 1656.3h0M886.4 1656.2h0M887.7 1656.0h0M889.1 1655.9h0M890.4 1655.7h0M891.8 1655.5h0M893.1 1655.4h0M894.5 1655.2h0M895.8 1655.1h0M897.2 1654.9h0M898.5 1654.8h0M899.9 1654.6h0M901.2 1654.5h0M902.6 1654.3h0M903.9 1654.2h0M905.3 1654.0h0M906.7 1653.9h0M908.0 1653.7h0M909.4 1653.6h0M910.7 1653.4h0M912.1 1653.3h0M913.4 1653.1h0M914.8 1653.0h0M916.1 1652.8h0M917.5 1652.7h0M918.8 1652.6h0M920.2 1652.4h0M921.5 1652.3h0M922.9 1652.1h0M924.2 1652.0h0M925.6 1651.8h0M926.9 1651.7h0M928.3 1651.6h0M929.6 1651.4h0M931.0 1651.3h0M932.3 1651.2h0M933.7 1651.0h0M935.0 1650.9h0M936.4 1650.7h0M937.7 1650.6h0M939.1 1650.5h0M940.5 1650.3h0M941.8 1650.2h0M943.2 1650.1h0M944.5 1649.9h0M945.9 1649.8h0M947.2 1649.7h0M948.6 1649.5h0M949.9 1649.4h0M951.3 1649.3h0M952.6 1649.1h0M954.0 1649.0h0M955.3 1648.9h0M956.7 1648.7h0M958.0 1648.6h0M959.4 1648.5h0M960.7 1648.3h0M962.1 1648.2h0M963.4 1648.0h0M964.8 1647.9h0M966.1 1647.8h0M967.5 1647.6h0M968.8 1647.5h0M970.2 1647.4h0M971.5 1647.2h0M972.9 1647.1h0M974.3 1647.0h0M975.6 1646.8h0M977.0 1646.7h0M978.3 1646.6h0M979.7 1646.4h0M981.0 1646.3h0M982.4 1646.2h0M983.7 1646.0h0M985.1 1645.9h0M986.4 1645.8h0M987.8 1645.6h0M989.1 1645.5h0M990.5 1645.4h0M991.8 1645.2h0M993.2 1645.1h0M994.5 1645.0h0M995.9 1644.8h0M997.2 1644.7h0M998.6 1644.6h0M999.9 1644.4h0M1001.3 1644.3h0M1002.6 1644.2h0M1004.0 1644.1h0M1005.3 1643.9h0M1006.7 1643.8h0M1008.1 1643.7h0M1009.4 1643.5h0M1010.8 1643.4h0M1012.1 1643.3h0M1013.5 1643.2h0M1014.8 1643.0h0M1016.2 1642.9h0M1017.5 1642.8h0M1018.9 1642.6h0M1020.2 1642.5h0M1021.6 1642.4h0M1022.9 1642.3h0M1024.3 1642.1h0M1025.6 1642.0h0M1027.0 1641.9h0M1028.3 1641.7h0M1029.7 1641.6h0M1031.0 1641.5h0M1032.4 1641.4h0M1033.7 1641.2h0M1035.1 1641.1h0M1036.4 1641.0h0M1037.8 1640.8h0M1039.1 1640.7h0M1040.5 1640.6h0" stroke="#4a4a4a" stroke-width="12" stroke-linecap="square" fill="none"/></g>
<g clip-path="url(#ce)"><path d="M229.3 2132.6L230.7 2132.6L232.0 2132.6L233.4 2132.6L234.7 2132.6L236.1 2132.6L237.4 2132.6L238.8 2132.6L240.1 2132.6L241.5 2132.6L242.8 2132.6L244.2 2132.6L245.5 2132.6L246.9 2132.6L248.2 2132.6L249.6 2132.6L250.9 2132.6L252.3 2132.6L253.6 2132.6L255.0 2132.6L256.3 2132.6L257.7 2132.6L259.0 2132.6L260.4 2132.6L261.7 2132.6L263.1 2132.6L264.5 2132.6L265.8 2132.6L267.2 2132.6L268.5 2132.6L269.9 2132.6L271.2 2132.6L272.6 2132.6L273.9 2132.6L275.3 2132.6L276.6 2132.6L278.0 2132.6L279.3 2132.6L280.7 2132.6L282.0 2132.6L283.4 2132.6L284.7 2132.6L286.1 2132.6L287.4 2132.6L288.8 2132.6L290.1 2132.6L291.5 2132.6L292.8 2132.6L294.2 2132.6L295.5 2132.6L296.9 2132.6L298.3 2132.6L299.6 2132.6L301.0 2132.6L302.3 2132.6L303.7 2132.6L305.0 2132.6L306.4 2132.6L307.7 2132.6L309.1 2132.6L310.4 2132.6L311.8 2132.6L313.1 2132.6L314.5 2132.6L315.8 2132.6L317.2 2132.6L318.5 2132.6L319.9 2132.6L321.2 2132.6L322.6 2132.6L323.9 2132.6L325.3 2132.6L326.6 2132.6L328.0 2132.6L329.3 2132.6L330.7 2132.6L332.1 2132.6L333.4 2132.6L334.8 2132.6L336.1 2132.6L337.5 2132.6L338.8 2132.6L340.2 2132.6L341.5 2132.6L342.9 2132.6L344.2 2132.6L345.6 2132.6L346.9 2132.6L348.3 2132.6L349.6 2132.2L351.0 2131.2L352.3 2129.8L353.7 2128.2L355.0 2126.5L356.4 2124.7L357.7 2122.5L359.1 2120.0L360.4 2117.2L361.8 2114.3L363.1 2111.3L364.5 2108.2L365.9 2104.9L367.2 2101.4L368.6 2097.6L369.9 2093.7L371.3 2089.7L372.6 2085.7L374.0 2081.7L375.3 2077.7L376.7 2073.8L378.0 2069.7L379.4 2065.7L380.7 2061.5L382.1 2057.4L383.4 2053.2L384.8 2048.9L386.1 2044.6L387.5 2040.3L388.8 2035.9L390.2 2031.4L391.5 2026.9L392.9 2022.4L394.2 2017.9L395.6 2013.3L396.9 2008.6L398.3 2003.9L399.7 1999.1L401.0 1994.1L402.4 1989.0L403.7 1983.6L405.1 1978.1L406.4 1972.5L407.8 1967.0L409.1 1961.5L410.5 1956.1L411.8 1950.7L413.2 1945.3L414.5 1939.9L415.9 1934.5L417.2 1929.1L418.6 1923.8L419.9 1918.3L421.3 1912.8L422.6 1907.2L424.0 1901.9L425.3 1896.9L426.7 1892.3L428.0 1888.1L429.4 1884.2L430.7 1880.6L432.1 1877.0L433.5 1873.7L434.8 1870.4L436.2 1867.2L437.5 1864.1L438.9 1861.0L440.2 1858.0L441.6 1855.1L442.9 1852.4L444.3 1849.9L445.6 1847.5L447.0 1845.3L448.3 1843.2L449.7 1841.3L451.0 1839.5L452.4 1837.7L453.7 1836.1L455.1 1834.5L456.4 1833.0L457.8 1831.6L459.1 1830.2L460.5 1828.9L461.8 1827.5L463.2 1826.3L464.5 1825.0L465.9 1823.7L467.3 1822.4L468.6 1821.0L470.0 1819.6L471.3 1818.2L472.7 1816.8L474.0 1815.4L475.4 1814.0L476.7 1812.6L478.1 1811.2L479.4 1809.8L480.8 1808.5L482.1 1807.2L483.5 1805.9L484.8 1804.7L486.2 1803.6L487.5 1802.4L488.9 1801.3L490.2 1800.2L491.6 1799.1L492.9 1798.1L494.3 1797.0L495.6 1796.0L497.0 1795.0L498.3 1794.0L499.7 1793.0L501.1 1792.1L502.4 1791.2L503.8 1790.2L505.1 1789.3L506.5 1788.4L507.8 1787.6L509.2 1786.7L510.5 1785.8L511.9 1785.0L513.2 1784.2L514.6 1783.3L515.9 1782.5L517.3 1781.7L518.6 1780.9L520.0 1780.1L521.3 1779.4L522.7 1778.6L524.0 1777.8L525.4 1777.1L526.7 1776.3L528.1 1775.6L529.4 1774.8L530.8 1774.1L532.1 1773.4L533.5 1772.6L534.9 1771.9L536.2 1771.2L537.6 1770.5L538.9 1769.8L540.3 1769.0L541.6 1768.3L543.0 1767.6L544.3 1766.9L545.7 1766.2L547.0 1765.5L548.4 1764.8L549.7 1764.1L551.1 1763.4L552.4 1762.7L553.8 1762.0L555.1 1761.2L556.5 1760.5L557.8 1759.8L559.2 1759.1L560.5 1758.4L561.9 1757.7L563.2 1757.0L564.6 1756.3L565.9 1755.6L567.3 1754.9L568.7 1754.2L570.0 1753.5L571.4 1752.8L572.7 1752.1L574.1 1751.4L575.4 1750.7L576.8 1750.1L578.1 1749.4L579.5 1748.7L580.8 1748.0L582.2 1747.4L583.5 1746.7L584.9 1746.1L586.2 1745.4L587.6 1744.8L588.9 1744.1L590.3 1743.5L591.6 1742.8L593.0 1742.2L594.3 1741.6L595.7 1741.0L597.0 1740.4L598.4 1739.7L599.7 1739.1L601.1 1738.5L602.5 1737.9L603.8 1737.3L605.2 1736.7L606.5 1736.1L607.9 1735.5L609.2 1734.9L610.6 1734.4L611.9 1733.8L613.3 1733.2L614.6 1732.6L616.0 1732.1L617.3 1731.5L618.7 1730.9L620.0 1730.4L621.4 1729.8L622.7 1729.3L624.1 1728.7L625.4 1728.2L626.8 1727.6L628.1 1727.1L629.5 1726.6L630.8 1726.0L632.2 1725.5L633.5 1725.0L634.9 1724.5L636.3 1724.0L637.6 1723.5L639.0 1723.0L640.3 1722.5L641.7 1722.0L643.0 1721.5L644.4 1721.0L645.7 1720.5L647.1 1720.0L648.4 1719.6L649.8 1719.1L651.1 1718.6L652.5 1718.1L653.8 1717.7L655.2 1717.2L656.5 1716.8L657.9 1716.3L659.2 1715.8L660.6 1715.4L661.9 1714.9L663.3 1714.5L664.6 1714.1L666.0 1713.6L667.3 1713.2L668.7 1712.8L670.1 1712.3L671.4 1711.9L672.8 1711.5L674.1 1711.1L675.5 1710.6L676.8 1710.2L678.2 1709.8L679.5 1709.4L680.9 1709.0L682.2 1708.6L683.6 1708.2L684.9 1707.8L686.3 1707.4L687.6 1707.0L689.0 1706.6L690.3 1706.2L691.7 1705.8L693.0 1705.4L694.4 1705.0L695.7 1704.6L697.1 1704.2L698.4 1703.9L699.8 1703.5L701.1 1703.1L702.5 1702.7L703.9 1702.4L705.2 1702.0L706.6 1701.7L707.9 1701.3L709.3 1700.9L710.6 1700.6L712.0 1700.3L713.3 1699.9L714.7 1699.6L716.0 1699.2L717.4 1698.9L718.7 1698.6L720.1 1698.2L721.4 1697.9L722.8 1697.6L724.1 1697.3L725.5 1696.9L726.8 1696.6L728.2 1696.3L729.5 1696.0L730.9 1695.7L732.2 1695.4L733.6 1695.1L734.9 1694.8L736.3 1694.5L737.7 1694.1L739.0 1693.8L740.4 1693.5L741.7 1693.3L743.1 1693.0L744.4 1692.7L745.8 1692.4L747.1 1692.1L748.5 1691.8L749.8 1691.5L751.2 1691.2L752.5 1690.9L753.9 1690.7L755.2 1690.4L756.6 1690.1L757.9 1689.8L759.3 1689.6L760.6 1689.3L762.0 1689.0L763.3 1688.7L764.7 1688.5L766.0 1688.2L767.4 1687.9L768.7 1687.7L770.1 1687.4L771.5 1687.2L772.8 1686.9L774.2 1686.6L775.5 1686.4L776.9 1686.1L778.2 1685.9L779.6 1685.6L780.9 1685.4L782.3 1685.1L783.6 1684.9L785.0 1684.6L786.3 1684.4L787.7 1684.1L789.0 1683.9L790.4 1683.6L791.7 1683.4L793.1 1683.1L794.4 1682.9L795.8 1682.6L797.1 1682.4L798.5 1682.1L799.8 1681.9L801.2 1681.6L802.5 1681.4L803.9 1681.2L805.3 1680.9L806.6 1680.7L808.0 1680.5L809.3 1680.2L810.7 1680.0L812.0 1679.7L813.4 1679.5L814.7 1679.3L816.1 1679.0L817.4 1678.8L818.8 1678.6L820.1 1678.4L821.5 1678.1L822.8 1677.9L824.2 1677.7L825.5 1677.4L826.9 1677.2L828.2 1677.0L829.6 1676.8L830.9 1676.5L832.3 1676.3L833.6 1676.1L835.0 1675.9L836.3 1675.7L837.7 1675.4L839.1 1675.2L840.4 1675.0L841.8 1674.8L843.1 1674.6L844.5 1674.4L845.8 1674.2L847.2 1673.9L848.5 1673.7L849.9 1673.5L851.2 1673.3L852.6 1673.1L853.9 1672.9L855.3 1672.7L856.6 1672.5L858.0 1672.3L859.3 1672.1L860.7 1671.9L862.0 1671.7L863.4 1671.5L864.7 1671.3L866.1 1671.1L867.4 1670.9L868.8 1670.7L870.1 1670.5L871.5 1670.3L872.9 1670.1L874.2 1669.9L875.6 1669.7L876.9 1669.5L878.3 1669.3L879.6 1669.1L881.0 1669.0L882.3 1668.8L883.7 1668.6L885.0 1668.4L886.4 1668.2L887.7 1668.0L889.1 1667.8L890.4 1667.7L891.8 1667.5L893.1 1667.3L894.5 1667.1L895.8 1667.0L897.2 1666.8L898.5 1666.6L899.9 1666.4L901.2 1666.2L902.6 1666.1L903.9 1665.9L905.3 1665.7L906.7 1665.6L908.0 1665.4L909.4 1665.2L910.7 1665.0L912.1 1664.9L913.4 1664.7L914.8 1664.5L916.1 1664.4L917.5 1664.2L918.8 1664.0L920.2 1663.9L921.5 1663.7L922.9 1663.5L924.2 1663.4L925.6 1663.2L926.9 1663.1L928.3 1662.9L929.6 1662.7L931.0 1662.6L932.3 1662.4L933.7 1662.2L935.0 1662.1L936.4 1661.9L937.7 1661.8L939.1 1661.6L940.5 1661.4L941.8 1661.3L943.2 1661.1L944.5 1661.0L945.9 1660.8L947.2 1660.7L948.6 1660.5L949.9 1660.3L951.3 1660.2L952.6 1660.0L954.0 1659.9L955.3 1659.7L956.7 1659.6L958.0 1659.4L959.4 1659.2L960.7 1659.1L962.1 1658.9L963.4 1658.8L964.8 1658.6L966.1 1658.5L967.5 1658.3L968.8 1658.2L970.2 1658.0L971.5 1657.8L972.9 1657.7L974.3 1657.5L975.6 1657.4L977.0 1657.2L978.3 1657.1L979.7 1656.9L981.0 1656.8L982.4 1656.6L983.7 1656.5L985.1 1656.3L986.4 1656.2L987.8 1656.0L989.1 1655.9L990.5 1655.7L991.8 1655.6L993.2 1655.4L994.5 1655.3L995.9 1655.1L997.2 1655.0L998.6 1654.8L999.9 1654.7L1001.3 1654.5L1002.6 1654.4L1004.0 1654.3L1005.3 1654.1L1006.7 1654.0L1008.1 1653.8L1009.4 1653.7L1010.8 1653.5L1012.1 1653.4L1013.5 1653.2L1014.8 1653.1L1016.2 1653.0L1017.5 1652.8L1018.9 1652.7L1020.2 1652.5L1021.6 1652.4L1022.9 1652.2L1024.3 1652.1L1025.6 1652.0L1027.0 1651.8L1028.3 1651.7L1029.7 1651.5L1031.0 1651.4L1032.4 1651.2L1033.7 1651.1L1035.1 1650.9L1036.4 1650.8L1037.8 1650.6L1039.1 1650.5L1040.5 1650.4" fill="none" stroke="#e0384a" stroke-width="6" stroke-linejoin="round"/><path d="M229.3 2132.6h0M230.7 2132.6h0M232.0 2132.6h0M233.4 2132.6h0M234.7 2132.6h0M236.1 2132.6h0M237.4 2132.6h0M238.8 2132.6h0M240.1 2132.6h0M241.5 2132.6h0M242.8 2132.6h0M244.2 2132.6h0M245.5 2132.6h0M246.9 2132.6h0M248.2 2132.6h0M249.6 2132.6h0M250.9 2132.6h0M252.3 2132.6h0M253.6 2132.6h0M255.0 2132.6h0M256.3 2132.6h0M257.7 2132.6h0M259.0 2132.6h0M260.4 2132.6h0M261.7 2132.6h0M263.1 2132.6h0M264.5 2132.6h0M265.8 2132.6h0M267.2 2132.6h0M268.5 2132.6h0M269.9 2132.6h0M271.2 2132.6h0M272.6 2132.6h0M273.9 2132.6h0M275.3 2132.6h0M276.6 2132.6h0M278.0 2132.6h0M279.3 2132.6h0M280.7 2132.6h0M282.0 2132.6h0M283.4 2132.6h0M284.7 2132.6h0M286.1 2132.6h0M287.4 2132.6h0M288.8 2132.6h0M290.1 2132.6h0M291.5 2132.6h0M292.8 2132.6h0M294.2 2132.6h0M295.5 2132.6h0M296.9 2132.6h0M298.3 2132.6h0M299.6 2132.6h0M301.0 2132.6h0M302.3 2132.6h0M303.7 2132.6h0M305.0 2132.6h0M306.4 2132.6h0M307.7 2132.6h0M309.1 2132.6h0M310.4 2132.6h0M311.8 2132.6h0M313.1 2132.6h0M314.5 2132.6h0M315.8 2132.6h0M317.2 2132.6h0M318.5 2132.6h0M319.9 2132.6h0M321.2 2132.6h0M322.6 2132.6h0M323.9 2132.6h0M325.3 2132.6h0M326.6 2132.6h0M328.0 2132.6h0M329.3 2132.6h0M330.7 2132.6h0M332.1 2132.6h0M333.4 2132.6h0M334.8 2132.6h0M336.1 2132.6h0M337.5 2132.6h0M338.8 2132.6h0M340.2 2132.6h0M341.5 2132.6h0M342.9 2132.6h0M344.2 2132.6h0M345.6 2132.6h0M346.9 2132.6h0M348.3 2132.6h0M349.6 2132.2h0M351.0 2131.2h0M352.3 2129.8h0M353.7 2128.2h0M355.0 2126.5h0M356.4 2124.7h0M357.7 2122.5h0M359.1 2120.0h0M360.4 2117.2h0M361.8 2114.3h0M363.1 2111.3h0M364.5 2108.2h0M365.9 2104.9h0M367.2 2101.4h0M368.6 2097.6h0M369.9 2093.7h0M371.3 2089.7h0M372.6 2085.7h0M374.0 2081.7h0M375.3 2077.7h0M376.7 2073.8h0M378.0 2069.7h0M379.4 2065.7h0M380.7 2061.5h0M382.1 2057.4h0M383.4 2053.2h0M384.8 2048.9h0M386.1 2044.6h0M387.5 2040.3h0M388.8 2035.9h0M390.2 2031.4h0M391.5 2026.9h0M392.9 2022.4h0M394.2 2017.9h0M395.6 2013.3h0M396.9 2008.6h0M398.3 2003.9h0M399.7 1999.1h0M401.0 1994.1h0M402.4 1989.0h0M403.7 1983.6h0M405.1 1978.1h0M406.4 1972.5h0M407.8 1967.0h0M409.1 1961.5h0M410.5 1956.1h0M411.8 1950.7h0M413.2 1945.3h0M414.5 1939.9h0M415.9 1934.5h0M417.2 1929.1h0M418.6 1923.8h0M419.9 1918.3h0M421.3 1912.8h0M422.6 1907.2h0M424.0 1901.9h0M425.3 1896.9h0M426.7 1892.3h0M428.0 1888.1h0M429.4 1884.2h0M430.7 1880.6h0M432.1 1877.0h0M433.5 1873.7h0M434.8 1870.4h0M436.2 1867.2h0M437.5 1864.1h0M438.9 1861.0h0M440.2 1858.0h0M441.6 1855.1h0M442.9 1852.4h0M444.3 1849.9h0M445.6 1847.5h0M447.0 1845.3h0M448.3 1843.2h0M449.7 1841.3h0M451.0 1839.5h0M452.4 1837.7h0M453.7 1836.1h0M455.1 1834.5h0M456.4 1833.0h0M457.8 1831.6h0M459.1 1830.2h0M460.5 1828.9h0M461.8 1827.5h0M463.2 1826.3h0M464.5 1825.0h0M465.9 1823.7h0M467.3 1822.4h0M468.6 1821.0h0M470.0 1819.6h0M471.3 1818.2h0M472.7 1816.8h0M474.0 1815.4h0M475.4 1814.0h0M476.7 1812.6h0M478.1 1811.2h0M479.4 1809.8h0M480.8 1808.5h0M482.1 1807.2h0M483.5 1805.9h0M484.8 1804.7h0M486.2 1803.6h0M487.5 1802.4h0M488.9 1801.3h0M490.2 1800.2h0M491.6 1799.1h0M492.9 1798.1h0M494.3 1797.0h0M495.6 1796.0h0M497.0 1795.0h0M498.3 1794.0h0M499.7 1793.0h0M501.1 1792.1h0M502.4 1791.2h0M503.8 1790.2h0M505.1 1789.3h0M506.5 1788.4h0M507.8 1787.6h0M509.2 1786.7h0M510.5 1785.8h0M511.9 1785.0h0M513.2 1784.2h0M514.6 1783.3h0M515.9 1782.5h0M517.3 1781.7h0M518.6 1780.9h0M520.0 1780.1h0M521.3 1779.4h0M522.7 1778.6h0M524.0 1777.8h0M525.4 1777.1h0M526.7 1776.3h0M528.1 1775.6h0M529.4 1774.8h0M530.8 1774.1h0M532.1 1773.4h0M533.5 1772.6h0M534.9 1771.9h0M536.2 1771.2h0M537.6 1770.5h0M538.9 1769.8h0M540.3 1769.0h0M541.6 1768.3h0M543.0 1767.6h0M544.3 1766.9h0M545.7 1766.2h0M547.0 1765.5h0M548.4 1764.8h0M549.7 1764.1h0M551.1 1763.4h0M552.4 1762.7h0M553.8 1762.0h0M555.1 1761.2h0M556.5 1760.5h0M557.8 1759.8h0M559.2 1759.1h0M560.5 1758.4h0M561.9 1757.7h0M563.2 1757.0h0M564.6 1756.3h0M565.9 1755.6h0M567.3 1754.9h0M568.7 1754.2h0M570.0 1753.5h0M571.4 1752.8h0M572.7 1752.1h0M574.1 1751.4h0M575.4 1750.7h0M576.8 1750.1h0M578.1 1749.4h0M579.5 1748.7h0M580.8 1748.0h0M582.2 1747.4h0M583.5 1746.7h0M584.9 1746.1h0M586.2 1745.4h0M587.6 1744.8h0M588.9 1744.1h0M590.3 1743.5h0M591.6 1742.8h0M593.0 1742.2h0M594.3 1741.6h0M595.7 1741.0h0M597.0 1740.4h0M598.4 1739.7h0M599.7 1739.1h0M601.1 1738.5h0M602.5 1737.9h0M603.8 1737.3h0M605.2 1736.7h0M606.5 1736.1h0M607.9 1735.5h0M609.2 1734.9h0M610.6 1734.4h0M611.9 1733.8h0M613.3 1733.2h0M614.6 1732.6h0M616.0 1732.1h0M617.3 1731.5h0M618.7 1730.9h0M620.0 1730.4h0M621.4 1729.8h0M622.7 1729.3h0M624.1 1728.7h0M625.4 1728.2h0M626.8 1727.6h0M628.1 1727.1h0M629.5 1726.6h0M630.8 1726.0h0M632.2 1725.5h0M633.5 1725.0h0M634.9 1724.5h0M636.3 1724.0h0M637.6 1723.5h0M639.0 1723.0h0M640.3 1722.5h0M641.7 1722.0h0M643.0 1721.5h0M644.4 1721.0h0M645.7 1720.5h0M647.1 1720.0h0M648.4 1719.6h0M649.8 1719.1h0M651.1 1718.6h0M652.5 1718.1h0M653.8 1717.7h0M655.2 1717.2h0M656.5 1716.8h0M657.9 1716.3h0M659.2 1715.8h0M660.6 1715.4h0M661.9 1714.9h0M663.3 1714.5h0M664.6 1714.1h0M666.0 1713.6h0M667.3 1713.2h0M668.7 1712.8h0M670.1 1712.3h0M671.4 1711.9h0M672.8 1711.5h0M674.1 1711.1h0M675.5 1710.6h0M676.8 1710.2h0M678.2 1709.8h0M679.5 1709.4h0M680.9 1709.0h0M682.2 1708.6h0M683.6 1708.2h0M684.9 1707.8h0M686.3 1707.4h0M687.6 1707.0h0M689.0 1706.6h0M690.3 1706.2h0M691.7 1705.8h0M693.0 1705.4h0M694.4 1705.0h0M695.7 1704.6h0M697.1 1704.2h0M698.4 1703.9h0M699.8 1703.5h0M701.1 1703.1h0M702.5 1702.7h0M703.9 1702.4h0M705.2 1702.0h0M706.6 1701.7h0M707.9 1701.3h0M709.3 1700.9h0M710.6 1700.6h0M712.0 1700.3h0M713.3 1699.9h0M714.7 1699.6h0M716.0 1699.2h0M717.4 1698.9h0M718.7 1698.6h0M720.1 1698.2h0M721.4 1697.9h0M722.8 1697.6h0M724.1 1697.3h0M725.5 1696.9h0M726.8 1696.6h0M728.2 1696.3h0M729.5 1696.0h0M730.9 1695.7h0M732.2 1695.4h0M733.6 1695.1h0M734.9 1694.8h0M736.3 1694.5h0M737.7 1694.1h0M739.0 1693.8h0M740.4 1693.5h0M741.7 1693.3h0M743.1 1693.0h0M744.4 1692.7h0M745.8 1692.4h0M747.1 1692.1h0M748.5 1691.8h0M749.8 1691.5h0M751.2 1691.2h0M752.5 1690.9h0M753.9 1690.7h0M755.2 1690.4h0M756.6 1690.1h0M757.9 1689.8h0M759.3 1689.6h0M760.6 1689.3h0M762.0 1689.0h0M763.3 1688.7h0M764.7 1688.5h0M766.0 1688.2h0M767.4 1687.9h0M768.7 1687.7h0M770.1 1687.4h0M771.5 1687.2h0M772.8 1686.9h0M774.2 1686.6h0M775.5 1686.4h0M776.9 1686.1h0M778.2 1685.9h0M779.6 1685.6h0M780.9 1685.4h0M782.3 1685.1h0M783.6 1684.9h0M785.0 1684.6h0M786.3 1684.4h0M787.7 1684.1h0M789.0 1683.9h0M790.4 1683.6h0M791.7 1683.4h0M793.1 1683.1h0M794.4 1682.9h0M795.8 1682.6h0M797.1 1682.4h0M798.5 1682.1h0M799.8 1681.9h0M801.2 1681.6h0M802.5 1681.4h0M803.9 1681.2h0M805.3 1680.9h0M806.6 1680.7h0M808.0 1680.5h0M809.3 1680.2h0M810.7 1680.0h0M812.0 1679.7h0M813.4 1679.5h0M814.7 1679.3h0M816.1 1679.0h0M817.4 1678.8h0M818.8 1678.6h0M820.1 1678.4h0M821.5 1678.1h0M822.8 1677.9h0M824.2 1677.7h0M825.5 1677.4h0M826.9 1677.2h0M828.2 1677.0h0M829.6 1676.8h0M830.9 1676.5h0M832.3 1676.3h0M833.6 1676.1h0M835.0 1675.9h0M836.3 1675.7h0M837.7 1675.4h0M839.1 1675.2h0M840.4 1675.0h0M841.8 1674.8h0M843.1 1674.6h0M844.5 1674.4h0M845.8 1674.2h0M847.2 1673.9h0M848.5 1673.7h0M849.9 1673.5h0M851.2 1673.3h0M852.6 1673.1h0M853.9 1672.9h0M855.3 1672.7h0M856.6 1672.5h0M858.0 1672.3h0M859.3 1672.1h0M860.7 1671.9h0M862.0 1671.7h0M863.4 1671.5h0M864.7 1671.3h0M866.1 1671.1h0M867.4 1670.9h0M868.8 1670.7h0M870.1 1670.5h0M871.5 1670.3h0M872.9 1670.1h0M874.2 1669.9h0M875.6 1669.7h0M876.9 1669.5h0M878.3 1669.3h0M879.6 1669.1h0M881.0 1669.0h0M882.3 1668.8h0M883.7 1668.6h0M885.0 1668.4h0M886.4 1668.2h0M887.7 1668.0h0M889.1 1667.8h0M890.4 1667.7h0M891.8 1667.5h0M893.1 1667.3h0M894.5 1667.1h0M895.8 1667.0h0M897.2 1666.8h0M898.5 1666.6h0M899.9 1666.4h0M901.2 1666.2h0M902.6 1666.1h0M903.9 1665.9h0M905.3 1665.7h0M906.7 1665.6h0M908.0 1665.4h0M909.4 1665.2h0M910.7 1665.0h0M912.1 1664.9h0M913.4 1664.7h0M914.8 1664.5h0M916.1 1664.4h0M917.5 1664.2h0M918.8 1664.0h0M920.2 1663.9h0M921.5 1663.7h0M922.9 1663.5h0M924.2 1663.4h0M925.6 1663.2h0M926.9 1663.1h0M928.3 1662.9h0M929.6 1662.7h0M931.0 1662.6h0M932.3 1662.4h0M933.7 1662.2h0M935.0 1662.1h0M936.4 1661.9h0M937.7 1661.8h0M939.1 1661.6h0M940.5 1661.4h0M941.8 1661.3h0M943.2 1661.1h0M944.5 1661.0h0M945.9 1660.8h0M947.2 1660.7h0M948.6 1660.5h0M949.9 1660.3h0M951.3 1660.2h0M952.6 1660.0h0M954.0 1659.9h0M955.3 1659.7h0M956.7 1659.6h0M958.0 1659.4h0M959.4 1659.2h0M960.7 1659.1h0M962.1 1658.9h0M963.4 1658.8h0M964.8 1658.6h0M966.1 1658.5h0M967.5 1658.3h0M968.8 1658.2h0M970.2 1658.0h0M971.5 1657.8h0M972.9 1657.7h0M974.3 1657.5h0M975.6 1657.4h0M977.0 1657.2h0M978.3 1657.1h0M979.7 1656.9h0M981.0 1656.8h0M982.4 1656.6h0M983.7 1656.5h0M985.1 1656.3h0M986.4 1656.2h0M987.8 1656.0h0M989.1 1655.9h0M990.5 1655.7h0M991.8 1655.6h0M993.2 1655.4h0M994.5 1655.3h0M995.9 1655.1h0M997.2 1655.0h0M998.6 1654.8h0M999.9 1654.7h0M1001.3 1654.5h0M1002.6 1654.4h0M1004.0 1654.3h0M1005.3 1654.1h0M1006.7 1654.0h0M1008.1 1653.8h0M1009.4 1653.7h0M1010.8 1653.5h0M1012.1 1653.4h0M1013.5 1653.2h0M1014.8 1653.1h0M1016.2 1653.0h0M1017.5 1652.8h0M1018.9 1652.7h0M1020.2 1652.5h0M1021.6 1652.4h0M1022.9 1652.2h0M1024.3 1652.1h0M1025.6 1652.0h0M1027.0 1651.8h0M1028.3 1651.7h0M1029.7 1651.5h0M1031.0 1651.4h0M1032.4 1651.2h0M1033.7 1651.1h0M1035.1 1650.9h0M1036.4 1650.8h0M1037.8 1650.6h0M1039.1 1650.5h0M1040.5 1650.4h0" stroke="#e0384a" stroke-width="13" stroke-linecap="round" fill="none"/></g>
<g clip-path="url(#ce)"><path d="M229.3 2132.6L230.7 2132.6L232.0 2132.6L233.4 2132.6L234.7 2132.6L236.1 2132.6L237.4 2132.6L238.8 2132.6L240.1 2132.6L241.5 2132.6L242.8 2132.6L244.2 2132.6L245.5 2132.6L246.9 2132.6L248.2 2132.6L249.6 2132.6L250.9 2132.6L252.3 2132.6L253.6 2132.6L255.0 2132.6L256.3 2132.6L257.7 2132.6L259.0 2132.6L260.4 2132.6L261.7 2132.6L263.1 2132.6L264.5 2132.6L265.8 2132.6L267.2 2132.6L268.5 2132.6L269.9 2132.6L271.2 2132.6L272.6 2132.6L273.9 2132.6L275.3 2132.6L276.6 2132.6L278.0 2132.6L279.3 2132.6L280.7 2132.6L282.0 2132.6L283.4 2132.6L284.7 2132.6L286.1 2132.6L287.4 2132.6L288.8 2132.6L290.1 2132.6L291.5 2132.6L292.8 2132.6L294.2 2132.6L295.5 2132.6L296.9 2132.6L298.3 2132.6L299.6 2132.6L301.0 2132.6L302.3 2132.6L303.7 2132.6L305.0 2132.6L306.4 2132.6L307.7 2132.6L309.1 2132.6L310.4 2132.6L311.8 2132.6L313.1 2132.6L314.5 2132.6L315.8 2132.6L317.2 2132.6L318.5 2132.6L319.9 2132.6L321.2 2132.6L322.6 2132.6L323.9 2132.6L325.3 2132.6L326.6 2132.6L328.0 2132.6L329.3 2132.6L330.7 2132.6L332.1 2132.6L333.4 2132.6L334.8 2132.6L336.1 2132.6L337.5 2132.6L338.8 2132.6L340.2 2132.6L341.5 2132.6L342.9 2132.6L344.2 2132.3L345.6 2131.5L346.9 2130.5L348.3 2129.3L349.6 2128.0L351.0 2126.4L352.3 2124.5L353.7 2122.4L355.0 2120.2L356.4 2117.7L357.7 2115.1L359.1 2112.2L360.4 2109.2L361.8 2106.1L363.1 2102.8L364.5 2099.3L365.9 2095.6L367.2 2091.7L368.6 2087.8L369.9 2083.7L371.3 2079.6L372.6 2075.4L374.0 2071.1L375.3 2066.6L376.7 2062.0L378.0 2057.2L379.4 2052.3L380.7 2047.0L382.1 2041.6L383.4 2036.2L384.8 2030.8L386.1 2025.4L387.5 2020.0L388.8 2014.6L390.2 2009.1L391.5 2003.7L392.9 1998.2L394.2 1992.7L395.6 1987.2L396.9 1981.7L398.3 1976.1L399.7 1970.6L401.0 1965.0L402.4 1959.5L403.7 1954.0L405.1 1948.4L406.4 1942.8L407.8 1937.2L409.1 1931.7L410.5 1926.2L411.8 1920.8L413.2 1915.4L414.5 1909.9L415.9 1904.5L417.2 1899.1L418.6 1893.9L419.9 1888.9L421.3 1884.1L422.6 1879.6L424.0 1875.1L425.3 1870.8L426.7 1866.6L428.0 1862.7L429.4 1859.0L430.7 1855.6L432.1 1852.5L433.5 1849.5L434.8 1846.7L436.2 1844.1L437.5 1841.6L438.9 1839.4L440.2 1837.3L441.6 1835.4L442.9 1833.7L444.3 1832.1L445.6 1830.6L447.0 1829.2L448.3 1827.8L449.7 1826.4L451.0 1825.1L452.4 1823.7L453.7 1822.4L455.1 1821.1L456.4 1819.8L457.8 1818.5L459.1 1817.4L460.5 1816.2L461.8 1815.2L463.2 1814.2L464.5 1813.3L465.9 1812.4L467.3 1811.6L468.6 1810.7L470.0 1809.9L471.3 1809.1L472.7 1808.4L474.0 1807.6L475.4 1806.9L476.7 1806.2L478.1 1805.5L479.4 1804.8L480.8 1804.1L482.1 1803.4L483.5 1802.7L484.8 1802.0L486.2 1801.3L487.5 1800.6L488.9 1799.8L490.2 1799.1L491.6 1798.4L492.9 1797.6L494.3 1796.9L495.6 1796.2L497.0 1795.4L498.3 1794.7L499.7 1794.0L501.1 1793.3L502.4 1792.6L503.8 1791.9L505.1 1791.2L506.5 1790.5L507.8 1789.8L509.2 1789.1L510.5 1788.4L511.9 1787.7L513.2 1787.0L514.6 1786.3L515.9 1785.7L517.3 1785.0L518.6 1784.3L520.0 1783.6L521.3 1782.9L522.7 1782.3L524.0 1781.6L525.4 1780.9L526.7 1780.2L528.1 1779.6L529.4 1778.9L530.8 1778.3L532.1 1777.6L533.5 1777.0L534.9 1776.3L536.2 1775.7L537.6 1775.0L538.9 1774.4L540.3 1773.8L541.6 1773.1L543.0 1772.5L544.3 1771.9L545.7 1771.3L547.0 1770.7L548.4 1770.1L549.7 1769.5L551.1 1768.9L552.4 1768.3L553.8 1767.7L555.1 1767.1L556.5 1766.5L557.8 1766.0L559.2 1765.4L560.5 1764.8L561.9 1764.2L563.2 1763.7L564.6 1763.1L565.9 1762.5L567.3 1762.0L568.7 1761.4L570.0 1760.9L571.4 1760.3L572.7 1759.8L574.1 1759.2L575.4 1758.7L576.8 1758.2L578.1 1757.7L579.5 1757.1L580.8 1756.6L582.2 1756.1L583.5 1755.6L584.9 1755.1L586.2 1754.6L587.6 1754.1L588.9 1753.6L590.3 1753.2L591.6 1752.7L593.0 1752.2L594.3 1751.8L595.7 1751.3L597.0 1750.9L598.4 1750.4L599.7 1750.0L601.1 1749.6L602.5 1749.2L603.8 1748.7L605.2 1748.3L606.5 1747.9L607.9 1747.5L609.2 1747.1L610.6 1746.7L611.9 1746.3L613.3 1746.0L614.6 1745.6L616.0 1745.2L617.3 1744.8L618.7 1744.4L620.0 1744.0L621.4 1743.7L622.7 1743.3L624.1 1742.9L625.4 1742.6L626.8 1742.2L628.1 1741.8L629.5 1741.4L630.8 1741.1L632.2 1740.7L633.5 1740.3L634.9 1740.0L636.3 1739.6L637.6 1739.2L639.0 1738.9L640.3 1738.5L641.7 1738.1L643.0 1737.8L644.4 1737.4L645.7 1737.0L647.1 1736.7L648.4 1736.3L649.8 1735.9L651.1 1735.6L652.5 1735.2L653.8 1734.9L655.2 1734.5L656.5 1734.2L657.9 1733.8L659.2 1733.5L660.6 1733.1L661.9 1732.8L663.3 1732.4L664.6 1732.1L666.0 1731.7L667.3 1731.4L668.7 1731.0L670.1 1730.7L671.4 1730.4L672.8 1730.0L674.1 1729.7L675.5 1729.4L676.8 1729.0L678.2 1728.7L679.5 1728.4L680.9 1728.1L682.2 1727.7L683.6 1727.4L684.9 1727.1L686.3 1726.8L687.6 1726.5L689.0 1726.1L690.3 1725.8L691.7 1725.5L693.0 1725.2L694.4 1724.9L695.7 1724.6L697.1 1724.3L698.4 1724.0L699.8 1723.7L701.1 1723.4L702.5 1723.0L703.9 1722.7L705.2 1722.4L706.6 1722.1L707.9 1721.8L709.3 1721.5L710.6 1721.2L712.0 1720.9L713.3 1720.6L714.7 1720.3L716.0 1720.0L717.4 1719.7L718.7 1719.4L720.1 1719.1L721.4 1718.8L722.8 1718.5L724.1 1718.2L725.5 1717.9L726.8 1717.6L728.2 1717.3L729.5 1717.0L730.9 1716.7L732.2 1716.4L733.6 1716.1L734.9 1715.8L736.3 1715.5L737.7 1715.2L739.0 1714.9L740.4 1714.6L741.7 1714.3L743.1 1714.0L744.4 1713.7L745.8 1713.4L747.1 1713.2L748.5 1712.9L749.8 1712.6L751.2 1712.3L752.5 1712.0L753.9 1711.7L755.2 1711.4L756.6 1711.1L757.9 1710.8L759.3 1710.5L760.6 1710.2L762.0 1709.9L763.3 1709.6L764.7 1709.4L766.0 1709.1L767.4 1708.8L768.7 1708.5L770.1 1708.2L771.5 1707.9L772.8 1707.6L774.2 1707.3L775.5 1707.0L776.9 1706.7L778.2 1706.4L779.6 1706.1L780.9 1705.8L782.3 1705.5L783.6 1705.2L785.0 1704.9L786.3 1704.6L787.7 1704.3L789.0 1704.0L790.4 1703.7L791.7 1703.4L793.1 1703.1L794.4 1702.8L795.8 1702.5L797.1 1702.2L798.5 1701.9L799.8 1701.6L801.2 1701.3L802.5 1701.0L803.9 1700.7L805.3 1700.4L806.6 1700.1L808.0 1699.8L809.3 1699.5L810.7 1699.2L812.0 1698.9L813.4 1698.6L814.7 1698.3L816.1 1698.0L817.4 1697.7L818.8 1697.4L820.1 1697.1L821.5 1696.8L822.8 1696.5L824.2 1696.2L825.5 1695.9L826.9 1695.6L828.2 1695.3L829.6 1695.0L830.9 1694.8L832.3 1694.5L833.6 1694.2L835.0 1693.9L836.3 1693.6L837.7 1693.3L839.1 1693.0L840.4 1692.7L841.8 1692.5L843.1 1692.2L844.5 1691.9L845.8 1691.6L847.2 1691.3L848.5 1691.1L849.9 1690.8L851.2 1690.5L852.6 1690.3L853.9 1690.0L855.3 1689.7L856.6 1689.5L858.0 1689.2L859.3 1688.9L860.7 1688.7L862.0 1688.4L863.4 1688.2L864.7 1687.9L866.1 1687.7L867.4 1687.4L868.8 1687.2L870.1 1686.9L871.5 1686.7L872.9 1686.4L874.2 1686.2L875.6 1686.0L876.9 1685.7L878.3 1685.5L879.6 1685.3L881.0 1685.0L882.3 1684.8L883.7 1684.6L885.0 1684.4L886.4 1684.1L887.7 1683.9L889.1 1683.7L890.4 1683.5L891.8 1683.3L893.1 1683.1L894.5 1682.8L895.8 1682.6L897.2 1682.4L898.5 1682.2L899.9 1682.0L901.2 1681.8L902.6 1681.6L903.9 1681.4L905.3 1681.2L906.7 1681.0L908.0 1680.8L909.4 1680.6L910.7 1680.4L912.1 1680.2L913.4 1680.0L914.8 1679.8L916.1 1679.6L917.5 1679.4L918.8 1679.2L920.2 1679.0L921.5 1678.8L922.9 1678.6L924.2 1678.4L925.6 1678.2L926.9 1678.0L928.3 1677.8L929.6 1677.6L931.0 1677.4L932.3 1677.2L933.7 1677.0L935.0 1676.9L936.4 1676.7L937.7 1676.5L939.1 1676.3L940.5 1676.1L941.8 1675.9L943.2 1675.7L944.5 1675.5L945.9 1675.3L947.2 1675.1L948.6 1675.0L949.9 1674.8L951.3 1674.6L952.6 1674.4L954.0 1674.2L955.3 1674.0L956.7 1673.8L958.0 1673.6L959.4 1673.4L960.7 1673.3L962.1 1673.1L963.4 1672.9L964.8 1672.7L966.1 1672.5L967.5 1672.3L968.8 1672.1L970.2 1671.9L971.5 1671.7L972.9 1671.5L974.3 1671.3L975.6 1671.2L977.0 1671.0L978.3 1670.8L979.7 1670.6L981.0 1670.4L982.4 1670.2L983.7 1670.0L985.1 1669.8L986.4 1669.6L987.8 1669.4L989.1 1669.2L990.5 1669.1L991.8 1668.9L993.2 1668.7L994.5 1668.5L995.9 1668.3L997.2 1668.1L998.6 1667.9L999.9 1667.7L1001.3 1667.6L1002.6 1667.4L1004.0 1667.2L1005.3 1667.0L1006.7 1666.8L1008.1 1666.6L1009.4 1666.4L1010.8 1666.3L1012.1 1666.1L1013.5 1665.9L1014.8 1665.7L1016.2 1665.5L1017.5 1665.3L1018.9 1665.1L1020.2 1665.0L1021.6 1664.8L1022.9 1664.6L1024.3 1664.4L1025.6 1664.2L1027.0 1664.0L1028.3 1663.8L1029.7 1663.7L1031.0 1663.5L1032.4 1663.3L1033.7 1663.1L1035.1 1662.9L1036.4 1662.7L1037.8 1662.5L1039.1 1662.4L1040.5 1662.2" fill="none" stroke="#1f6fdf" stroke-width="6" stroke-linejoin="round"/><path d="M229.3 2124.3l7.9 13.9h-15.8zM230.7 2124.3l7.9 13.9h-15.8zM232.0 2124.3l7.9 13.9h-15.8zM233.4 2124.3l7.9 13.9h-15.8zM234.7 2124.3l7.9 13.9h-15.8zM236.1 2124.3l7.9 13.9h-15.8zM237.4 2124.3l7.9 13.9h-15.8zM238.8 2124.3l7.9 13.9h-15.8zM240.1 2124.3l7.9 13.9h-15.8zM241.5 2124.3l7.9 13.9h-15.8zM242.8 2124.3l7.9 13.9h-15.8zM244.2 2124.3l7.9 13.9h-15.8zM245.5 2124.3l7.9 13.9h-15.8zM246.9 2124.3l7.9 13.9h-15.8zM248.2 2124.3l7.9 13.9h-15.8zM249.6 2124.3l7.9 13.9h-15.8zM250.9 2124.3l7.9 13.9h-15.8zM252.3 2124.3l7.9 13.9h-15.8zM253.6 2124.3l7.9 13.9h-15.8zM255.0 2124.3l7.9 13.9h-15.8zM256.3 2124.3l7.9 13.9h-15.8zM257.7 2124.3l7.9 13.9h-15.8zM259.0 2124.3l7.9 13.9h-15.8zM260.4 2124.3l7.9 13.9h-15.8zM261.7 2124.3l7.9 13.9h-15.8zM263.1 2124.3l7.9 13.9h-15.8zM264.5 2124.3l7.9 13.9h-15.8zM265.8 2124.3l7.9 13.9h-15.8zM267.2 2124.3l7.9 13.9h-15.8zM268.5 2124.3l7.9 13.9h-15.8zM269.9 2124.3l7.9 13.9h-15.8zM271.2 2124.3l7.9 13.9h-15.8zM272.6 2124.3l7.9 13.9h-15.8zM273.9 2124.3l7.9 13.9h-15.8zM275.3 2124.3l7.9 13.9h-15.8zM276.6 2124.3l7.9 13.9h-15.8zM278.0 2124.3l7.9 13.9h-15.8zM279.3 2124.3l7.9 13.9h-15.8zM280.7 2124.3l7.9 13.9h-15.8zM282.0 2124.3l7.9 13.9h-15.8zM283.4 2124.3l7.9 13.9h-15.8zM284.7 2124.3l7.9 13.9h-15.8zM286.1 2124.3l7.9 13.9h-15.8zM287.4 2124.3l7.9 13.9h-15.8zM288.8 2124.3l7.9 13.9h-15.8zM290.1 2124.3l7.9 13.9h-15.8zM291.5 2124.3l7.9 13.9h-15.8zM292.8 2124.3l7.9 13.9h-15.8zM294.2 2124.3l7.9 13.9h-15.8zM295.5 2124.3l7.9 13.9h-15.8zM296.9 2124.3l7.9 13.9h-15.8zM298.3 2124.3l7.9 13.9h-15.8zM299.6 2124.3l7.9 13.9h-15.8zM301.0 2124.3l7.9 13.9h-15.8zM302.3 2124.3l7.9 13.9h-15.8zM303.7 2124.3l7.9 13.9h-15.8zM305.0 2124.3l7.9 13.9h-15.8zM306.4 2124.3l7.9 13.9h-15.8zM307.7 2124.3l7.9 13.9h-15.8zM309.1 2124.3l7.9 13.9h-15.8zM310.4 2124.3l7.9 13.9h-15.8zM311.8 2124.3l7.9 13.9h-15.8zM313.1 2124.3l7.9 13.9h-15.8zM314.5 2124.3l7.9 13.9h-15.8zM315.8 2124.3l7.9 13.9h-15.8zM317.2 2124.3l7.9 13.9h-15.8zM318.5 2124.3l7.9 13.9h-15.8zM319.9 2124.3l7.9 13.9h-15.8zM321.2 2124.3l7.9 13.9h-15.8zM322.6 2124.3l7.9 13.9h-15.8zM323.9 2124.3l7.9 13.9h-15.8zM325.3 2124.3l7.9 13.9h-15.8zM326.6 2124.3l7.9 13.9h-15.8zM328.0 2124.3l7.9 13.9h-15.8zM329.3 2124.3l7.9 13.9h-15.8zM330.7 2124.3l7.9 13.9h-15.8zM332.1 2124.3l7.9 13.9h-15.8zM333.4 2124.3l7.9 13.9h-15.8zM334.8 2124.3l7.9 13.9h-15.8zM336.1 2124.3l7.9 13.9h-15.8zM337.5 2124.3l7.9 13.9h-15.8zM338.8 2124.3l7.9 13.9h-15.8zM340.2 2124.3l7.9 13.9h-15.8zM341.5 2124.3l7.9 13.9h-15.8zM342.9 2124.3l7.9 13.9h-15.8zM344.2 2124.0l7.9 13.9h-15.8zM345.6 2123.3l7.9 13.9h-15.8zM346.9 2122.2l7.9 13.9h-15.8zM348.3 2121.1l7.9 13.9h-15.8zM349.6 2119.8l7.9 13.9h-15.8zM351.0 2118.1l7.9 13.9h-15.8zM352.3 2116.2l7.9 13.9h-15.8zM353.7 2114.2l7.9 13.9h-15.8zM355.0 2112.0l7.9 13.9h-15.8zM356.4 2109.5l7.9 13.9h-15.8zM357.7 2106.8l7.9 13.9h-15.8zM359.1 2104.0l7.9 13.9h-15.8zM360.4 2101.0l7.9 13.9h-15.8zM361.8 2097.9l7.9 13.9h-15.8zM363.1 2094.6l7.9 13.9h-15.8zM364.5 2091.1l7.9 13.9h-15.8zM365.9 2087.4l7.9 13.9h-15.8zM367.2 2083.5l7.9 13.9h-15.8zM368.6 2079.5l7.9 13.9h-15.8zM369.9 2075.5l7.9 13.9h-15.8zM371.3 2071.4l7.9 13.9h-15.8zM372.6 2067.2l7.9 13.9h-15.8zM374.0 2062.8l7.9 13.9h-15.8zM375.3 2058.4l7.9 13.9h-15.8zM376.7 2053.8l7.9 13.9h-15.8zM378.0 2049.0l7.9 13.9h-15.8zM379.4 2044.0l7.9 13.9h-15.8zM380.7 2038.8l7.9 13.9h-15.8zM382.1 2033.4l7.9 13.9h-15.8zM383.4 2027.9l7.9 13.9h-15.8zM384.8 2022.5l7.9 13.9h-15.8zM386.1 2017.2l7.9 13.9h-15.8zM387.5 2011.7l7.9 13.9h-15.8zM388.8 2006.3l7.9 13.9h-15.8zM390.2 2000.9l7.9 13.9h-15.8zM391.5 1995.4l7.9 13.9h-15.8zM392.9 1989.9l7.9 13.9h-15.8zM394.2 1984.5l7.9 13.9h-15.8zM395.6 1978.9l7.9 13.9h-15.8zM396.9 1973.4l7.9 13.9h-15.8zM398.3 1967.9l7.9 13.9h-15.8zM399.7 1962.3l7.9 13.9h-15.8zM401.0 1956.8l7.9 13.9h-15.8zM402.4 1951.2l7.9 13.9h-15.8zM403.7 1945.7l7.9 13.9h-15.8zM405.1 1940.1l7.9 13.9h-15.8zM406.4 1934.6l7.9 13.9h-15.8zM407.8 1929.0l7.9 13.9h-15.8zM409.1 1923.5l7.9 13.9h-15.8zM410.5 1918.0l7.9 13.9h-15.8zM411.8 1912.6l7.9 13.9h-15.8zM413.2 1907.1l7.9 13.9h-15.8zM414.5 1901.7l7.9 13.9h-15.8zM415.9 1896.2l7.9 13.9h-15.8zM417.2 1890.9l7.9 13.9h-15.8zM418.6 1885.6l7.9 13.9h-15.8zM419.9 1880.6l7.9 13.9h-15.8zM421.3 1875.9l7.9 13.9h-15.8zM422.6 1871.3l7.9 13.9h-15.8zM424.0 1866.9l7.9 13.9h-15.8zM425.3 1862.5l7.9 13.9h-15.8zM426.7 1858.4l7.9 13.9h-15.8zM428.0 1854.4l7.9 13.9h-15.8zM429.4 1850.7l7.9 13.9h-15.8zM430.7 1847.4l7.9 13.9h-15.8zM432.1 1844.3l7.9 13.9h-15.8zM433.5 1841.3l7.9 13.9h-15.8zM434.8 1838.5l7.9 13.9h-15.8zM436.2 1835.8l7.9 13.9h-15.8zM437.5 1833.4l7.9 13.9h-15.8zM438.9 1831.1l7.9 13.9h-15.8zM440.2 1829.1l7.9 13.9h-15.8zM441.6 1827.2l7.9 13.9h-15.8zM442.9 1825.5l7.9 13.9h-15.8zM444.3 1823.9l7.9 13.9h-15.8zM445.6 1822.4l7.9 13.9h-15.8zM447.0 1820.9l7.9 13.9h-15.8zM448.3 1819.6l7.9 13.9h-15.8zM449.7 1818.2l7.9 13.9h-15.8zM451.0 1816.8l7.9 13.9h-15.8zM452.4 1815.5l7.9 13.9h-15.8zM453.7 1814.1l7.9 13.9h-15.8zM455.1 1812.8l7.9 13.9h-15.8zM456.4 1811.5l7.9 13.9h-15.8zM457.8 1810.3l7.9 13.9h-15.8zM459.1 1809.1l7.9 13.9h-15.8zM460.5 1808.0l7.9 13.9h-15.8zM461.8 1807.0l7.9 13.9h-15.8zM463.2 1806.0l7.9 13.9h-15.8zM464.5 1805.1l7.9 13.9h-15.8zM465.9 1804.2l7.9 13.9h-15.8zM467.3 1803.3l7.9 13.9h-15.8zM468.6 1802.5l7.9 13.9h-15.8zM470.0 1801.7l7.9 13.9h-15.8zM471.3 1800.9l7.9 13.9h-15.8zM472.7 1800.1l7.9 13.9h-15.8zM474.0 1799.4l7.9 13.9h-15.8zM475.4 1798.7l7.9 13.9h-15.8zM476.7 1797.9l7.9 13.9h-15.8zM478.1 1797.2l7.9 13.9h-15.8zM479.4 1796.5l7.9 13.9h-15.8zM480.8 1795.8l7.9 13.9h-15.8zM482.1 1795.1l7.9 13.9h-15.8zM483.5 1794.4l7.9 13.9h-15.8zM484.8 1793.7l7.9 13.9h-15.8zM486.2 1793.0l7.9 13.9h-15.8zM487.5 1792.3l7.9 13.9h-15.8zM488.9 1791.6l7.9 13.9h-15.8zM490.2 1790.8l7.9 13.9h-15.8zM491.6 1790.1l7.9 13.9h-15.8zM492.9 1789.4l7.9 13.9h-15.8zM494.3 1788.6l7.9 13.9h-15.8zM495.6 1787.9l7.9 13.9h-15.8zM497.0 1787.2l7.9 13.9h-15.8zM498.3 1786.5l7.9 13.9h-15.8zM499.7 1785.7l7.9 13.9h-15.8zM501.1 1785.0l7.9 13.9h-15.8zM502.4 1784.3l7.9 13.9h-15.8zM503.8 1783.6l7.9 13.9h-15.8zM505.1 1782.9l7.9 13.9h-15.8zM506.5 1782.2l7.9 13.9h-15.8zM507.8 1781.5l7.9 13.9h-15.8zM509.2 1780.8l7.9 13.9h-15.8zM510.5 1780.1l7.9 13.9h-15.8zM511.9 1779.5l7.9 13.9h-15.8zM513.2 1778.8l7.9 13.9h-15.8zM514.6 1778.1l7.9 13.9h-15.8zM515.9 1777.4l7.9 13.9h-15.8zM517.3 1776.7l7.9 13.9h-15.8zM518.6 1776.0l7.9 13.9h-15.8zM520.0 1775.4l7.9 13.9h-15.8zM521.3 1774.7l7.9 13.9h-15.8zM522.7 1774.0l7.9 13.9h-15.8zM524.0 1773.3l7.9 13.9h-15.8zM525.4 1772.7l7.9 13.9h-15.8zM526.7 1772.0l7.9 13.9h-15.8zM528.1 1771.3l7.9 13.9h-15.8zM529.4 1770.7l7.9 13.9h-15.8zM530.8 1770.0l7.9 13.9h-15.8zM532.1 1769.4l7.9 13.9h-15.8zM533.5 1768.7l7.9 13.9h-15.8zM534.9 1768.1l7.9 13.9h-15.8zM536.2 1767.4l7.9 13.9h-15.8zM537.6 1766.8l7.9 13.9h-15.8zM538.9 1766.1l7.9 13.9h-15.8zM540.3 1765.5l7.9 13.9h-15.8zM541.6 1764.9l7.9 13.9h-15.8zM543.0 1764.3l7.9 13.9h-15.8zM544.3 1763.6l7.9 13.9h-15.8zM545.7 1763.0l7.9 13.9h-15.8zM547.0 1762.4l7.9 13.9h-15.8zM548.4 1761.8l7.9 13.9h-15.8zM549.7 1761.2l7.9 13.9h-15.8zM551.1 1760.6l7.9 13.9h-15.8zM552.4 1760.0l7.9 13.9h-15.8zM553.8 1759.5l7.9 13.9h-15.8zM555.1 1758.9l7.9 13.9h-15.8zM556.5 1758.3l7.9 13.9h-15.8zM557.8 1757.7l7.9 13.9h-15.8zM559.2 1757.1l7.9 13.9h-15.8zM560.5 1756.6l7.9 13.9h-15.8zM561.9 1756.0l7.9 13.9h-15.8zM563.2 1755.4l7.9 13.9h-15.8zM564.6 1754.9l7.9 13.9h-15.8zM565.9 1754.3l7.9 13.9h-15.8zM567.3 1753.7l7.9 13.9h-15.8zM568.7 1753.2l7.9 13.9h-15.8zM570.0 1752.6l7.9 13.9h-15.8zM571.4 1752.1l7.9 13.9h-15.8zM572.7 1751.5l7.9 13.9h-15.8zM574.1 1751.0l7.9 13.9h-15.8zM575.4 1750.5l7.9 13.9h-15.8zM576.8 1749.9l7.9 13.9h-15.8zM578.1 1749.4l7.9 13.9h-15.8zM579.5 1748.9l7.9 13.9h-15.8zM580.8 1748.4l7.9 13.9h-15.8zM582.2 1747.9l7.9 13.9h-15.8zM583.5 1747.4l7.9 13.9h-15.8zM584.9 1746.9l7.9 13.9h-15.8zM586.2 1746.4l7.9 13.9h-15.8zM587.6 1745.9l7.9 13.9h-15.8zM588.9 1745.4l7.9 13.9h-15.8zM590.3 1744.9l7.9 13.9h-15.8zM591.6 1744.4l7.9 13.9h-15.8zM593.0 1744.0l7.9 13.9h-15.8zM594.3 1743.5l7.9 13.9h-15.8zM595.7 1743.1l7.9 13.9h-15.8zM597.0 1742.6l7.9 13.9h-15.8zM598.4 1742.2l7.9 13.9h-15.8zM599.7 1741.8l7.9 13.9h-15.8zM601.1 1741.3l7.9 13.9h-15.8zM602.5 1740.9l7.9 13.9h-15.8zM603.8 1740.5l7.9 13.9h-15.8zM605.2 1740.1l7.9 13.9h-15.8zM606.5 1739.7l7.9 13.9h-15.8zM607.9 1739.3l7.9 13.9h-15.8zM609.2 1738.9l7.9 13.9h-15.8zM610.6 1738.5l7.9 13.9h-15.8zM611.9 1738.1l7.9 13.9h-15.8zM613.3 1737.7l7.9 13.9h-15.8zM614.6 1737.3l7.9 13.9h-15.8zM616.0 1736.9l7.9 13.9h-15.8zM617.3 1736.6l7.9 13.9h-15.8zM618.7 1736.2l7.9 13.9h-15.8zM620.0 1735.8l7.9 13.9h-15.8zM621.4 1735.4l7.9 13.9h-15.8zM622.7 1735.1l7.9 13.9h-15.8zM624.1 1734.7l7.9 13.9h-15.8zM625.4 1734.3l7.9 13.9h-15.8zM626.8 1733.9l7.9 13.9h-15.8zM628.1 1733.6l7.9 13.9h-15.8zM629.5 1733.2l7.9 13.9h-15.8zM630.8 1732.8l7.9 13.9h-15.8zM632.2 1732.5l7.9 13.9h-15.8zM633.5 1732.1l7.9 13.9h-15.8zM634.9 1731.7l7.9 13.9h-15.8zM636.3 1731.3l7.9 13.9h-15.8zM637.6 1731.0l7.9 13.9h-15.8zM639.0 1730.6l7.9 13.9h-15.8zM640.3 1730.2l7.9 13.9h-15.8zM641.7 1729.9l7.9 13.9h-15.8zM643.0 1729.5l7.9 13.9h-15.8zM644.4 1729.1l7.9 13.9h-15.8zM645.7 1728.8l7.9 13.9h-15.8zM647.1 1728.4l7.9 13.9h-15.8zM648.4 1728.0l7.9 13.9h-15.8zM649.8 1727.7l7.9 13.9h-15.8zM651.1 1727.3l7.9 13.9h-15.8zM652.5 1727.0l7.9 13.9h-15.8zM653.8 1726.6l7.9 13.9h-15.8zM655.2 1726.3l7.9 13.9h-15.8zM656.5 1725.9l7.9 13.9h-15.8zM657.9 1725.6l7.9 13.9h-15.8zM659.2 1725.2l7.9 13.9h-15.8zM660.6 1724.9l7.9 13.9h-15.8zM661.9 1724.5l7.9 13.9h-15.8zM663.3 1724.2l7.9 13.9h-15.8zM664.6 1723.8l7.9 13.9h-15.8zM666.0 1723.5l7.9 13.9h-15.8zM667.3 1723.1l7.9 13.9h-15.8zM668.7 1722.8l7.9 13.9h-15.8zM670.1 1722.5l7.9 13.9h-15.8zM671.4 1722.1l7.9 13.9h-15.8zM672.8 1721.8l7.9 13.9h-15.8zM674.1 1721.5l7.9 13.9h-15.8zM675.5 1721.1l7.9 13.9h-15.8zM676.8 1720.8l7.9 13.9h-15.8zM678.2 1720.5l7.9 13.9h-15.8zM679.5 1720.1l7.9 13.9h-15.8zM680.9 1719.8l7.9 13.9h-15.8zM682.2 1719.5l7.9 13.9h-15.8zM683.6 1719.2l7.9 13.9h-15.8zM684.9 1718.8l7.9 13.9h-15.8zM686.3 1718.5l7.9 13.9h-15.8zM687.6 1718.2l7.9 13.9h-15.8zM689.0 1717.9l7.9 13.9h-15.8zM690.3 1717.6l7.9 13.9h-15.8zM691.7 1717.3l7.9 13.9h-15.8zM693.0 1717.0l7.9 13.9h-15.8zM694.4 1716.6l7.9 13.9h-15.8zM695.7 1716.3l7.9 13.9h-15.8zM697.1 1716.0l7.9 13.9h-15.8zM698.4 1715.7l7.9 13.9h-15.8zM699.8 1715.4l7.9 13.9h-15.8zM701.1 1715.1l7.9 13.9h-15.8zM702.5 1714.8l7.9 13.9h-15.8zM703.9 1714.5l7.9 13.9h-15.8zM705.2 1714.2l7.9 13.9h-15.8zM706.6 1713.9l7.9 13.9h-15.8zM707.9 1713.6l7.9 13.9h-15.8zM709.3 1713.3l7.9 13.9h-15.8zM710.6 1713.0l7.9 13.9h-15.8zM712.0 1712.7l7.9 13.9h-15.8zM713.3 1712.4l7.9 13.9h-15.8zM714.7 1712.1l7.9 13.9h-15.8zM716.0 1711.8l7.9 13.9h-15.8zM717.4 1711.5l7.9 13.9h-15.8zM718.7 1711.1l7.9 13.9h-15.8zM720.1 1710.8l7.9 13.9h-15.8zM721.4 1710.5l7.9 13.9h-15.8zM722.8 1710.2l7.9 13.9h-15.8zM724.1 1709.9l7.9 13.9h-15.8zM725.5 1709.6l7.9 13.9h-15.8zM726.8 1709.3l7.9 13.9h-15.8zM728.2 1709.0l7.9 13.9h-15.8zM729.5 1708.7l7.9 13.9h-15.8zM730.9 1708.4l7.9 13.9h-15.8zM732.2 1708.1l7.9 13.9h-15.8zM733.6 1707.9l7.9 13.9h-15.8zM734.9 1707.6l7.9 13.9h-15.8zM736.3 1707.3l7.9 13.9h-15.8zM737.7 1707.0l7.9 13.9h-15.8zM739.0 1706.7l7.9 13.9h-15.8zM740.4 1706.4l7.9 13.9h-15.8zM741.7 1706.1l7.9 13.9h-15.8zM743.1 1705.8l7.9 13.9h-15.8zM744.4 1705.5l7.9 13.9h-15.8zM745.8 1705.2l7.9 13.9h-15.8zM747.1 1704.9l7.9 13.9h-15.8zM748.5 1704.6l7.9 13.9h-15.8zM749.8 1704.3l7.9 13.9h-15.8zM751.2 1704.0l7.9 13.9h-15.8zM752.5 1703.7l7.9 13.9h-15.8zM753.9 1703.4l7.9 13.9h-15.8zM755.2 1703.1l7.9 13.9h-15.8zM756.6 1702.9l7.9 13.9h-15.8zM757.9 1702.6l7.9 13.9h-15.8zM759.3 1702.3l7.9 13.9h-15.8zM760.6 1702.0l7.9 13.9h-15.8zM762.0 1701.7l7.9 13.9h-15.8zM763.3 1701.4l7.9 13.9h-15.8zM764.7 1701.1l7.9 13.9h-15.8zM766.0 1700.8l7.9 13.9h-15.8zM767.4 1700.5l7.9 13.9h-15.8zM768.7 1700.2l7.9 13.9h-15.8zM770.1 1699.9l7.9 13.9h-15.8zM771.5 1699.7l7.9 13.9h-15.8zM772.8 1699.4l7.9 13.9h-15.8zM774.2 1699.1l7.9 13.9h-15.8zM775.5 1698.8l7.9 13.9h-15.8zM776.9 1698.5l7.9 13.9h-15.8zM778.2 1698.2l7.9 13.9h-15.8zM779.6 1697.9l7.9 13.9h-15.8zM780.9 1697.6l7.9 13.9h-15.8zM782.3 1697.3l7.9 13.9h-15.8zM783.6 1697.0l7.9 13.9h-15.8zM785.0 1696.7l7.9 13.9h-15.8zM786.3 1696.4l7.9 13.9h-15.8zM787.7 1696.1l7.9 13.9h-15.8zM789.0 1695.8l7.9 13.9h-15.8zM790.4 1695.5l7.9 13.9h-15.8zM791.7 1695.2l7.9 13.9h-15.8zM793.1 1694.9l7.9 13.9h-15.8zM794.4 1694.6l7.9 13.9h-15.8zM795.8 1694.3l7.9 13.9h-15.8zM797.1 1694.0l7.9 13.9h-15.8zM798.5 1693.7l7.9 13.9h-15.8zM799.8 1693.4l7.9 13.9h-15.8zM801.2 1693.1l7.9 13.9h-15.8zM802.5 1692.8l7.9 13.9h-15.8zM803.9 1692.5l7.9 13.9h-15.8zM805.3 1692.2l7.9 13.9h-15.8zM806.6 1691.9l7.9 13.9h-15.8zM808.0 1691.6l7.9 13.9h-15.8zM809.3 1691.3l7.9 13.9h-15.8zM810.7 1691.0l7.9 13.9h-15.8zM812.0 1690.7l7.9 13.9h-15.8zM813.4 1690.4l7.9 13.9h-15.8zM814.7 1690.1l7.9 13.9h-15.8zM816.1 1689.8l7.9 13.9h-15.8zM817.4 1689.5l7.9 13.9h-15.8zM818.8 1689.2l7.9 13.9h-15.8zM820.1 1688.9l7.9 13.9h-15.8zM821.5 1688.6l7.9 13.9h-15.8zM822.8 1688.3l7.9 13.9h-15.8zM824.2 1688.0l7.9 13.9h-15.8zM825.5 1687.7l7.9 13.9h-15.8zM826.9 1687.4l7.9 13.9h-15.8zM828.2 1687.1l7.9 13.9h-15.8zM829.6 1686.8l7.9 13.9h-15.8zM830.9 1686.5l7.9 13.9h-15.8zM832.3 1686.2l7.9 13.9h-15.8zM833.6 1685.9l7.9 13.9h-15.8zM835.0 1685.6l7.9 13.9h-15.8zM836.3 1685.3l7.9 13.9h-15.8zM837.7 1685.1l7.9 13.9h-15.8zM839.1 1684.8l7.9 13.9h-15.8zM840.4 1684.5l7.9 13.9h-15.8zM841.8 1684.2l7.9 13.9h-15.8zM843.1 1683.9l7.9 13.9h-15.8zM844.5 1683.6l7.9 13.9h-15.8zM845.8 1683.4l7.9 13.9h-15.8zM847.2 1683.1l7.9 13.9h-15.8zM848.5 1682.8l7.9 13.9h-15.8zM849.9 1682.5l7.9 13.9h-15.8zM851.2 1682.3l7.9 13.9h-15.8zM852.6 1682.0l7.9 13.9h-15.8zM853.9 1681.7l7.9 13.9h-15.8zM855.3 1681.5l7.9 13.9h-15.8zM856.6 1681.2l7.9 13.9h-15.8zM858.0 1680.9l7.9 13.9h-15.8zM859.3 1680.7l7.9 13.9h-15.8zM860.7 1680.4l7.9 13.9h-15.8zM862.0 1680.2l7.9 13.9h-15.8zM863.4 1679.9l7.9 13.9h-15.8zM864.7 1679.7l7.9 13.9h-15.8zM866.1 1679.4l7.9 13.9h-15.8zM867.4 1679.2l7.9 13.9h-15.8zM868.8 1678.9l7.9 13.9h-15.8zM870.1 1678.7l7.9 13.9h-15.8zM871.5 1678.4l7.9 13.9h-15.8zM872.9 1678.2l7.9 13.9h-15.8zM874.2 1677.9l7.9 13.9h-15.8zM875.6 1677.7l7.9 13.9h-15.8zM876.9 1677.5l7.9 13.9h-15.8zM878.3 1677.3l7.9 13.9h-15.8zM879.6 1677.0l7.9 13.9h-15.8zM881.0 1676.8l7.9 13.9h-15.8zM882.3 1676.6l7.9 13.9h-15.8zM883.7 1676.3l7.9 13.9h-15.8zM885.0 1676.1l7.9 13.9h-15.8zM886.4 1675.9l7.9 13.9h-15.8zM887.7 1675.7l7.9 13.9h-15.8zM889.1 1675.5l7.9 13.9h-15.8zM890.4 1675.2l7.9 13.9h-15.8zM891.8 1675.0l7.9 13.9h-15.8zM893.1 1674.8l7.9 13.9h-15.8zM894.5 1674.6l7.9 13.9h-15.8zM895.8 1674.4l7.9 13.9h-15.8zM897.2 1674.2l7.9 13.9h-15.8zM898.5 1674.0l7.9 13.9h-15.8zM899.9 1673.7l7.9 13.9h-15.8zM901.2 1673.5l7.9 13.9h-15.8zM902.6 1673.3l7.9 13.9h-15.8zM903.9 1673.1l7.9 13.9h-15.8zM905.3 1672.9l7.9 13.9h-15.8zM906.7 1672.7l7.9 13.9h-15.8zM908.0 1672.5l7.9 13.9h-15.8zM909.4 1672.3l7.9 13.9h-15.8zM910.7 1672.1l7.9 13.9h-15.8zM912.1 1671.9l7.9 13.9h-15.8zM913.4 1671.7l7.9 13.9h-15.8zM914.8 1671.5l7.9 13.9h-15.8zM916.1 1671.3l7.9 13.9h-15.8zM917.5 1671.1l7.9 13.9h-15.8zM918.8 1670.9l7.9 13.9h-15.8zM920.2 1670.7l7.9 13.9h-15.8zM921.5 1670.5l7.9 13.9h-15.8zM922.9 1670.3l7.9 13.9h-15.8zM924.2 1670.1l7.9 13.9h-15.8zM925.6 1669.9l7.9 13.9h-15.8zM926.9 1669.8l7.9 13.9h-15.8zM928.3 1669.6l7.9 13.9h-15.8zM929.6 1669.4l7.9 13.9h-15.8zM931.0 1669.2l7.9 13.9h-15.8zM932.3 1669.0l7.9 13.9h-15.8zM933.7 1668.8l7.9 13.9h-15.8zM935.0 1668.6l7.9 13.9h-15.8zM936.4 1668.4l7.9 13.9h-15.8zM937.7 1668.2l7.9 13.9h-15.8zM939.1 1668.0l7.9 13.9h-15.8zM940.5 1667.8l7.9 13.9h-15.8zM941.8 1667.7l7.9 13.9h-15.8zM943.2 1667.5l7.9 13.9h-15.8zM944.5 1667.3l7.9 13.9h-15.8zM945.9 1667.1l7.9 13.9h-15.8zM947.2 1666.9l7.9 13.9h-15.8zM948.6 1666.7l7.9 13.9h-15.8zM949.9 1666.5l7.9 13.9h-15.8zM951.3 1666.3l7.9 13.9h-15.8zM952.6 1666.1l7.9 13.9h-15.8zM954.0 1666.0l7.9 13.9h-15.8zM955.3 1665.8l7.9 13.9h-15.8zM956.7 1665.6l7.9 13.9h-15.8zM958.0 1665.4l7.9 13.9h-15.8zM959.4 1665.2l7.9 13.9h-15.8zM960.7 1665.0l7.9 13.9h-15.8zM962.1 1664.8l7.9 13.9h-15.8zM963.4 1664.6l7.9 13.9h-15.8zM964.8 1664.4l7.9 13.9h-15.8zM966.1 1664.2l7.9 13.9h-15.8zM967.5 1664.1l7.9 13.9h-15.8zM968.8 1663.9l7.9 13.9h-15.8zM970.2 1663.7l7.9 13.9h-15.8zM971.5 1663.5l7.9 13.9h-15.8zM972.9 1663.3l7.9 13.9h-15.8zM974.3 1663.1l7.9 13.9h-15.8zM975.6 1662.9l7.9 13.9h-15.8zM977.0 1662.7l7.9 13.9h-15.8zM978.3 1662.5l7.9 13.9h-15.8zM979.7 1662.3l7.9 13.9h-15.8zM981.0 1662.1l7.9 13.9h-15.8zM982.4 1661.9l7.9 13.9h-15.8zM983.7 1661.8l7.9 13.9h-15.8zM985.1 1661.6l7.9 13.9h-15.8zM986.4 1661.4l7.9 13.9h-15.8zM987.8 1661.2l7.9 13.9h-15.8zM989.1 1661.0l7.9 13.9h-15.8zM990.5 1660.8l7.9 13.9h-15.8zM991.8 1660.6l7.9 13.9h-15.8zM993.2 1660.4l7.9 13.9h-15.8zM994.5 1660.2l7.9 13.9h-15.8zM995.9 1660.1l7.9 13.9h-15.8zM997.2 1659.9l7.9 13.9h-15.8zM998.6 1659.7l7.9 13.9h-15.8zM999.9 1659.5l7.9 13.9h-15.8zM1001.3 1659.3l7.9 13.9h-15.8zM1002.6 1659.1l7.9 13.9h-15.8zM1004.0 1658.9l7.9 13.9h-15.8zM1005.3 1658.8l7.9 13.9h-15.8zM1006.7 1658.6l7.9 13.9h-15.8zM1008.1 1658.4l7.9 13.9h-15.8zM1009.4 1658.2l7.9 13.9h-15.8zM1010.8 1658.0l7.9 13.9h-15.8zM1012.1 1657.8l7.9 13.9h-15.8zM1013.5 1657.6l7.9 13.9h-15.8zM1014.8 1657.5l7.9 13.9h-15.8zM1016.2 1657.3l7.9 13.9h-15.8zM1017.5 1657.1l7.9 13.9h-15.8zM1018.9 1656.9l7.9 13.9h-15.8zM1020.2 1656.7l7.9 13.9h-15.8zM1021.6 1656.5l7.9 13.9h-15.8zM1022.9 1656.3l7.9 13.9h-15.8zM1024.3 1656.2l7.9 13.9h-15.8zM1025.6 1656.0l7.9 13.9h-15.8zM1027.0 1655.8l7.9 13.9h-15.8zM1028.3 1655.6l7.9 13.9h-15.8zM1029.7 1655.4l7.9 13.9h-15.8zM1031.0 1655.2l7.9 13.9h-15.8zM1032.4 1655.0l7.9 13.9h-15.8zM1033.7 1654.9l7.9 13.9h-15.8zM1035.1 1654.7l7.9 13.9h-15.8zM1036.4 1654.5l7.9 13.9h-15.8zM1037.8 1654.3l7.9 13.9h-15.8zM1039.1 1654.1l7.9 13.9h-15.8zM1040.5 1653.9l7.9 13.9h-15.8z" fill="#1f6fdf"/></g>
<rect x="228.75" y="1564.7" width="813.25" height="649.3" fill="none" stroke="#1e1e1e" stroke-width="4"/>
<line x1="228.75" y1="2132.60" x2="240.75" y2="2132.60" stroke="#1e1e1e" stroke-width="4"/>
<line x1="228.75" y1="2010.41" x2="240.75" y2="2010.41" stroke="#1e1e1e" stroke-width="4"/>
<line x1="228.75" y1="1888.22" x2="240.75" y2="1888.22" stroke="#1e1e1e" stroke-width="4"/>
<line x1="228.75" y1="1766.03" x2="240.75" y2="1766.03" stroke="#1e1e1e" stroke-width="4"/>
<line x1="228.75" y1="1643.84" x2="240.75" y2="1643.84" stroke="#1e1e1e" stroke-width="4"/>
<line x1="364.50" y1="2214" x2="364.50" y2="2202" stroke="#1e1e1e" stroke-width="4"/>
<line x1="499.70" y1="2214" x2="499.70" y2="2202" stroke="#1e1e1e" stroke-width="4"/>
<line x1="634.90" y1="2214" x2="634.90" y2="2202" stroke="#1e1e1e" stroke-width="4"/>
<line x1="770.10" y1="2214" x2="770.10" y2="2202" stroke="#1e1e1e" stroke-width="4"/>
<line x1="905.30" y1="2214" x2="905.30" y2="2202" stroke="#1e1e1e" stroke-width="4"/>
<text transform="translate(213.00,2151.60)" font-size="57" text-anchor="end" fill="#000" >0</text>
<text transform="translate(213.00,2029.41)" font-size="57" text-anchor="end" fill="#000" >30</text>
<text transform="translate(213.00,1907.22)" font-size="57" text-anchor="end" fill="#000" >60</text>
<text transform="translate(213.00,1785.03)" font-size="57" text-anchor="end" fill="#000" >90</text>
<text transform="translate(213.00,1662.84)" font-size="57" text-anchor="end" fill="#000" >120</text>
<text transform="translate(229.30,2272.50)" font-size="56" text-anchor="middle" fill="#000" >0</text>
<text transform="translate(364.50,2272.50)" font-size="56" text-anchor="middle" fill="#000" >100</text>
<text transform="translate(499.70,2272.50)" font-size="56" text-anchor="middle" fill="#000" >200</text>
<text transform="translate(634.90,2272.50)" font-size="56" text-anchor="middle" fill="#000" >300</text>
<text transform="translate(770.10,2272.50)" font-size="56" text-anchor="middle" fill="#000" >400</text>
<text transform="translate(905.30,2272.50)" font-size="56" text-anchor="middle" fill="#000" >500</text>
<text transform="translate(1040.50,2272.50)" font-size="56" text-anchor="middle" fill="#000" >600</text>
<text transform="translate(634.40,2335.50)" font-size="56" text-anchor="middle" fill="#000" >Time (s)</text>
<text transform="translate(132.00,1890.00) rotate(-90)" font-size="55" text-anchor="middle" fill="#000" >THR (MJ/m<tspan font-size="37" dy="-20">2</tspan><tspan dy="20">)</tspan></text>
<text transform="translate(70.00,1614.00)" font-size="68" text-anchor="middle" fill="#000" >(e)</text>
<rect x="598" y="1788.5" width="435.5" height="176.5" fill="#000"/>
<rect x="589" y="1778.5" width="435.5" height="176.5" fill="#fff" stroke="#b8b8b8" stroke-width="2"/>
<line x1="592" y1="1807.5" x2="690" y2="1807.5" stroke="#4a4a4a" stroke-width="4.5" opacity="0.9"/>
<rect x="633.5" y="1801.0" width="13" height="13" fill="#4a4a4a"/>
<text transform="translate(704.00,1821.69)" font-size="43" text-anchor="start" fill="#000" >EP-0</text>
<line x1="592" y1="1867" x2="690" y2="1867" stroke="#e0384a" stroke-width="4.5" opacity="0.9"/>
<circle cx="640.0" cy="1867.0" r="6.5" fill="#e0384a"/>
<text transform="translate(704.00,1881.19)" font-size="43" text-anchor="start" fill="#000" >D-Mt-Fe<tspan font-size="27.0" dy="-18.0">3+</tspan><tspan dy="18.0">/EP-5</tspan></text>
<line x1="592" y1="1926" x2="690" y2="1926" stroke="#1f6fdf" stroke-width="4.5" opacity="0.9"/>
<path d="M640.0,1918.8l6.8,12.0h-13.7z" fill="#1f6fdf"/>
<text transform="translate(704.00,1940.19)" font-size="43" text-anchor="start" fill="#000" >D-Mt-Fe<tspan font-size="27.0" dy="-18.0">3+</tspan><tspan dy="18.0">/EP-10</tspan></text>
<clipPath id="cf"><rect x="1248.75" y="1566" width="819.25" height="648.5"/></clipPath>
<g clip-path="url(#cf)"><path d="M1248.8 2155.0L1250.1 2155.0L1251.5 2155.0L1252.8 2155.0L1254.2 2155.0L1255.6 2155.0L1256.9 2155.0L1258.3 2155.0L1259.7 2155.0L1261.0 2155.0L1262.4 2155.0L1263.7 2155.0L1265.1 2155.0L1266.5 2155.0L1267.8 2155.0L1269.2 2155.0L1270.5 2155.0L1271.9 2155.0L1273.3 2155.0L1274.6 2155.0L1276.0 2155.0L1277.4 2155.0L1278.7 2155.0L1280.1 2155.0L1281.5 2155.0L1282.8 2155.0L1284.2 2155.0L1285.5 2155.0L1286.9 2155.0L1288.3 2155.0L1289.6 2155.0L1291.0 2155.0L1292.3 2155.0L1293.7 2155.0L1295.1 2155.0L1296.4 2155.0L1297.8 2155.0L1299.2 2155.0L1300.5 2155.0L1301.9 2155.0L1303.2 2155.0L1304.6 2155.0L1306.0 2155.0L1307.3 2155.0L1308.7 2155.0L1310.1 2155.0L1311.4 2155.0L1312.8 2155.0L1314.2 2155.0L1315.5 2155.0L1316.9 2155.0L1318.2 2155.0L1319.6 2155.0L1321.0 2155.0L1322.3 2155.0L1323.7 2155.0L1325.0 2155.0L1326.4 2155.0L1327.8 2155.0L1329.1 2155.0L1330.5 2155.0L1331.9 2155.0L1333.2 2155.0L1334.6 2155.0L1336.0 2155.0L1337.3 2155.0L1338.7 2155.0L1340.0 2155.0L1341.4 2155.0L1342.8 2155.0L1344.1 2155.0L1345.5 2155.0L1346.8 2155.0L1348.2 2155.0L1349.6 2155.0L1350.9 2155.0L1352.3 2155.0L1353.7 2155.0L1355.0 2155.0L1356.4 2155.0L1357.8 2155.0L1359.1 2155.0L1360.5 2155.0L1361.8 2155.0L1363.2 2155.0L1364.6 2155.0L1365.9 2155.0L1367.3 2155.0L1368.7 2155.0L1370.0 2154.3L1371.4 2152.4L1372.7 2149.6L1374.1 2146.5L1375.5 2143.2L1376.8 2139.6L1378.2 2135.1L1379.5 2130.1L1380.9 2124.6L1382.3 2118.9L1383.6 2113.3L1385.0 2108.0L1386.4 2102.9L1387.7 2097.8L1389.1 2092.6L1390.5 2087.5L1391.8 2082.3L1393.2 2077.0L1394.5 2071.7L1395.9 2066.4L1397.3 2061.0L1398.6 2055.5L1400.0 2050.0L1401.3 2044.4L1402.7 2038.8L1404.1 2033.1L1405.4 2027.3L1406.8 2021.5L1408.2 2015.7L1409.5 2009.9L1410.9 2004.0L1412.2 1998.0L1413.6 1991.9L1415.0 1985.8L1416.3 1979.5L1417.7 1973.3L1419.1 1967.0L1420.4 1960.6L1421.8 1954.3L1423.2 1948.0L1424.5 1941.7L1425.9 1935.5L1427.2 1929.4L1428.6 1923.3L1430.0 1917.3L1431.3 1911.4L1432.7 1905.7L1434.0 1900.1L1435.4 1894.6L1436.8 1889.0L1438.1 1883.6L1439.5 1878.1L1440.9 1872.8L1442.2 1867.5L1443.6 1862.2L1445.0 1857.0L1446.3 1852.0L1447.7 1847.0L1449.0 1842.1L1450.4 1837.3L1451.8 1832.6L1453.1 1828.1L1454.5 1823.7L1455.8 1819.3L1457.2 1815.1L1458.6 1810.9L1459.9 1806.8L1461.3 1802.7L1462.7 1798.8L1464.0 1794.9L1465.4 1791.2L1466.8 1787.5L1468.1 1783.9L1469.5 1780.4L1470.8 1777.1L1472.2 1773.8L1473.6 1770.7L1474.9 1767.6L1476.3 1764.6L1477.7 1761.5L1479.0 1758.5L1480.4 1755.5L1481.7 1752.6L1483.1 1749.7L1484.5 1746.9L1485.8 1744.2L1487.2 1741.5L1488.5 1738.8L1489.9 1736.3L1491.3 1733.8L1492.6 1731.4L1494.0 1729.1L1495.4 1726.9L1496.7 1724.8L1498.1 1722.8L1499.5 1720.9L1500.8 1719.1L1502.2 1717.4L1503.5 1715.8L1504.9 1714.2L1506.3 1712.7L1507.6 1711.1L1509.0 1709.6L1510.3 1708.2L1511.7 1706.7L1513.1 1705.3L1514.4 1703.9L1515.8 1702.5L1517.2 1701.2L1518.5 1699.9L1519.9 1698.6L1521.2 1697.3L1522.6 1696.1L1524.0 1694.8L1525.3 1693.6L1526.7 1692.5L1528.1 1691.3L1529.4 1690.2L1530.8 1689.0L1532.2 1687.9L1533.5 1686.9L1534.9 1685.8L1536.2 1684.8L1537.6 1683.7L1539.0 1682.7L1540.3 1681.7L1541.7 1680.7L1543.0 1679.8L1544.4 1678.8L1545.8 1677.9L1547.1 1677.0L1548.5 1676.1L1549.9 1675.2L1551.2 1674.3L1552.6 1673.4L1554.0 1672.6L1555.3 1671.8L1556.7 1670.9L1558.0 1670.1L1559.4 1669.3L1560.8 1668.5L1562.1 1667.7L1563.5 1666.9L1564.8 1666.1L1566.2 1665.4L1567.6 1664.6L1568.9 1663.8L1570.3 1663.1L1571.7 1662.4L1573.0 1661.7L1574.4 1661.0L1575.8 1660.3L1577.1 1659.6L1578.5 1658.9L1579.8 1658.2L1581.2 1657.6L1582.6 1656.9L1583.9 1656.3L1585.3 1655.7L1586.7 1655.0L1588.0 1654.4L1589.4 1653.8L1590.7 1653.2L1592.1 1652.6L1593.5 1652.1L1594.8 1651.5L1596.2 1650.9L1597.5 1650.3L1598.9 1649.8L1600.3 1649.3L1601.6 1648.7L1603.0 1648.2L1604.4 1647.7L1605.7 1647.1L1607.1 1646.6L1608.5 1646.1L1609.8 1645.6L1611.2 1645.1L1612.5 1644.6L1613.9 1644.1L1615.3 1643.6L1616.6 1643.2L1618.0 1642.7L1619.3 1642.2L1620.7 1641.8L1622.1 1641.3L1623.4 1640.8L1624.8 1640.4L1626.2 1639.9L1627.5 1639.5L1628.9 1639.0L1630.2 1638.6L1631.6 1638.1L1633.0 1637.7L1634.3 1637.2L1635.7 1636.8L1637.1 1636.4L1638.4 1636.0L1639.8 1635.6L1641.2 1635.2L1642.5 1634.8L1643.9 1634.4L1645.2 1634.0L1646.6 1633.7L1648.0 1633.3L1649.3 1633.0L1650.7 1632.7L1652.0 1632.3L1653.4 1632.0L1654.8 1631.7L1656.1 1631.5L1657.5 1631.2L1658.9 1630.9L1660.2 1630.7L1661.6 1630.5L1663.0 1630.2L1664.3 1630.0L1665.7 1629.7L1667.0 1629.5L1668.4 1629.3L1669.8 1629.1L1671.1 1628.8L1672.5 1628.6L1673.8 1628.4L1675.2 1628.2L1676.6 1627.9L1677.9 1627.7L1679.3 1627.5L1680.7 1627.3L1682.0 1627.1L1683.4 1626.9L1684.8 1626.7L1686.1 1626.5L1687.5 1626.3L1688.8 1626.1L1690.2 1625.9L1691.6 1625.7L1692.9 1625.5L1694.3 1625.3L1695.7 1625.2L1697.0 1625.0L1698.4 1624.8L1699.7 1624.7L1701.1 1624.5L1702.5 1624.3L1703.8 1624.2L1705.2 1624.0L1706.5 1623.9L1707.9 1623.7L1709.3 1623.6L1710.6 1623.4L1712.0 1623.3L1713.4 1623.1L1714.7 1623.0L1716.1 1622.9L1717.5 1622.8L1718.8 1622.6L1720.2 1622.5L1721.5 1622.4L1722.9 1622.3L1724.3 1622.2L1725.6 1622.1L1727.0 1622.0L1728.3 1621.9L1729.7 1621.8L1731.1 1621.8L1732.4 1621.7L1733.8 1621.6L1735.2 1621.6L1736.5 1621.5L1737.9 1621.4L1739.2 1621.4L1740.6 1621.3L1742.0 1621.2L1743.3 1621.2L1744.7 1621.1L1746.1 1621.0L1747.4 1621.0L1748.8 1620.9L1750.2 1620.9L1751.5 1620.8L1752.9 1620.8L1754.2 1620.7L1755.6 1620.6L1757.0 1620.6L1758.3 1620.5L1759.7 1620.5L1761.1 1620.4L1762.4 1620.4L1763.8 1620.3L1765.1 1620.3L1766.5 1620.2L1767.9 1620.2L1769.2 1620.1L1770.6 1620.1L1772.0 1620.0L1773.3 1620.0L1774.7 1619.9L1776.0 1619.9L1777.4 1619.8L1778.8 1619.8L1780.1 1619.7L1781.5 1619.7L1782.8 1619.7L1784.2 1619.6L1785.6 1619.6L1786.9 1619.5L1788.3 1619.5L1789.7 1619.4L1791.0 1619.4L1792.4 1619.4L1793.8 1619.3L1795.1 1619.3L1796.5 1619.2L1797.8 1619.2L1799.2 1619.2L1800.6 1619.1L1801.9 1619.1L1803.3 1619.1L1804.7 1619.0L1806.0 1619.0L1807.4 1619.0L1808.7 1618.9L1810.1 1618.9L1811.5 1618.9L1812.8 1618.8L1814.2 1618.8L1815.6 1618.8L1816.9 1618.7L1818.3 1618.7L1819.6 1618.7L1821.0 1618.6L1822.4 1618.6L1823.7 1618.6L1825.1 1618.6L1826.5 1618.5L1827.8 1618.5L1829.2 1618.5L1830.5 1618.5L1831.9 1618.4L1833.3 1618.4L1834.6 1618.4L1836.0 1618.4L1837.3 1618.3L1838.7 1618.3L1840.1 1618.3L1841.4 1618.3L1842.8 1618.3L1844.2 1618.2L1845.5 1618.2L1846.9 1618.2L1848.2 1618.2L1849.6 1618.2L1851.0 1618.1L1852.3 1618.1L1853.7 1618.1L1855.1 1618.1L1856.4 1618.1L1857.8 1618.1L1859.2 1618.1L1860.5 1618.0L1861.9 1618.0L1863.2 1618.0L1864.6 1618.0L1866.0 1618.0L1867.3 1618.0L1868.7 1618.0L1870.1 1617.9L1871.4 1617.9L1872.8 1617.9L1874.1 1617.9L1875.5 1617.9L1876.9 1617.9L1878.2 1617.9L1879.6 1617.9L1881.0 1617.8L1882.3 1617.8L1883.7 1617.8L1885.0 1617.8L1886.4 1617.8L1887.8 1617.8L1889.1 1617.8L1890.5 1617.8L1891.8 1617.8L1893.2 1617.7L1894.6 1617.7L1895.9 1617.7L1897.3 1617.7L1898.7 1617.7L1900.0 1617.7L1901.4 1617.7L1902.8 1617.7L1904.1 1617.7L1905.5 1617.7L1906.8 1617.6L1908.2 1617.6L1909.6 1617.6L1910.9 1617.6L1912.3 1617.6L1913.7 1617.6L1915.0 1617.6L1916.4 1617.6L1917.7 1617.6L1919.1 1617.6L1920.5 1617.6L1921.8 1617.6L1923.2 1617.5L1924.6 1617.5L1925.9 1617.5L1927.3 1617.5L1928.6 1617.5L1930.0 1617.5L1931.4 1617.5L1932.7 1617.5L1934.1 1617.5L1935.5 1617.5L1936.8 1617.5L1938.2 1617.5L1939.5 1617.5L1940.9 1617.4L1942.3 1617.4L1943.6 1617.4L1945.0 1617.4L1946.3 1617.4L1947.7 1617.4L1949.1 1617.4L1950.4 1617.4L1951.8 1617.4L1953.2 1617.4L1954.5 1617.4L1955.9 1617.4L1957.2 1617.4L1958.6 1617.4L1960.0 1617.3L1961.3 1617.3L1962.7 1617.3L1964.1 1617.3L1965.4 1617.3L1966.8 1617.3L1968.2 1617.3L1969.5 1617.3L1970.9 1617.3L1972.2 1617.3L1973.6 1617.3L1975.0 1617.3L1976.3 1617.3L1977.7 1617.3L1979.1 1617.3L1980.4 1617.3L1981.8 1617.2L1983.1 1617.2L1984.5 1617.2L1985.9 1617.2L1987.2 1617.2L1988.6 1617.2L1990.0 1617.2L1991.3 1617.2L1992.7 1617.2L1994.0 1617.2L1995.4 1617.2L1996.8 1617.2L1998.1 1617.2L1999.5 1617.2L2000.8 1617.2L2002.2 1617.2L2003.6 1617.2L2004.9 1617.1L2006.3 1617.1L2007.7 1617.1L2009.0 1617.1L2010.4 1617.1L2011.8 1617.1L2013.1 1617.1L2014.5 1617.1L2015.8 1617.1L2017.2 1617.1L2018.6 1617.1L2019.9 1617.1L2021.3 1617.1L2022.7 1617.1L2024.0 1617.1L2025.4 1617.1L2026.7 1617.1L2028.1 1617.0L2029.5 1617.0L2030.8 1617.0L2032.2 1617.0L2033.6 1617.0L2034.9 1617.0L2036.3 1617.0L2037.6 1617.0L2039.0 1617.0L2040.4 1617.0L2041.7 1617.0L2043.1 1617.0L2044.5 1617.0L2045.8 1617.0L2047.2 1617.0L2048.5 1616.9L2049.9 1616.9L2051.3 1616.9L2052.6 1616.9L2054.0 1616.9L2055.3 1616.9L2056.7 1616.9L2058.1 1616.9L2059.4 1616.9L2060.8 1616.9L2062.2 1616.9L2063.5 1616.9L2064.9 1616.9L2066.2 1616.8" fill="none" stroke="#4a4a4a" stroke-width="6" stroke-linejoin="round"/><path d="M1248.8 2155.0h0M1250.1 2155.0h0M1251.5 2155.0h0M1252.8 2155.0h0M1254.2 2155.0h0M1255.6 2155.0h0M1256.9 2155.0h0M1258.3 2155.0h0M1259.7 2155.0h0M1261.0 2155.0h0M1262.4 2155.0h0M1263.7 2155.0h0M1265.1 2155.0h0M1266.5 2155.0h0M1267.8 2155.0h0M1269.2 2155.0h0M1270.5 2155.0h0M1271.9 2155.0h0M1273.3 2155.0h0M1274.6 2155.0h0M1276.0 2155.0h0M1277.4 2155.0h0M1278.7 2155.0h0M1280.1 2155.0h0M1281.5 2155.0h0M1282.8 2155.0h0M1284.2 2155.0h0M1285.5 2155.0h0M1286.9 2155.0h0M1288.3 2155.0h0M1289.6 2155.0h0M1291.0 2155.0h0M1292.3 2155.0h0M1293.7 2155.0h0M1295.1 2155.0h0M1296.4 2155.0h0M1297.8 2155.0h0M1299.2 2155.0h0M1300.5 2155.0h0M1301.9 2155.0h0M1303.2 2155.0h0M1304.6 2155.0h0M1306.0 2155.0h0M1307.3 2155.0h0M1308.7 2155.0h0M1310.1 2155.0h0M1311.4 2155.0h0M1312.8 2155.0h0M1314.2 2155.0h0M1315.5 2155.0h0M1316.9 2155.0h0M1318.2 2155.0h0M1319.6 2155.0h0M1321.0 2155.0h0M1322.3 2155.0h0M1323.7 2155.0h0M1325.0 2155.0h0M1326.4 2155.0h0M1327.8 2155.0h0M1329.1 2155.0h0M1330.5 2155.0h0M1331.9 2155.0h0M1333.2 2155.0h0M1334.6 2155.0h0M1336.0 2155.0h0M1337.3 2155.0h0M1338.7 2155.0h0M1340.0 2155.0h0M1341.4 2155.0h0M1342.8 2155.0h0M1344.1 2155.0h0M1345.5 2155.0h0M1346.8 2155.0h0M1348.2 2155.0h0M1349.6 2155.0h0M1350.9 2155.0h0M1352.3 2155.0h0M1353.7 2155.0h0M1355.0 2155.0h0M1356.4 2155.0h0M1357.8 2155.0h0M1359.1 2155.0h0M1360.5 2155.0h0M1361.8 2155.0h0M1363.2 2155.0h0M1364.6 2155.0h0M1365.9 2155.0h0M1367.3 2155.0h0M1368.7 2155.0h0M1370.0 2154.3h0M1371.4 2152.4h0M1372.7 2149.6h0M1374.1 2146.5h0M1375.5 2143.2h0M1376.8 2139.6h0M1378.2 2135.1h0M1379.5 2130.1h0M1380.9 2124.6h0M1382.3 2118.9h0M1383.6 2113.3h0M1385.0 2108.0h0M1386.4 2102.9h0M1387.7 2097.8h0M1389.1 2092.6h0M1390.5 2087.5h0M1391.8 2082.3h0M1393.2 2077.0h0M1394.5 2071.7h0M1395.9 2066.4h0M1397.3 2061.0h0M1398.6 2055.5h0M1400.0 2050.0h0M1401.3 2044.4h0M1402.7 2038.8h0M1404.1 2033.1h0M1405.4 2027.3h0M1406.8 2021.5h0M1408.2 2015.7h0M1409.5 2009.9h0M1410.9 2004.0h0M1412.2 1998.0h0M1413.6 1991.9h0M1415.0 1985.8h0M1416.3 1979.5h0M1417.7 1973.3h0M1419.1 1967.0h0M1420.4 1960.6h0M1421.8 1954.3h0M1423.2 1948.0h0M1424.5 1941.7h0M1425.9 1935.5h0M1427.2 1929.4h0M1428.6 1923.3h0M1430.0 1917.3h0M1431.3 1911.4h0M1432.7 1905.7h0M1434.0 1900.1h0M1435.4 1894.6h0M1436.8 1889.0h0M1438.1 1883.6h0M1439.5 1878.1h0M1440.9 1872.8h0M1442.2 1867.5h0M1443.6 1862.2h0M1445.0 1857.0h0M1446.3 1852.0h0M1447.7 1847.0h0M1449.0 1842.1h0M1450.4 1837.3h0M1451.8 1832.6h0M1453.1 1828.1h0M1454.5 1823.7h0M1455.8 1819.3h0M1457.2 1815.1h0M1458.6 1810.9h0M1459.9 1806.8h0M1461.3 1802.7h0M1462.7 1798.8h0M1464.0 1794.9h0M1465.4 1791.2h0M1466.8 1787.5h0M1468.1 1783.9h0M1469.5 1780.4h0M1470.8 1777.1h0M1472.2 1773.8h0M1473.6 1770.7h0M1474.9 1767.6h0M1476.3 1764.6h0M1477.7 1761.5h0M1479.0 1758.5h0M1480.4 1755.5h0M1481.7 1752.6h0M1483.1 1749.7h0M1484.5 1746.9h0M1485.8 1744.2h0M1487.2 1741.5h0M1488.5 1738.8h0M1489.9 1736.3h0M1491.3 1733.8h0M1492.6 1731.4h0M1494.0 1729.1h0M1495.4 1726.9h0M1496.7 1724.8h0M1498.1 1722.8h0M1499.5 1720.9h0M1500.8 1719.1h0M1502.2 1717.4h0M1503.5 1715.8h0M1504.9 1714.2h0M1506.3 1712.7h0M1507.6 1711.1h0M1509.0 1709.6h0M1510.3 1708.2h0M1511.7 1706.7h0M1513.1 1705.3h0M1514.4 1703.9h0M1515.8 1702.5h0M1517.2 1701.2h0M1518.5 1699.9h0M1519.9 1698.6h0M1521.2 1697.3h0M1522.6 1696.1h0M1524.0 1694.8h0M1525.3 1693.6h0M1526.7 1692.5h0M1528.1 1691.3h0M1529.4 1690.2h0M1530.8 1689.0h0M1532.2 1687.9h0M1533.5 1686.9h0M1534.9 1685.8h0M1536.2 1684.8h0M1537.6 1683.7h0M1539.0 1682.7h0M1540.3 1681.7h0M1541.7 1680.7h0M1543.0 1679.8h0M1544.4 1678.8h0M1545.8 1677.9h0M1547.1 1677.0h0M1548.5 1676.1h0M1549.9 1675.2h0M1551.2 1674.3h0M1552.6 1673.4h0M1554.0 1672.6h0M1555.3 1671.8h0M1556.7 1670.9h0M1558.0 1670.1h0M1559.4 1669.3h0M1560.8 1668.5h0M1562.1 1667.7h0M1563.5 1666.9h0M1564.8 1666.1h0M1566.2 1665.4h0M1567.6 1664.6h0M1568.9 1663.8h0M1570.3 1663.1h0M1571.7 1662.4h0M1573.0 1661.7h0M1574.4 1661.0h0M1575.8 1660.3h0M1577.1 1659.6h0M1578.5 1658.9h0M1579.8 1658.2h0M1581.2 1657.6h0M1582.6 1656.9h0M1583.9 1656.3h0M1585.3 1655.7h0M1586.7 1655.0h0M1588.0 1654.4h0M1589.4 1653.8h0M1590.7 1653.2h0M1592.1 1652.6h0M1593.5 1652.1h0M1594.8 1651.5h0M1596.2 1650.9h0M1597.5 1650.3h0M1598.9 1649.8h0M1600.3 1649.3h0M1601.6 1648.7h0M1603.0 1648.2h0M1604.4 1647.7h0M1605.7 1647.1h0M1607.1 1646.6h0M1608.5 1646.1h0M1609.8 1645.6h0M1611.2 1645.1h0M1612.5 1644.6h0M1613.9 1644.1h0M1615.3 1643.6h0M1616.6 1643.2h0M1618.0 1642.7h0M1619.3 1642.2h0M1620.7 1641.8h0M1622.1 1641.3h0M1623.4 1640.8h0M1624.8 1640.4h0M1626.2 1639.9h0M1627.5 1639.5h0M1628.9 1639.0h0M1630.2 1638.6h0M1631.6 1638.1h0M1633.0 1637.7h0M1634.3 1637.2h0M1635.7 1636.8h0M1637.1 1636.4h0M1638.4 1636.0h0M1639.8 1635.6h0M1641.2 1635.2h0M1642.5 1634.8h0M1643.9 1634.4h0M1645.2 1634.0h0M1646.6 1633.7h0M1648.0 1633.3h0M1649.3 1633.0h0M1650.7 1632.7h0M1652.0 1632.3h0M1653.4 1632.0h0M1654.8 1631.7h0M1656.1 1631.5h0M1657.5 1631.2h0M1658.9 1630.9h0M1660.2 1630.7h0M1661.6 1630.5h0M1663.0 1630.2h0M1664.3 1630.0h0M1665.7 1629.7h0M1667.0 1629.5h0M1668.4 1629.3h0M1669.8 1629.1h0M1671.1 1628.8h0M1672.5 1628.6h0M1673.8 1628.4h0M1675.2 1628.2h0M1676.6 1627.9h0M1677.9 1627.7h0M1679.3 1627.5h0M1680.7 1627.3h0M1682.0 1627.1h0M1683.4 1626.9h0M1684.8 1626.7h0M1686.1 1626.5h0M1687.5 1626.3h0M1688.8 1626.1h0M1690.2 1625.9h0M1691.6 1625.7h0M1692.9 1625.5h0M1694.3 1625.3h0M1695.7 1625.2h0M1697.0 1625.0h0M1698.4 1624.8h0M1699.7 1624.7h0M1701.1 1624.5h0M1702.5 1624.3h0M1703.8 1624.2h0M1705.2 1624.0h0M1706.5 1623.9h0M1707.9 1623.7h0M1709.3 1623.6h0M1710.6 1623.4h0M1712.0 1623.3h0M1713.4 1623.1h0M1714.7 1623.0h0M1716.1 1622.9h0M1717.5 1622.8h0M1718.8 1622.6h0M1720.2 1622.5h0M1721.5 1622.4h0M1722.9 1622.3h0M1724.3 1622.2h0M1725.6 1622.1h0M1727.0 1622.0h0M1728.3 1621.9h0M1729.7 1621.8h0M1731.1 1621.8h0M1732.4 1621.7h0M1733.8 1621.6h0M1735.2 1621.6h0M1736.5 1621.5h0M1737.9 1621.4h0M1739.2 1621.4h0M1740.6 1621.3h0M1742.0 1621.2h0M1743.3 1621.2h0M1744.7 1621.1h0M1746.1 1621.0h0M1747.4 1621.0h0M1748.8 1620.9h0M1750.2 1620.9h0M1751.5 1620.8h0M1752.9 1620.8h0M1754.2 1620.7h0M1755.6 1620.6h0M1757.0 1620.6h0M1758.3 1620.5h0M1759.7 1620.5h0M1761.1 1620.4h0M1762.4 1620.4h0M1763.8 1620.3h0M1765.1 1620.3h0M1766.5 1620.2h0M1767.9 1620.2h0M1769.2 1620.1h0M1770.6 1620.1h0M1772.0 1620.0h0M1773.3 1620.0h0M1774.7 1619.9h0M1776.0 1619.9h0M1777.4 1619.8h0M1778.8 1619.8h0M1780.1 1619.7h0M1781.5 1619.7h0M1782.8 1619.7h0M1784.2 1619.6h0M1785.6 1619.6h0M1786.9 1619.5h0M1788.3 1619.5h0M1789.7 1619.4h0M1791.0 1619.4h0M1792.4 1619.4h0M1793.8 1619.3h0M1795.1 1619.3h0M1796.5 1619.2h0M1797.8 1619.2h0M1799.2 1619.2h0M1800.6 1619.1h0M1801.9 1619.1h0M1803.3 1619.1h0M1804.7 1619.0h0M1806.0 1619.0h0M1807.4 1619.0h0M1808.7 1618.9h0M1810.1 1618.9h0M1811.5 1618.9h0M1812.8 1618.8h0M1814.2 1618.8h0M1815.6 1618.8h0M1816.9 1618.7h0M1818.3 1618.7h0M1819.6 1618.7h0M1821.0 1618.6h0M1822.4 1618.6h0M1823.7 1618.6h0M1825.1 1618.6h0M1826.5 1618.5h0M1827.8 1618.5h0M1829.2 1618.5h0M1830.5 1618.5h0M1831.9 1618.4h0M1833.3 1618.4h0M1834.6 1618.4h0M1836.0 1618.4h0M1837.3 1618.3h0M1838.7 1618.3h0M1840.1 1618.3h0M1841.4 1618.3h0M1842.8 1618.3h0M1844.2 1618.2h0M1845.5 1618.2h0M1846.9 1618.2h0M1848.2 1618.2h0M1849.6 1618.2h0M1851.0 1618.1h0M1852.3 1618.1h0M1853.7 1618.1h0M1855.1 1618.1h0M1856.4 1618.1h0M1857.8 1618.1h0M1859.2 1618.1h0M1860.5 1618.0h0M1861.9 1618.0h0M1863.2 1618.0h0M1864.6 1618.0h0M1866.0 1618.0h0M1867.3 1618.0h0M1868.7 1618.0h0M1870.1 1617.9h0M1871.4 1617.9h0M1872.8 1617.9h0M1874.1 1617.9h0M1875.5 1617.9h0M1876.9 1617.9h0M1878.2 1617.9h0M1879.6 1617.9h0M1881.0 1617.8h0M1882.3 1617.8h0M1883.7 1617.8h0M1885.0 1617.8h0M1886.4 1617.8h0M1887.8 1617.8h0M1889.1 1617.8h0M1890.5 1617.8h0M1891.8 1617.8h0M1893.2 1617.7h0M1894.6 1617.7h0M1895.9 1617.7h0M1897.3 1617.7h0M1898.7 1617.7h0M1900.0 1617.7h0M1901.4 1617.7h0M1902.8 1617.7h0M1904.1 1617.7h0M1905.5 1617.7h0M1906.8 1617.6h0M1908.2 1617.6h0M1909.6 1617.6h0M1910.9 1617.6h0M1912.3 1617.6h0M1913.7 1617.6h0M1915.0 1617.6h0M1916.4 1617.6h0M1917.7 1617.6h0M1919.1 1617.6h0M1920.5 1617.6h0M1921.8 1617.6h0M1923.2 1617.5h0M1924.6 1617.5h0M1925.9 1617.5h0M1927.3 1617.5h0M1928.6 1617.5h0M1930.0 1617.5h0M1931.4 1617.5h0M1932.7 1617.5h0M1934.1 1617.5h0M1935.5 1617.5h0M1936.8 1617.5h0M1938.2 1617.5h0M1939.5 1617.5h0M1940.9 1617.4h0M1942.3 1617.4h0M1943.6 1617.4h0M1945.0 1617.4h0M1946.3 1617.4h0M1947.7 1617.4h0M1949.1 1617.4h0M1950.4 1617.4h0M1951.8 1617.4h0M1953.2 1617.4h0M1954.5 1617.4h0M1955.9 1617.4h0M1957.2 1617.4h0M1958.6 1617.4h0M1960.0 1617.3h0M1961.3 1617.3h0M1962.7 1617.3h0M1964.1 1617.3h0M1965.4 1617.3h0M1966.8 1617.3h0M1968.2 1617.3h0M1969.5 1617.3h0M1970.9 1617.3h0M1972.2 1617.3h0M1973.6 1617.3h0M1975.0 1617.3h0M1976.3 1617.3h0M1977.7 1617.3h0M1979.1 1617.3h0M1980.4 1617.3h0M1981.8 1617.2h0M1983.1 1617.2h0M1984.5 1617.2h0M1985.9 1617.2h0M1987.2 1617.2h0M1988.6 1617.2h0M1990.0 1617.2h0M1991.3 1617.2h0M1992.7 1617.2h0M1994.0 1617.2h0M1995.4 1617.2h0M1996.8 1617.2h0M1998.1 1617.2h0M1999.5 1617.2h0M2000.8 1617.2h0M2002.2 1617.2h0M2003.6 1617.2h0M2004.9 1617.1h0M2006.3 1617.1h0M2007.7 1617.1h0M2009.0 1617.1h0M2010.4 1617.1h0M2011.8 1617.1h0M2013.1 1617.1h0M2014.5 1617.1h0M2015.8 1617.1h0M2017.2 1617.1h0M2018.6 1617.1h0M2019.9 1617.1h0M2021.3 1617.1h0M2022.7 1617.1h0M2024.0 1617.1h0M2025.4 1617.1h0M2026.7 1617.1h0M2028.1 1617.0h0M2029.5 1617.0h0M2030.8 1617.0h0M2032.2 1617.0h0M2033.6 1617.0h0M2034.9 1617.0h0M2036.3 1617.0h0M2037.6 1617.0h0M2039.0 1617.0h0M2040.4 1617.0h0M2041.7 1617.0h0M2043.1 1617.0h0M2044.5 1617.0h0M2045.8 1617.0h0M2047.2 1617.0h0M2048.5 1616.9h0M2049.9 1616.9h0M2051.3 1616.9h0M2052.6 1616.9h0M2054.0 1616.9h0M2055.3 1616.9h0M2056.7 1616.9h0M2058.1 1616.9h0M2059.4 1616.9h0M2060.8 1616.9h0M2062.2 1616.9h0M2063.5 1616.9h0M2064.9 1616.9h0M2066.2 1616.8h0" stroke="#4a4a4a" stroke-width="12" stroke-linecap="square" fill="none"/></g>
<g clip-path="url(#cf)"><path d="M1248.8 2155.0L1250.1 2155.0L1251.5 2155.0L1252.8 2155.0L1254.2 2155.0L1255.6 2155.0L1256.9 2155.0L1258.3 2155.0L1259.7 2155.0L1261.0 2155.0L1262.4 2155.0L1263.7 2155.0L1265.1 2155.0L1266.5 2155.0L1267.8 2155.0L1269.2 2155.0L1270.5 2155.0L1271.9 2155.0L1273.3 2155.0L1274.6 2155.0L1276.0 2155.0L1277.4 2155.0L1278.7 2155.0L1280.1 2155.0L1281.5 2155.0L1282.8 2155.0L1284.2 2155.0L1285.5 2155.0L1286.9 2155.0L1288.3 2155.0L1289.6 2155.0L1291.0 2155.0L1292.3 2155.0L1293.7 2155.0L1295.1 2155.0L1296.4 2155.0L1297.8 2155.0L1299.2 2155.0L1300.5 2155.0L1301.9 2155.0L1303.2 2155.0L1304.6 2155.0L1306.0 2155.0L1307.3 2155.0L1308.7 2155.0L1310.1 2155.0L1311.4 2155.0L1312.8 2155.0L1314.2 2155.0L1315.5 2155.0L1316.9 2155.0L1318.2 2155.0L1319.6 2155.0L1321.0 2155.0L1322.3 2155.0L1323.7 2155.0L1325.0 2155.0L1326.4 2155.0L1327.8 2155.0L1329.1 2155.0L1330.5 2155.0L1331.9 2155.0L1333.2 2155.0L1334.6 2155.0L1336.0 2155.0L1337.3 2155.0L1338.7 2155.0L1340.0 2155.0L1341.4 2155.0L1342.8 2155.0L1344.1 2155.0L1345.5 2155.0L1346.8 2155.0L1348.2 2155.0L1349.6 2155.0L1350.9 2155.0L1352.3 2155.0L1353.7 2155.0L1355.0 2155.0L1356.4 2155.0L1357.8 2155.0L1359.1 2154.5L1360.5 2153.1L1361.8 2151.0L1363.2 2148.6L1364.6 2145.9L1365.9 2143.2L1367.3 2140.4L1368.7 2137.2L1370.0 2133.5L1371.4 2129.6L1372.7 2125.4L1374.1 2121.0L1375.5 2116.5L1376.8 2112.0L1378.2 2107.6L1379.5 2103.3L1380.9 2099.0L1382.3 2094.7L1383.6 2090.3L1385.0 2085.9L1386.4 2081.4L1387.7 2076.8L1389.1 2072.3L1390.5 2067.7L1391.8 2063.1L1393.2 2058.5L1394.5 2053.9L1395.9 2049.2L1397.3 2044.7L1398.6 2040.1L1400.0 2035.6L1401.3 2031.0L1402.7 2026.5L1404.1 2021.8L1405.4 2017.1L1406.8 2012.4L1408.2 2007.5L1409.5 2002.5L1410.9 1997.3L1412.2 1991.9L1413.6 1986.4L1415.0 1980.6L1416.3 1974.8L1417.7 1968.8L1419.1 1962.8L1420.4 1956.6L1421.8 1950.5L1423.2 1944.3L1424.5 1938.2L1425.9 1932.1L1427.2 1926.1L1428.6 1920.1L1430.0 1914.3L1431.3 1908.6L1432.7 1903.1L1434.0 1897.8L1435.4 1892.5L1436.8 1887.2L1438.1 1881.9L1439.5 1876.7L1440.9 1871.4L1442.2 1866.3L1443.6 1861.2L1445.0 1856.2L1446.3 1851.4L1447.7 1846.7L1449.0 1842.1L1450.4 1837.8L1451.8 1833.6L1453.1 1829.7L1454.5 1826.0L1455.8 1822.5L1457.2 1819.1L1458.6 1815.9L1459.9 1812.7L1461.3 1809.7L1462.7 1806.8L1464.0 1803.9L1465.4 1801.1L1466.8 1798.4L1468.1 1795.7L1469.5 1793.1L1470.8 1790.6L1472.2 1788.0L1473.6 1785.5L1474.9 1783.0L1476.3 1780.5L1477.7 1778.0L1479.0 1775.5L1480.4 1773.0L1481.7 1770.4L1483.1 1767.8L1484.5 1765.1L1485.8 1762.5L1487.2 1759.8L1488.5 1757.1L1489.9 1754.3L1491.3 1751.6L1492.6 1749.0L1494.0 1746.3L1495.4 1743.7L1496.7 1741.1L1498.1 1738.6L1499.5 1736.1L1500.8 1733.7L1502.2 1731.4L1503.5 1729.2L1504.9 1727.1L1506.3 1725.1L1507.6 1723.2L1509.0 1721.5L1510.3 1719.9L1511.7 1718.4L1513.1 1717.1L1514.4 1715.8L1515.8 1714.6L1517.2 1713.4L1518.5 1712.2L1519.9 1711.0L1521.2 1709.9L1522.6 1708.7L1524.0 1707.6L1525.3 1706.6L1526.7 1705.5L1528.1 1704.5L1529.4 1703.5L1530.8 1702.5L1532.2 1701.6L1533.5 1700.6L1534.9 1699.7L1536.2 1698.8L1537.6 1697.9L1539.0 1697.1L1540.3 1696.2L1541.7 1695.4L1543.0 1694.6L1544.4 1693.8L1545.8 1693.0L1547.1 1692.2L1548.5 1691.5L1549.9 1690.7L1551.2 1690.0L1552.6 1689.2L1554.0 1688.5L1555.3 1687.8L1556.7 1687.1L1558.0 1686.4L1559.4 1685.8L1560.8 1685.1L1562.1 1684.4L1563.5 1683.7L1564.8 1683.1L1566.2 1682.4L1567.6 1681.8L1568.9 1681.1L1570.3 1680.5L1571.7 1679.8L1573.0 1679.2L1574.4 1678.5L1575.8 1677.9L1577.1 1677.2L1578.5 1676.6L1579.8 1675.9L1581.2 1675.3L1582.6 1674.6L1583.9 1673.9L1585.3 1673.2L1586.7 1672.6L1588.0 1671.9L1589.4 1671.3L1590.7 1670.6L1592.1 1670.0L1593.5 1669.3L1594.8 1668.7L1596.2 1668.1L1597.5 1667.4L1598.9 1666.8L1600.3 1666.2L1601.6 1665.6L1603.0 1665.0L1604.4 1664.4L1605.7 1663.9L1607.1 1663.3L1608.5 1662.7L1609.8 1662.1L1611.2 1661.6L1612.5 1661.0L1613.9 1660.5L1615.3 1659.9L1616.6 1659.4L1618.0 1658.9L1619.3 1658.4L1620.7 1657.8L1622.1 1657.3L1623.4 1656.8L1624.8 1656.3L1626.2 1655.8L1627.5 1655.3L1628.9 1654.7L1630.2 1654.2L1631.6 1653.7L1633.0 1653.2L1634.3 1652.7L1635.7 1652.2L1637.1 1651.7L1638.4 1651.2L1639.8 1650.7L1641.2 1650.2L1642.5 1649.8L1643.9 1649.3L1645.2 1648.9L1646.6 1648.4L1648.0 1648.0L1649.3 1647.6L1650.7 1647.2L1652.0 1646.8L1653.4 1646.4L1654.8 1646.0L1656.1 1645.7L1657.5 1645.4L1658.9 1645.0L1660.2 1644.8L1661.6 1644.5L1663.0 1644.2L1664.3 1643.9L1665.7 1643.6L1667.0 1643.3L1668.4 1643.0L1669.8 1642.7L1671.1 1642.4L1672.5 1642.1L1673.8 1641.8L1675.2 1641.5L1676.6 1641.3L1677.9 1641.0L1679.3 1640.7L1680.7 1640.4L1682.0 1640.2L1683.4 1639.9L1684.8 1639.6L1686.1 1639.4L1687.5 1639.1L1688.8 1638.9L1690.2 1638.6L1691.6 1638.4L1692.9 1638.1L1694.3 1637.9L1695.7 1637.6L1697.0 1637.4L1698.4 1637.2L1699.7 1637.0L1701.1 1636.8L1702.5 1636.5L1703.8 1636.3L1705.2 1636.1L1706.5 1635.9L1707.9 1635.7L1709.3 1635.6L1710.6 1635.4L1712.0 1635.2L1713.4 1635.0L1714.7 1634.9L1716.1 1634.7L1717.5 1634.6L1718.8 1634.4L1720.2 1634.3L1721.5 1634.2L1722.9 1634.1L1724.3 1633.9L1725.6 1633.8L1727.0 1633.7L1728.3 1633.6L1729.7 1633.6L1731.1 1633.5L1732.4 1633.4L1733.8 1633.4L1735.2 1633.3L1736.5 1633.3L1737.9 1633.2L1739.2 1633.2L1740.6 1633.1L1742.0 1633.1L1743.3 1633.0L1744.7 1633.0L1746.1 1632.9L1747.4 1632.9L1748.8 1632.9L1750.2 1632.8L1751.5 1632.8L1752.9 1632.7L1754.2 1632.7L1755.6 1632.7L1757.0 1632.6L1758.3 1632.6L1759.7 1632.6L1761.1 1632.5L1762.4 1632.5L1763.8 1632.5L1765.1 1632.4L1766.5 1632.4L1767.9 1632.4L1769.2 1632.3L1770.6 1632.3L1772.0 1632.3L1773.3 1632.2L1774.7 1632.2L1776.0 1632.2L1777.4 1632.2L1778.8 1632.1L1780.1 1632.1L1781.5 1632.1L1782.8 1632.1L1784.2 1632.0L1785.6 1632.0L1786.9 1632.0L1788.3 1632.0L1789.7 1631.9L1791.0 1631.9L1792.4 1631.9L1793.8 1631.9L1795.1 1631.8L1796.5 1631.8L1797.8 1631.8L1799.2 1631.8L1800.6 1631.8L1801.9 1631.7L1803.3 1631.7L1804.7 1631.7L1806.0 1631.7L1807.4 1631.7L1808.7 1631.6L1810.1 1631.6L1811.5 1631.6L1812.8 1631.6L1814.2 1631.6L1815.6 1631.6L1816.9 1631.5L1818.3 1631.5L1819.6 1631.5L1821.0 1631.5L1822.4 1631.5L1823.7 1631.4L1825.1 1631.4L1826.5 1631.4L1827.8 1631.4L1829.2 1631.4L1830.5 1631.4L1831.9 1631.3L1833.3 1631.3L1834.6 1631.3L1836.0 1631.3L1837.3 1631.3L1838.7 1631.3L1840.1 1631.2L1841.4 1631.2L1842.8 1631.2L1844.2 1631.2L1845.5 1631.2L1846.9 1631.2L1848.2 1631.1L1849.6 1631.1L1851.0 1631.1L1852.3 1631.1L1853.7 1631.1L1855.1 1631.0L1856.4 1631.0L1857.8 1631.0L1859.2 1631.0L1860.5 1631.0L1861.9 1630.9L1863.2 1630.9L1864.6 1630.9L1866.0 1630.9L1867.3 1630.9L1868.7 1630.9L1870.1 1630.8L1871.4 1630.8L1872.8 1630.8L1874.1 1630.8L1875.5 1630.8L1876.9 1630.7L1878.2 1630.7L1879.6 1630.7L1881.0 1630.7L1882.3 1630.7L1883.7 1630.6L1885.0 1630.6L1886.4 1630.6L1887.8 1630.6L1889.1 1630.6L1890.5 1630.6L1891.8 1630.5L1893.2 1630.5L1894.6 1630.5L1895.9 1630.5L1897.3 1630.5L1898.7 1630.5L1900.0 1630.4L1901.4 1630.4L1902.8 1630.4L1904.1 1630.4L1905.5 1630.4L1906.8 1630.4L1908.2 1630.3L1909.6 1630.3L1910.9 1630.3L1912.3 1630.3L1913.7 1630.3L1915.0 1630.3L1916.4 1630.2L1917.7 1630.2L1919.1 1630.2L1920.5 1630.2L1921.8 1630.2L1923.2 1630.2L1924.6 1630.1L1925.9 1630.1L1927.3 1630.1L1928.6 1630.1L1930.0 1630.1L1931.4 1630.1L1932.7 1630.0L1934.1 1630.0L1935.5 1630.0L1936.8 1630.0L1938.2 1630.0L1939.5 1630.0L1940.9 1630.0L1942.3 1629.9L1943.6 1629.9L1945.0 1629.9L1946.3 1629.9L1947.7 1629.9L1949.1 1629.9L1950.4 1629.8L1951.8 1629.8L1953.2 1629.8L1954.5 1629.8L1955.9 1629.8L1957.2 1629.8L1958.6 1629.8L1960.0 1629.7L1961.3 1629.7L1962.7 1629.7L1964.1 1629.7L1965.4 1629.7L1966.8 1629.7L1968.2 1629.7L1969.5 1629.6L1970.9 1629.6L1972.2 1629.6L1973.6 1629.6L1975.0 1629.6L1976.3 1629.6L1977.7 1629.6L1979.1 1629.5L1980.4 1629.5L1981.8 1629.5L1983.1 1629.5L1984.5 1629.5L1985.9 1629.5L1987.2 1629.5L1988.6 1629.4L1990.0 1629.4L1991.3 1629.4L1992.7 1629.4L1994.0 1629.4L1995.4 1629.4L1996.8 1629.4L1998.1 1629.3L1999.5 1629.3L2000.8 1629.3L2002.2 1629.3L2003.6 1629.3L2004.9 1629.3L2006.3 1629.3L2007.7 1629.2L2009.0 1629.2L2010.4 1629.2L2011.8 1629.2L2013.1 1629.2L2014.5 1629.2L2015.8 1629.2L2017.2 1629.1L2018.6 1629.1L2019.9 1629.1L2021.3 1629.1L2022.7 1629.1L2024.0 1629.1L2025.4 1629.1L2026.7 1629.0L2028.1 1629.0L2029.5 1629.0L2030.8 1629.0L2032.2 1629.0L2033.6 1629.0L2034.9 1628.9L2036.3 1628.9L2037.6 1628.9L2039.0 1628.9L2040.4 1628.9L2041.7 1628.9L2043.1 1628.9L2044.5 1628.8L2045.8 1628.8L2047.2 1628.8L2048.5 1628.8L2049.9 1628.8L2051.3 1628.8L2052.6 1628.8L2054.0 1628.7L2055.3 1628.7L2056.7 1628.7L2058.1 1628.7L2059.4 1628.7L2060.8 1628.7L2062.2 1628.6L2063.5 1628.6L2064.9 1628.6L2066.2 1628.6" fill="none" stroke="#e0384a" stroke-width="6" stroke-linejoin="round"/><path d="M1248.8 2155.0h0M1250.1 2155.0h0M1251.5 2155.0h0M1252.8 2155.0h0M1254.2 2155.0h0M1255.6 2155.0h0M1256.9 2155.0h0M1258.3 2155.0h0M1259.7 2155.0h0M1261.0 2155.0h0M1262.4 2155.0h0M1263.7 2155.0h0M1265.1 2155.0h0M1266.5 2155.0h0M1267.8 2155.0h0M1269.2 2155.0h0M1270.5 2155.0h0M1271.9 2155.0h0M1273.3 2155.0h0M1274.6 2155.0h0M1276.0 2155.0h0M1277.4 2155.0h0M1278.7 2155.0h0M1280.1 2155.0h0M1281.5 2155.0h0M1282.8 2155.0h0M1284.2 2155.0h0M1285.5 2155.0h0M1286.9 2155.0h0M1288.3 2155.0h0M1289.6 2155.0h0M1291.0 2155.0h0M1292.3 2155.0h0M1293.7 2155.0h0M1295.1 2155.0h0M1296.4 2155.0h0M1297.8 2155.0h0M1299.2 2155.0h0M1300.5 2155.0h0M1301.9 2155.0h0M1303.2 2155.0h0M1304.6 2155.0h0M1306.0 2155.0h0M1307.3 2155.0h0M1308.7 2155.0h0M1310.1 2155.0h0M1311.4 2155.0h0M1312.8 2155.0h0M1314.2 2155.0h0M1315.5 2155.0h0M1316.9 2155.0h0M1318.2 2155.0h0M1319.6 2155.0h0M1321.0 2155.0h0M1322.3 2155.0h0M1323.7 2155.0h0M1325.0 2155.0h0M1326.4 2155.0h0M1327.8 2155.0h0M1329.1 2155.0h0M1330.5 2155.0h0M1331.9 2155.0h0M1333.2 2155.0h0M1334.6 2155.0h0M1336.0 2155.0h0M1337.3 2155.0h0M1338.7 2155.0h0M1340.0 2155.0h0M1341.4 2155.0h0M1342.8 2155.0h0M1344.1 2155.0h0M1345.5 2155.0h0M1346.8 2155.0h0M1348.2 2155.0h0M1349.6 2155.0h0M1350.9 2155.0h0M1352.3 2155.0h0M1353.7 2155.0h0M1355.0 2155.0h0M1356.4 2155.0h0M1357.8 2155.0h0M1359.1 2154.5h0M1360.5 2153.1h0M1361.8 2151.0h0M1363.2 2148.6h0M1364.6 2145.9h0M1365.9 2143.2h0M1367.3 2140.4h0M1368.7 2137.2h0M1370.0 2133.5h0M1371.4 2129.6h0M1372.7 2125.4h0M1374.1 2121.0h0M1375.5 2116.5h0M1376.8 2112.0h0M1378.2 2107.6h0M1379.5 2103.3h0M1380.9 2099.0h0M1382.3 2094.7h0M1383.6 2090.3h0M1385.0 2085.9h0M1386.4 2081.4h0M1387.7 2076.8h0M1389.1 2072.3h0M1390.5 2067.7h0M1391.8 2063.1h0M1393.2 2058.5h0M1394.5 2053.9h0M1395.9 2049.2h0M1397.3 2044.7h0M1398.6 2040.1h0M1400.0 2035.6h0M1401.3 2031.0h0M1402.7 2026.5h0M1404.1 2021.8h0M1405.4 2017.1h0M1406.8 2012.4h0M1408.2 2007.5h0M1409.5 2002.5h0M1410.9 1997.3h0M1412.2 1991.9h0M1413.6 1986.4h0M1415.0 1980.6h0M1416.3 1974.8h0M1417.7 1968.8h0M1419.1 1962.8h0M1420.4 1956.6h0M1421.8 1950.5h0M1423.2 1944.3h0M1424.5 1938.2h0M1425.9 1932.1h0M1427.2 1926.1h0M1428.6 1920.1h0M1430.0 1914.3h0M1431.3 1908.6h0M1432.7 1903.1h0M1434.0 1897.8h0M1435.4 1892.5h0M1436.8 1887.2h0M1438.1 1881.9h0M1439.5 1876.7h0M1440.9 1871.4h0M1442.2 1866.3h0M1443.6 1861.2h0M1445.0 1856.2h0M1446.3 1851.4h0M1447.7 1846.7h0M1449.0 1842.1h0M1450.4 1837.8h0M1451.8 1833.6h0M1453.1 1829.7h0M1454.5 1826.0h0M1455.8 1822.5h0M1457.2 1819.1h0M1458.6 1815.9h0M1459.9 1812.7h0M1461.3 1809.7h0M1462.7 1806.8h0M1464.0 1803.9h0M1465.4 1801.1h0M1466.8 1798.4h0M1468.1 1795.7h0M1469.5 1793.1h0M1470.8 1790.6h0M1472.2 1788.0h0M1473.6 1785.5h0M1474.9 1783.0h0M1476.3 1780.5h0M1477.7 1778.0h0M1479.0 1775.5h0M1480.4 1773.0h0M1481.7 1770.4h0M1483.1 1767.8h0M1484.5 1765.1h0M1485.8 1762.5h0M1487.2 1759.8h0M1488.5 1757.1h0M1489.9 1754.3h0M1491.3 1751.6h0M1492.6 1749.0h0M1494.0 1746.3h0M1495.4 1743.7h0M1496.7 1741.1h0M1498.1 1738.6h0M1499.5 1736.1h0M1500.8 1733.7h0M1502.2 1731.4h0M1503.5 1729.2h0M1504.9 1727.1h0M1506.3 1725.1h0M1507.6 1723.2h0M1509.0 1721.5h0M1510.3 1719.9h0M1511.7 1718.4h0M1513.1 1717.1h0M1514.4 1715.8h0M1515.8 1714.6h0M1517.2 1713.4h0M1518.5 1712.2h0M1519.9 1711.0h0M1521.2 1709.9h0M1522.6 1708.7h0M1524.0 1707.6h0M1525.3 1706.6h0M1526.7 1705.5h0M1528.1 1704.5h0M1529.4 1703.5h0M1530.8 1702.5h0M1532.2 1701.6h0M1533.5 1700.6h0M1534.9 1699.7h0M1536.2 1698.8h0M1537.6 1697.9h0M1539.0 1697.1h0M1540.3 1696.2h0M1541.7 1695.4h0M1543.0 1694.6h0M1544.4 1693.8h0M1545.8 1693.0h0M1547.1 1692.2h0M1548.5 1691.5h0M1549.9 1690.7h0M1551.2 1690.0h0M1552.6 1689.2h0M1554.0 1688.5h0M1555.3 1687.8h0M1556.7 1687.1h0M1558.0 1686.4h0M1559.4 1685.8h0M1560.8 1685.1h0M1562.1 1684.4h0M1563.5 1683.7h0M1564.8 1683.1h0M1566.2 1682.4h0M1567.6 1681.8h0M1568.9 1681.1h0M1570.3 1680.5h0M1571.7 1679.8h0M1573.0 1679.2h0M1574.4 1678.5h0M1575.8 1677.9h0M1577.1 1677.2h0M1578.5 1676.6h0M1579.8 1675.9h0M1581.2 1675.3h0M1582.6 1674.6h0M1583.9 1673.9h0M1585.3 1673.2h0M1586.7 1672.6h0M1588.0 1671.9h0M1589.4 1671.3h0M1590.7 1670.6h0M1592.1 1670.0h0M1593.5 1669.3h0M1594.8 1668.7h0M1596.2 1668.1h0M1597.5 1667.4h0M1598.9 1666.8h0M1600.3 1666.2h0M1601.6 1665.6h0M1603.0 1665.0h0M1604.4 1664.4h0M1605.7 1663.9h0M1607.1 1663.3h0M1608.5 1662.7h0M1609.8 1662.1h0M1611.2 1661.6h0M1612.5 1661.0h0M1613.9 1660.5h0M1615.3 1659.9h0M1616.6 1659.4h0M1618.0 1658.9h0M1619.3 1658.4h0M1620.7 1657.8h0M1622.1 1657.3h0M1623.4 1656.8h0M1624.8 1656.3h0M1626.2 1655.8h0M1627.5 1655.3h0M1628.9 1654.7h0M1630.2 1654.2h0M1631.6 1653.7h0M1633.0 1653.2h0M1634.3 1652.7h0M1635.7 1652.2h0M1637.1 1651.7h0M1638.4 1651.2h0M1639.8 1650.7h0M1641.2 1650.2h0M1642.5 1649.8h0M1643.9 1649.3h0M1645.2 1648.9h0M1646.6 1648.4h0M1648.0 1648.0h0M1649.3 1647.6h0M1650.7 1647.2h0M1652.0 1646.8h0M1653.4 1646.4h0M1654.8 1646.0h0M1656.1 1645.7h0M1657.5 1645.4h0M1658.9 1645.0h0M1660.2 1644.8h0M1661.6 1644.5h0M1663.0 1644.2h0M1664.3 1643.9h0M1665.7 1643.6h0M1667.0 1643.3h0M1668.4 1643.0h0M1669.8 1642.7h0M1671.1 1642.4h0M1672.5 1642.1h0M1673.8 1641.8h0M1675.2 1641.5h0M1676.6 1641.3h0M1677.9 1641.0h0M1679.3 1640.7h0M1680.7 1640.4h0M1682.0 1640.2h0M1683.4 1639.9h0M1684.8 1639.6h0M1686.1 1639.4h0M1687.5 1639.1h0M1688.8 1638.9h0M1690.2 1638.6h0M1691.6 1638.4h0M1692.9 1638.1h0M1694.3 1637.9h0M1695.7 1637.6h0M1697.0 1637.4h0M1698.4 1637.2h0M1699.7 1637.0h0M1701.1 1636.8h0M1702.5 1636.5h0M1703.8 1636.3h0M1705.2 1636.1h0M1706.5 1635.9h0M1707.9 1635.7h0M1709.3 1635.6h0M1710.6 1635.4h0M1712.0 1635.2h0M1713.4 1635.0h0M1714.7 1634.9h0M1716.1 1634.7h0M1717.5 1634.6h0M1718.8 1634.4h0M1720.2 1634.3h0M1721.5 1634.2h0M1722.9 1634.1h0M1724.3 1633.9h0M1725.6 1633.8h0M1727.0 1633.7h0M1728.3 1633.6h0M1729.7 1633.6h0M1731.1 1633.5h0M1732.4 1633.4h0M1733.8 1633.4h0M1735.2 1633.3h0M1736.5 1633.3h0M1737.9 1633.2h0M1739.2 1633.2h0M1740.6 1633.1h0M1742.0 1633.1h0M1743.3 1633.0h0M1744.7 1633.0h0M1746.1 1632.9h0M1747.4 1632.9h0M1748.8 1632.9h0M1750.2 1632.8h0M1751.5 1632.8h0M1752.9 1632.7h0M1754.2 1632.7h0M1755.6 1632.7h0M1757.0 1632.6h0M1758.3 1632.6h0M1759.7 1632.6h0M1761.1 1632.5h0M1762.4 1632.5h0M1763.8 1632.5h0M1765.1 1632.4h0M1766.5 1632.4h0M1767.9 1632.4h0M1769.2 1632.3h0M1770.6 1632.3h0M1772.0 1632.3h0M1773.3 1632.2h0M1774.7 1632.2h0M1776.0 1632.2h0M1777.4 1632.2h0M1778.8 1632.1h0M1780.1 1632.1h0M1781.5 1632.1h0M1782.8 1632.1h0M1784.2 1632.0h0M1785.6 1632.0h0M1786.9 1632.0h0M1788.3 1632.0h0M1789.7 1631.9h0M1791.0 1631.9h0M1792.4 1631.9h0M1793.8 1631.9h0M1795.1 1631.8h0M1796.5 1631.8h0M1797.8 1631.8h0M1799.2 1631.8h0M1800.6 1631.8h0M1801.9 1631.7h0M1803.3 1631.7h0M1804.7 1631.7h0M1806.0 1631.7h0M1807.4 1631.7h0M1808.7 1631.6h0M1810.1 1631.6h0M1811.5 1631.6h0M1812.8 1631.6h0M1814.2 1631.6h0M1815.6 1631.6h0M1816.9 1631.5h0M1818.3 1631.5h0M1819.6 1631.5h0M1821.0 1631.5h0M1822.4 1631.5h0M1823.7 1631.4h0M1825.1 1631.4h0M1826.5 1631.4h0M1827.8 1631.4h0M1829.2 1631.4h0M1830.5 1631.4h0M1831.9 1631.3h0M1833.3 1631.3h0M1834.6 1631.3h0M1836.0 1631.3h0M1837.3 1631.3h0M1838.7 1631.3h0M1840.1 1631.2h0M1841.4 1631.2h0M1842.8 1631.2h0M1844.2 1631.2h0M1845.5 1631.2h0M1846.9 1631.2h0M1848.2 1631.1h0M1849.6 1631.1h0M1851.0 1631.1h0M1852.3 1631.1h0M1853.7 1631.1h0M1855.1 1631.0h0M1856.4 1631.0h0M1857.8 1631.0h0M1859.2 1631.0h0M1860.5 1631.0h0M1861.9 1630.9h0M1863.2 1630.9h0M1864.6 1630.9h0M1866.0 1630.9h0M1867.3 1630.9h0M1868.7 1630.9h0M1870.1 1630.8h0M1871.4 1630.8h0M1872.8 1630.8h0M1874.1 1630.8h0M1875.5 1630.8h0M1876.9 1630.7h0M1878.2 1630.7h0M1879.6 1630.7h0M1881.0 1630.7h0M1882.3 1630.7h0M1883.7 1630.6h0M1885.0 1630.6h0M1886.4 1630.6h0M1887.8 1630.6h0M1889.1 1630.6h0M1890.5 1630.6h0M1891.8 1630.5h0M1893.2 1630.5h0M1894.6 1630.5h0M1895.9 1630.5h0M1897.3 1630.5h0M1898.7 1630.5h0M1900.0 1630.4h0M1901.4 1630.4h0M1902.8 1630.4h0M1904.1 1630.4h0M1905.5 1630.4h0M1906.8 1630.4h0M1908.2 1630.3h0M1909.6 1630.3h0M1910.9 1630.3h0M1912.3 1630.3h0M1913.7 1630.3h0M1915.0 1630.3h0M1916.4 1630.2h0M1917.7 1630.2h0M1919.1 1630.2h0M1920.5 1630.2h0M1921.8 1630.2h0M1923.2 1630.2h0M1924.6 1630.1h0M1925.9 1630.1h0M1927.3 1630.1h0M1928.6 1630.1h0M1930.0 1630.1h0M1931.4 1630.1h0M1932.7 1630.0h0M1934.1 1630.0h0M1935.5 1630.0h0M1936.8 1630.0h0M1938.2 1630.0h0M1939.5 1630.0h0M1940.9 1630.0h0M1942.3 1629.9h0M1943.6 1629.9h0M1945.0 1629.9h0M1946.3 1629.9h0M1947.7 1629.9h0M1949.1 1629.9h0M1950.4 1629.8h0M1951.8 1629.8h0M1953.2 1629.8h0M1954.5 1629.8h0M1955.9 1629.8h0M1957.2 1629.8h0M1958.6 1629.8h0M1960.0 1629.7h0M1961.3 1629.7h0M1962.7 1629.7h0M1964.1 1629.7h0M1965.4 1629.7h0M1966.8 1629.7h0M1968.2 1629.7h0M1969.5 1629.6h0M1970.9 1629.6h0M1972.2 1629.6h0M1973.6 1629.6h0M1975.0 1629.6h0M1976.3 1629.6h0M1977.7 1629.6h0M1979.1 1629.5h0M1980.4 1629.5h0M1981.8 1629.5h0M1983.1 1629.5h0M1984.5 1629.5h0M1985.9 1629.5h0M1987.2 1629.5h0M1988.6 1629.4h0M1990.0 1629.4h0M1991.3 1629.4h0M1992.7 1629.4h0M1994.0 1629.4h0M1995.4 1629.4h0M1996.8 1629.4h0M1998.1 1629.3h0M1999.5 1629.3h0M2000.8 1629.3h0M2002.2 1629.3h0M2003.6 1629.3h0M2004.9 1629.3h0M2006.3 1629.3h0M2007.7 1629.2h0M2009.0 1629.2h0M2010.4 1629.2h0M2011.8 1629.2h0M2013.1 1629.2h0M2014.5 1629.2h0M2015.8 1629.2h0M2017.2 1629.1h0M2018.6 1629.1h0M2019.9 1629.1h0M2021.3 1629.1h0M2022.7 1629.1h0M2024.0 1629.1h0M2025.4 1629.1h0M2026.7 1629.0h0M2028.1 1629.0h0M2029.5 1629.0h0M2030.8 1629.0h0M2032.2 1629.0h0M2033.6 1629.0h0M2034.9 1628.9h0M2036.3 1628.9h0M2037.6 1628.9h0M2039.0 1628.9h0M2040.4 1628.9h0M2041.7 1628.9h0M2043.1 1628.9h0M2044.5 1628.8h0M2045.8 1628.8h0M2047.2 1628.8h0M2048.5 1628.8h0M2049.9 1628.8h0M2051.3 1628.8h0M2052.6 1628.8h0M2054.0 1628.7h0M2055.3 1628.7h0M2056.7 1628.7h0M2058.1 1628.7h0M2059.4 1628.7h0M2060.8 1628.7h0M2062.2 1628.6h0M2063.5 1628.6h0M2064.9 1628.6h0M2066.2 1628.6h0" stroke="#e0384a" stroke-width="13" stroke-linecap="round" fill="none"/></g>
<g clip-path="url(#cf)"><path d="M1248.8 2155.0L1250.1 2155.0L1251.5 2155.0L1252.8 2155.0L1254.2 2155.0L1255.6 2155.0L1256.9 2155.0L1258.3 2155.0L1259.7 2155.0L1261.0 2155.0L1262.4 2155.0L1263.7 2155.0L1265.1 2155.0L1266.5 2155.0L1267.8 2155.0L1269.2 2155.0L1270.5 2155.0L1271.9 2155.0L1273.3 2155.0L1274.6 2155.0L1276.0 2155.0L1277.4 2155.0L1278.7 2155.0L1280.1 2155.0L1281.5 2155.0L1282.8 2155.0L1284.2 2155.0L1285.5 2155.0L1286.9 2155.0L1288.3 2155.0L1289.6 2155.0L1291.0 2155.0L1292.3 2155.0L1293.7 2155.0L1295.1 2155.0L1296.4 2155.0L1297.8 2155.0L1299.2 2155.0L1300.5 2155.0L1301.9 2155.0L1303.2 2155.0L1304.6 2155.0L1306.0 2155.0L1307.3 2155.0L1308.7 2155.0L1310.1 2155.0L1311.4 2155.0L1312.8 2155.0L1314.2 2155.0L1315.5 2155.0L1316.9 2155.0L1318.2 2155.0L1319.6 2155.0L1321.0 2155.0L1322.3 2155.0L1323.7 2155.0L1325.0 2155.0L1326.4 2155.0L1327.8 2155.0L1329.1 2155.0L1330.5 2155.0L1331.9 2155.0L1333.2 2155.0L1334.6 2155.0L1336.0 2155.0L1337.3 2155.0L1338.7 2155.0L1340.0 2155.0L1341.4 2155.0L1342.8 2155.0L1344.1 2155.0L1345.5 2155.0L1346.8 2155.0L1348.2 2155.0L1349.6 2155.0L1350.9 2155.0L1352.3 2155.0L1353.7 2155.0L1355.0 2155.0L1356.4 2155.0L1357.8 2155.0L1359.1 2155.0L1360.5 2155.0L1361.8 2154.5L1363.2 2153.1L1364.6 2151.0L1365.9 2148.6L1367.3 2145.9L1368.7 2143.2L1370.0 2140.4L1371.4 2137.2L1372.7 2133.6L1374.1 2129.6L1375.5 2125.5L1376.8 2121.1L1378.2 2116.7L1379.5 2112.2L1380.9 2107.7L1382.3 2103.3L1383.6 2098.9L1385.0 2094.4L1386.4 2089.8L1387.7 2085.1L1389.1 2080.4L1390.5 2075.6L1391.8 2070.8L1393.2 2065.9L1394.5 2061.1L1395.9 2056.3L1397.3 2051.6L1398.6 2046.9L1400.0 2042.4L1401.3 2037.8L1402.7 2033.2L1404.1 2028.7L1405.4 2024.0L1406.8 2019.3L1408.2 2014.5L1409.5 2009.5L1410.9 2004.3L1412.2 1998.9L1413.6 1993.3L1415.0 1987.5L1416.3 1981.6L1417.7 1975.5L1419.1 1969.4L1420.4 1963.2L1421.8 1956.9L1423.2 1950.7L1424.5 1944.5L1425.9 1938.4L1427.2 1932.4L1428.6 1926.5L1430.0 1920.8L1431.3 1915.3L1432.7 1910.0L1434.0 1904.9L1435.4 1900.0L1436.8 1895.2L1438.1 1890.4L1439.5 1885.7L1440.9 1881.1L1442.2 1876.6L1443.6 1872.1L1445.0 1867.8L1446.3 1863.5L1447.7 1859.4L1449.0 1855.3L1450.4 1851.4L1451.8 1847.5L1453.1 1843.7L1454.5 1840.1L1455.8 1836.5L1457.2 1833.0L1458.6 1829.6L1459.9 1826.3L1461.3 1823.1L1462.7 1820.0L1464.0 1817.1L1465.4 1814.4L1466.8 1811.9L1468.1 1809.5L1469.5 1807.2L1470.8 1805.0L1472.2 1802.8L1473.6 1800.7L1474.9 1798.7L1476.3 1796.7L1477.7 1794.7L1479.0 1792.8L1480.4 1791.0L1481.7 1789.2L1483.1 1787.4L1484.5 1785.7L1485.8 1784.0L1487.2 1782.4L1488.5 1780.8L1489.9 1779.2L1491.3 1777.7L1492.6 1776.2L1494.0 1774.7L1495.4 1773.2L1496.7 1771.8L1498.1 1770.4L1499.5 1769.0L1500.8 1767.5L1502.2 1766.1L1503.5 1764.7L1504.9 1763.3L1506.3 1762.0L1507.6 1760.6L1509.0 1759.2L1510.3 1757.9L1511.7 1756.5L1513.1 1755.2L1514.4 1753.9L1515.8 1752.6L1517.2 1751.3L1518.5 1750.0L1519.9 1748.7L1521.2 1747.5L1522.6 1746.2L1524.0 1745.0L1525.3 1743.8L1526.7 1742.6L1528.1 1741.4L1529.4 1740.3L1530.8 1739.1L1532.2 1738.0L1533.5 1736.9L1534.9 1735.8L1536.2 1734.7L1537.6 1733.7L1539.0 1732.7L1540.3 1731.7L1541.7 1730.7L1543.0 1729.7L1544.4 1728.8L1545.8 1727.9L1547.1 1727.0L1548.5 1726.2L1549.9 1725.3L1551.2 1724.5L1552.6 1723.7L1554.0 1723.0L1555.3 1722.3L1556.7 1721.6L1558.0 1720.9L1559.4 1720.2L1560.8 1719.6L1562.1 1719.0L1563.5 1718.4L1564.8 1717.9L1566.2 1717.3L1567.6 1716.7L1568.9 1716.2L1570.3 1715.7L1571.7 1715.1L1573.0 1714.6L1574.4 1714.1L1575.8 1713.6L1577.1 1713.2L1578.5 1712.7L1579.8 1712.2L1581.2 1711.8L1582.6 1711.3L1583.9 1710.9L1585.3 1710.5L1586.7 1710.0L1588.0 1709.6L1589.4 1709.2L1590.7 1708.8L1592.1 1708.4L1593.5 1708.0L1594.8 1707.6L1596.2 1707.3L1597.5 1706.9L1598.9 1706.5L1600.3 1706.1L1601.6 1705.8L1603.0 1705.4L1604.4 1705.0L1605.7 1704.7L1607.1 1704.3L1608.5 1704.0L1609.8 1703.6L1611.2 1703.2L1612.5 1702.9L1613.9 1702.5L1615.3 1702.2L1616.6 1701.8L1618.0 1701.5L1619.3 1701.1L1620.7 1700.7L1622.1 1700.4L1623.4 1700.0L1624.8 1699.7L1626.2 1699.3L1627.5 1699.0L1628.9 1698.6L1630.2 1698.3L1631.6 1697.9L1633.0 1697.6L1634.3 1697.3L1635.7 1696.9L1637.1 1696.6L1638.4 1696.3L1639.8 1696.0L1641.2 1695.7L1642.5 1695.4L1643.9 1695.1L1645.2 1694.8L1646.6 1694.5L1648.0 1694.2L1649.3 1693.9L1650.7 1693.6L1652.0 1693.3L1653.4 1693.1L1654.8 1692.8L1656.1 1692.5L1657.5 1692.3L1658.9 1692.0L1660.2 1691.8L1661.6 1691.6L1663.0 1691.3L1664.3 1691.1L1665.7 1690.9L1667.0 1690.6L1668.4 1690.4L1669.8 1690.2L1671.1 1690.0L1672.5 1689.7L1673.8 1689.5L1675.2 1689.3L1676.6 1689.1L1677.9 1688.9L1679.3 1688.7L1680.7 1688.5L1682.0 1688.3L1683.4 1688.1L1684.8 1687.9L1686.1 1687.7L1687.5 1687.5L1688.8 1687.3L1690.2 1687.1L1691.6 1686.9L1692.9 1686.7L1694.3 1686.5L1695.7 1686.3L1697.0 1686.1L1698.4 1685.9L1699.7 1685.8L1701.1 1685.6L1702.5 1685.4L1703.8 1685.2L1705.2 1685.0L1706.5 1684.9L1707.9 1684.7L1709.3 1684.5L1710.6 1684.4L1712.0 1684.2L1713.4 1684.0L1714.7 1683.8L1716.1 1683.7L1717.5 1683.5L1718.8 1683.4L1720.2 1683.2L1721.5 1683.0L1722.9 1682.9L1724.3 1682.7L1725.6 1682.6L1727.0 1682.4L1728.3 1682.2L1729.7 1682.1L1731.1 1681.9L1732.4 1681.8L1733.8 1681.6L1735.2 1681.5L1736.5 1681.3L1737.9 1681.2L1739.2 1681.0L1740.6 1680.9L1742.0 1680.7L1743.3 1680.6L1744.7 1680.4L1746.1 1680.3L1747.4 1680.1L1748.8 1680.0L1750.2 1679.8L1751.5 1679.7L1752.9 1679.5L1754.2 1679.4L1755.6 1679.2L1757.0 1679.1L1758.3 1678.9L1759.7 1678.8L1761.1 1678.6L1762.4 1678.5L1763.8 1678.3L1765.1 1678.2L1766.5 1678.1L1767.9 1677.9L1769.2 1677.8L1770.6 1677.6L1772.0 1677.5L1773.3 1677.3L1774.7 1677.2L1776.0 1677.0L1777.4 1676.9L1778.8 1676.8L1780.1 1676.6L1781.5 1676.5L1782.8 1676.3L1784.2 1676.2L1785.6 1676.1L1786.9 1675.9L1788.3 1675.8L1789.7 1675.6L1791.0 1675.5L1792.4 1675.4L1793.8 1675.2L1795.1 1675.1L1796.5 1675.0L1797.8 1674.8L1799.2 1674.7L1800.6 1674.6L1801.9 1674.4L1803.3 1674.3L1804.7 1674.2L1806.0 1674.1L1807.4 1673.9L1808.7 1673.8L1810.1 1673.7L1811.5 1673.5L1812.8 1673.4L1814.2 1673.3L1815.6 1673.2L1816.9 1673.1L1818.3 1672.9L1819.6 1672.8L1821.0 1672.7L1822.4 1672.6L1823.7 1672.5L1825.1 1672.3L1826.5 1672.2L1827.8 1672.1L1829.2 1672.0L1830.5 1671.9L1831.9 1671.8L1833.3 1671.7L1834.6 1671.6L1836.0 1671.4L1837.3 1671.3L1838.7 1671.2L1840.1 1671.1L1841.4 1671.0L1842.8 1670.9L1844.2 1670.8L1845.5 1670.7L1846.9 1670.6L1848.2 1670.5L1849.6 1670.4L1851.0 1670.3L1852.3 1670.2L1853.7 1670.1L1855.1 1670.0L1856.4 1670.0L1857.8 1669.9L1859.2 1669.8L1860.5 1669.7L1861.9 1669.6L1863.2 1669.5L1864.6 1669.4L1866.0 1669.4L1867.3 1669.3L1868.7 1669.2L1870.1 1669.1L1871.4 1669.0L1872.8 1669.0L1874.1 1668.9L1875.5 1668.8L1876.9 1668.8L1878.2 1668.7L1879.6 1668.6L1881.0 1668.5L1882.3 1668.5L1883.7 1668.4L1885.0 1668.4L1886.4 1668.3L1887.8 1668.2L1889.1 1668.2L1890.5 1668.1L1891.8 1668.1L1893.2 1668.0L1894.6 1667.9L1895.9 1667.9L1897.3 1667.8L1898.7 1667.8L1900.0 1667.7L1901.4 1667.6L1902.8 1667.6L1904.1 1667.5L1905.5 1667.5L1906.8 1667.4L1908.2 1667.4L1909.6 1667.3L1910.9 1667.3L1912.3 1667.2L1913.7 1667.2L1915.0 1667.1L1916.4 1667.1L1917.7 1667.0L1919.1 1667.0L1920.5 1666.9L1921.8 1666.9L1923.2 1666.8L1924.6 1666.8L1925.9 1666.7L1927.3 1666.7L1928.6 1666.6L1930.0 1666.6L1931.4 1666.5L1932.7 1666.5L1934.1 1666.4L1935.5 1666.4L1936.8 1666.3L1938.2 1666.3L1939.5 1666.3L1940.9 1666.2L1942.3 1666.2L1943.6 1666.1L1945.0 1666.1L1946.3 1666.0L1947.7 1666.0L1949.1 1666.0L1950.4 1665.9L1951.8 1665.9L1953.2 1665.8L1954.5 1665.8L1955.9 1665.8L1957.2 1665.7L1958.6 1665.7L1960.0 1665.6L1961.3 1665.6L1962.7 1665.6L1964.1 1665.5L1965.4 1665.5L1966.8 1665.4L1968.2 1665.4L1969.5 1665.4L1970.9 1665.3L1972.2 1665.3L1973.6 1665.2L1975.0 1665.2L1976.3 1665.2L1977.7 1665.1L1979.1 1665.1L1980.4 1665.1L1981.8 1665.0L1983.1 1665.0L1984.5 1664.9L1985.9 1664.9L1987.2 1664.9L1988.6 1664.8L1990.0 1664.8L1991.3 1664.8L1992.7 1664.7L1994.0 1664.7L1995.4 1664.7L1996.8 1664.6L1998.1 1664.6L1999.5 1664.5L2000.8 1664.5L2002.2 1664.5L2003.6 1664.4L2004.9 1664.4L2006.3 1664.4L2007.7 1664.3L2009.0 1664.3L2010.4 1664.3L2011.8 1664.2L2013.1 1664.2L2014.5 1664.2L2015.8 1664.1L2017.2 1664.1L2018.6 1664.0L2019.9 1664.0L2021.3 1664.0L2022.7 1663.9L2024.0 1663.9L2025.4 1663.9L2026.7 1663.8L2028.1 1663.8L2029.5 1663.7L2030.8 1663.7L2032.2 1663.7L2033.6 1663.6L2034.9 1663.6L2036.3 1663.6L2037.6 1663.5L2039.0 1663.5L2040.4 1663.4L2041.7 1663.4L2043.1 1663.4L2044.5 1663.3L2045.8 1663.3L2047.2 1663.3L2048.5 1663.2L2049.9 1663.2L2051.3 1663.1L2052.6 1663.1L2054.0 1663.1L2055.3 1663.0L2056.7 1663.0L2058.1 1662.9L2059.4 1662.9L2060.8 1662.8L2062.2 1662.8L2063.5 1662.8L2064.9 1662.7L2066.2 1662.7" fill="none" stroke="#1f6fdf" stroke-width="6" stroke-linejoin="round"/><path d="M1248.8 2146.8l7.9 13.9h-15.8zM1250.1 2146.8l7.9 13.9h-15.8zM1251.5 2146.8l7.9 13.9h-15.8zM1252.8 2146.8l7.9 13.9h-15.8zM1254.2 2146.8l7.9 13.9h-15.8zM1255.6 2146.8l7.9 13.9h-15.8zM1256.9 2146.8l7.9 13.9h-15.8zM1258.3 2146.8l7.9 13.9h-15.8zM1259.7 2146.8l7.9 13.9h-15.8zM1261.0 2146.8l7.9 13.9h-15.8zM1262.4 2146.8l7.9 13.9h-15.8zM1263.7 2146.8l7.9 13.9h-15.8zM1265.1 2146.8l7.9 13.9h-15.8zM1266.5 2146.8l7.9 13.9h-15.8zM1267.8 2146.8l7.9 13.9h-15.8zM1269.2 2146.8l7.9 13.9h-15.8zM1270.5 2146.8l7.9 13.9h-15.8zM1271.9 2146.8l7.9 13.9h-15.8zM1273.3 2146.8l7.9 13.9h-15.8zM1274.6 2146.8l7.9 13.9h-15.8zM1276.0 2146.8l7.9 13.9h-15.8zM1277.4 2146.8l7.9 13.9h-15.8zM1278.7 2146.8l7.9 13.9h-15.8zM1280.1 2146.8l7.9 13.9h-15.8zM1281.5 2146.8l7.9 13.9h-15.8zM1282.8 2146.8l7.9 13.9h-15.8zM1284.2 2146.8l7.9 13.9h-15.8zM1285.5 2146.8l7.9 13.9h-15.8zM1286.9 2146.8l7.9 13.9h-15.8zM1288.3 2146.8l7.9 13.9h-15.8zM1289.6 2146.8l7.9 13.9h-15.8zM1291.0 2146.8l7.9 13.9h-15.8zM1292.3 2146.8l7.9 13.9h-15.8zM1293.7 2146.8l7.9 13.9h-15.8zM1295.1 2146.8l7.9 13.9h-15.8zM1296.4 2146.8l7.9 13.9h-15.8zM1297.8 2146.8l7.9 13.9h-15.8zM1299.2 2146.8l7.9 13.9h-15.8zM1300.5 2146.8l7.9 13.9h-15.8zM1301.9 2146.8l7.9 13.9h-15.8zM1303.2 2146.8l7.9 13.9h-15.8zM1304.6 2146.8l7.9 13.9h-15.8zM1306.0 2146.8l7.9 13.9h-15.8zM1307.3 2146.8l7.9 13.9h-15.8zM1308.7 2146.8l7.9 13.9h-15.8zM1310.1 2146.8l7.9 13.9h-15.8zM1311.4 2146.8l7.9 13.9h-15.8zM1312.8 2146.8l7.9 13.9h-15.8zM1314.2 2146.8l7.9 13.9h-15.8zM1315.5 2146.8l7.9 13.9h-15.8zM1316.9 2146.8l7.9 13.9h-15.8zM1318.2 2146.8l7.9 13.9h-15.8zM1319.6 2146.8l7.9 13.9h-15.8zM1321.0 2146.8l7.9 13.9h-15.8zM1322.3 2146.8l7.9 13.9h-15.8zM1323.7 2146.8l7.9 13.9h-15.8zM1325.0 2146.8l7.9 13.9h-15.8zM1326.4 2146.8l7.9 13.9h-15.8zM1327.8 2146.8l7.9 13.9h-15.8zM1329.1 2146.8l7.9 13.9h-15.8zM1330.5 2146.8l7.9 13.9h-15.8zM1331.9 2146.8l7.9 13.9h-15.8zM1333.2 2146.8l7.9 13.9h-15.8zM1334.6 2146.8l7.9 13.9h-15.8zM1336.0 2146.8l7.9 13.9h-15.8zM1337.3 2146.8l7.9 13.9h-15.8zM1338.7 2146.8l7.9 13.9h-15.8zM1340.0 2146.8l7.9 13.9h-15.8zM1341.4 2146.8l7.9 13.9h-15.8zM1342.8 2146.8l7.9 13.9h-15.8zM1344.1 2146.8l7.9 13.9h-15.8zM1345.5 2146.8l7.9 13.9h-15.8zM1346.8 2146.8l7.9 13.9h-15.8zM1348.2 2146.8l7.9 13.9h-15.8zM1349.6 2146.8l7.9 13.9h-15.8zM1350.9 2146.8l7.9 13.9h-15.8zM1352.3 2146.8l7.9 13.9h-15.8zM1353.7 2146.8l7.9 13.9h-15.8zM1355.0 2146.8l7.9 13.9h-15.8zM1356.4 2146.8l7.9 13.9h-15.8zM1357.8 2146.8l7.9 13.9h-15.8zM1359.1 2146.8l7.9 13.9h-15.8zM1360.5 2146.8l7.9 13.9h-15.8zM1361.8 2146.2l7.9 13.9h-15.8zM1363.2 2144.8l7.9 13.9h-15.8zM1364.6 2142.8l7.9 13.9h-15.8zM1365.9 2140.3l7.9 13.9h-15.8zM1367.3 2137.6l7.9 13.9h-15.8zM1368.7 2135.0l7.9 13.9h-15.8zM1370.0 2132.2l7.9 13.9h-15.8zM1371.4 2129.0l7.9 13.9h-15.8zM1372.7 2125.3l7.9 13.9h-15.8zM1374.1 2121.4l7.9 13.9h-15.8zM1375.5 2117.2l7.9 13.9h-15.8zM1376.8 2112.9l7.9 13.9h-15.8zM1378.2 2108.4l7.9 13.9h-15.8zM1379.5 2103.9l7.9 13.9h-15.8zM1380.9 2099.4l7.9 13.9h-15.8zM1382.3 2095.1l7.9 13.9h-15.8zM1383.6 2090.7l7.9 13.9h-15.8zM1385.0 2086.2l7.9 13.9h-15.8zM1386.4 2081.6l7.9 13.9h-15.8zM1387.7 2076.9l7.9 13.9h-15.8zM1389.1 2072.1l7.9 13.9h-15.8zM1390.5 2067.3l7.9 13.9h-15.8zM1391.8 2062.5l7.9 13.9h-15.8zM1393.2 2057.7l7.9 13.9h-15.8zM1394.5 2052.9l7.9 13.9h-15.8zM1395.9 2048.1l7.9 13.9h-15.8zM1397.3 2043.3l7.9 13.9h-15.8zM1398.6 2038.7l7.9 13.9h-15.8zM1400.0 2034.1l7.9 13.9h-15.8zM1401.3 2029.5l7.9 13.9h-15.8zM1402.7 2025.0l7.9 13.9h-15.8zM1404.1 2020.4l7.9 13.9h-15.8zM1405.4 2015.8l7.9 13.9h-15.8zM1406.8 2011.1l7.9 13.9h-15.8zM1408.2 2006.2l7.9 13.9h-15.8zM1409.5 2001.3l7.9 13.9h-15.8zM1410.9 1996.1l7.9 13.9h-15.8zM1412.2 1990.7l7.9 13.9h-15.8zM1413.6 1985.1l7.9 13.9h-15.8zM1415.0 1979.3l7.9 13.9h-15.8zM1416.3 1973.3l7.9 13.9h-15.8zM1417.7 1967.3l7.9 13.9h-15.8zM1419.1 1961.1l7.9 13.9h-15.8zM1420.4 1954.9l7.9 13.9h-15.8zM1421.8 1948.7l7.9 13.9h-15.8zM1423.2 1942.5l7.9 13.9h-15.8zM1424.5 1936.3l7.9 13.9h-15.8zM1425.9 1930.1l7.9 13.9h-15.8zM1427.2 1924.1l7.9 13.9h-15.8zM1428.6 1918.2l7.9 13.9h-15.8zM1430.0 1912.5l7.9 13.9h-15.8zM1431.3 1907.0l7.9 13.9h-15.8zM1432.7 1901.7l7.9 13.9h-15.8zM1434.0 1896.7l7.9 13.9h-15.8zM1435.4 1891.8l7.9 13.9h-15.8zM1436.8 1886.9l7.9 13.9h-15.8zM1438.1 1882.2l7.9 13.9h-15.8zM1439.5 1877.5l7.9 13.9h-15.8zM1440.9 1872.9l7.9 13.9h-15.8zM1442.2 1868.3l7.9 13.9h-15.8zM1443.6 1863.9l7.9 13.9h-15.8zM1445.0 1859.5l7.9 13.9h-15.8zM1446.3 1855.3l7.9 13.9h-15.8zM1447.7 1851.1l7.9 13.9h-15.8zM1449.0 1847.1l7.9 13.9h-15.8zM1450.4 1843.1l7.9 13.9h-15.8zM1451.8 1839.2l7.9 13.9h-15.8zM1453.1 1835.5l7.9 13.9h-15.8zM1454.5 1831.8l7.9 13.9h-15.8zM1455.8 1828.3l7.9 13.9h-15.8zM1457.2 1824.8l7.9 13.9h-15.8zM1458.6 1821.4l7.9 13.9h-15.8zM1459.9 1818.0l7.9 13.9h-15.8zM1461.3 1814.8l7.9 13.9h-15.8zM1462.7 1811.8l7.9 13.9h-15.8zM1464.0 1808.9l7.9 13.9h-15.8zM1465.4 1806.2l7.9 13.9h-15.8zM1466.8 1803.7l7.9 13.9h-15.8zM1468.1 1801.3l7.9 13.9h-15.8zM1469.5 1799.0l7.9 13.9h-15.8zM1470.8 1796.8l7.9 13.9h-15.8zM1472.2 1794.6l7.9 13.9h-15.8zM1473.6 1792.5l7.9 13.9h-15.8zM1474.9 1790.4l7.9 13.9h-15.8zM1476.3 1788.4l7.9 13.9h-15.8zM1477.7 1786.5l7.9 13.9h-15.8zM1479.0 1784.6l7.9 13.9h-15.8zM1480.4 1782.7l7.9 13.9h-15.8zM1481.7 1780.9l7.9 13.9h-15.8zM1483.1 1779.2l7.9 13.9h-15.8zM1484.5 1777.5l7.9 13.9h-15.8zM1485.8 1775.8l7.9 13.9h-15.8zM1487.2 1774.2l7.9 13.9h-15.8zM1488.5 1772.6l7.9 13.9h-15.8zM1489.9 1771.0l7.9 13.9h-15.8zM1491.3 1769.4l7.9 13.9h-15.8zM1492.6 1767.9l7.9 13.9h-15.8zM1494.0 1766.5l7.9 13.9h-15.8zM1495.4 1765.0l7.9 13.9h-15.8zM1496.7 1763.6l7.9 13.9h-15.8zM1498.1 1762.1l7.9 13.9h-15.8zM1499.5 1760.7l7.9 13.9h-15.8zM1500.8 1759.3l7.9 13.9h-15.8zM1502.2 1757.9l7.9 13.9h-15.8zM1503.5 1756.5l7.9 13.9h-15.8zM1504.9 1755.1l7.9 13.9h-15.8zM1506.3 1753.7l7.9 13.9h-15.8zM1507.6 1752.3l7.9 13.9h-15.8zM1509.0 1751.0l7.9 13.9h-15.8zM1510.3 1749.6l7.9 13.9h-15.8zM1511.7 1748.3l7.9 13.9h-15.8zM1513.1 1746.9l7.9 13.9h-15.8zM1514.4 1745.6l7.9 13.9h-15.8zM1515.8 1744.3l7.9 13.9h-15.8zM1517.2 1743.0l7.9 13.9h-15.8zM1518.5 1741.7l7.9 13.9h-15.8zM1519.9 1740.5l7.9 13.9h-15.8zM1521.2 1739.2l7.9 13.9h-15.8zM1522.6 1738.0l7.9 13.9h-15.8zM1524.0 1736.7l7.9 13.9h-15.8zM1525.3 1735.5l7.9 13.9h-15.8zM1526.7 1734.3l7.9 13.9h-15.8zM1528.1 1733.2l7.9 13.9h-15.8zM1529.4 1732.0l7.9 13.9h-15.8zM1530.8 1730.9l7.9 13.9h-15.8zM1532.2 1729.7l7.9 13.9h-15.8zM1533.5 1728.6l7.9 13.9h-15.8zM1534.9 1727.6l7.9 13.9h-15.8zM1536.2 1726.5l7.9 13.9h-15.8zM1537.6 1725.4l7.9 13.9h-15.8zM1539.0 1724.4l7.9 13.9h-15.8zM1540.3 1723.4l7.9 13.9h-15.8zM1541.7 1722.4l7.9 13.9h-15.8zM1543.0 1721.5l7.9 13.9h-15.8zM1544.4 1720.6l7.9 13.9h-15.8zM1545.8 1719.7l7.9 13.9h-15.8zM1547.1 1718.8l7.9 13.9h-15.8zM1548.5 1717.9l7.9 13.9h-15.8zM1549.9 1717.1l7.9 13.9h-15.8zM1551.2 1716.3l7.9 13.9h-15.8zM1552.6 1715.5l7.9 13.9h-15.8zM1554.0 1714.7l7.9 13.9h-15.8zM1555.3 1714.0l7.9 13.9h-15.8zM1556.7 1713.3l7.9 13.9h-15.8zM1558.0 1712.6l7.9 13.9h-15.8zM1559.4 1712.0l7.9 13.9h-15.8zM1560.8 1711.4l7.9 13.9h-15.8zM1562.1 1710.8l7.9 13.9h-15.8zM1563.5 1710.2l7.9 13.9h-15.8zM1564.8 1709.6l7.9 13.9h-15.8zM1566.2 1709.0l7.9 13.9h-15.8zM1567.6 1708.5l7.9 13.9h-15.8zM1568.9 1707.9l7.9 13.9h-15.8zM1570.3 1707.4l7.9 13.9h-15.8zM1571.7 1706.9l7.9 13.9h-15.8zM1573.0 1706.4l7.9 13.9h-15.8zM1574.4 1705.9l7.9 13.9h-15.8zM1575.8 1705.4l7.9 13.9h-15.8zM1577.1 1704.9l7.9 13.9h-15.8zM1578.5 1704.4l7.9 13.9h-15.8zM1579.8 1704.0l7.9 13.9h-15.8zM1581.2 1703.5l7.9 13.9h-15.8zM1582.6 1703.1l7.9 13.9h-15.8zM1583.9 1702.7l7.9 13.9h-15.8zM1585.3 1702.2l7.9 13.9h-15.8zM1586.7 1701.8l7.9 13.9h-15.8zM1588.0 1701.4l7.9 13.9h-15.8zM1589.4 1701.0l7.9 13.9h-15.8zM1590.7 1700.6l7.9 13.9h-15.8zM1592.1 1700.2l7.9 13.9h-15.8zM1593.5 1699.8l7.9 13.9h-15.8zM1594.8 1699.4l7.9 13.9h-15.8zM1596.2 1699.0l7.9 13.9h-15.8zM1597.5 1698.6l7.9 13.9h-15.8zM1598.9 1698.3l7.9 13.9h-15.8zM1600.3 1697.9l7.9 13.9h-15.8zM1601.6 1697.5l7.9 13.9h-15.8zM1603.0 1697.2l7.9 13.9h-15.8zM1604.4 1696.8l7.9 13.9h-15.8zM1605.7 1696.4l7.9 13.9h-15.8zM1607.1 1696.1l7.9 13.9h-15.8zM1608.5 1695.7l7.9 13.9h-15.8zM1609.8 1695.4l7.9 13.9h-15.8zM1611.2 1695.0l7.9 13.9h-15.8zM1612.5 1694.6l7.9 13.9h-15.8zM1613.9 1694.3l7.9 13.9h-15.8zM1615.3 1693.9l7.9 13.9h-15.8zM1616.6 1693.6l7.9 13.9h-15.8zM1618.0 1693.2l7.9 13.9h-15.8zM1619.3 1692.8l7.9 13.9h-15.8zM1620.7 1692.5l7.9 13.9h-15.8zM1622.1 1692.1l7.9 13.9h-15.8zM1623.4 1691.8l7.9 13.9h-15.8zM1624.8 1691.4l7.9 13.9h-15.8zM1626.2 1691.1l7.9 13.9h-15.8zM1627.5 1690.7l7.9 13.9h-15.8zM1628.9 1690.4l7.9 13.9h-15.8zM1630.2 1690.0l7.9 13.9h-15.8zM1631.6 1689.7l7.9 13.9h-15.8zM1633.0 1689.4l7.9 13.9h-15.8zM1634.3 1689.0l7.9 13.9h-15.8zM1635.7 1688.7l7.9 13.9h-15.8zM1637.1 1688.4l7.9 13.9h-15.8zM1638.4 1688.1l7.9 13.9h-15.8zM1639.8 1687.7l7.9 13.9h-15.8zM1641.2 1687.4l7.9 13.9h-15.8zM1642.5 1687.1l7.9 13.9h-15.8zM1643.9 1686.8l7.9 13.9h-15.8zM1645.2 1686.5l7.9 13.9h-15.8zM1646.6 1686.2l7.9 13.9h-15.8zM1648.0 1685.9l7.9 13.9h-15.8zM1649.3 1685.6l7.9 13.9h-15.8zM1650.7 1685.4l7.9 13.9h-15.8zM1652.0 1685.1l7.9 13.9h-15.8zM1653.4 1684.8l7.9 13.9h-15.8zM1654.8 1684.6l7.9 13.9h-15.8zM1656.1 1684.3l7.9 13.9h-15.8zM1657.5 1684.0l7.9 13.9h-15.8zM1658.9 1683.8l7.9 13.9h-15.8zM1660.2 1683.6l7.9 13.9h-15.8zM1661.6 1683.3l7.9 13.9h-15.8zM1663.0 1683.1l7.9 13.9h-15.8zM1664.3 1682.9l7.9 13.9h-15.8zM1665.7 1682.6l7.9 13.9h-15.8zM1667.0 1682.4l7.9 13.9h-15.8zM1668.4 1682.2l7.9 13.9h-15.8zM1669.8 1681.9l7.9 13.9h-15.8zM1671.1 1681.7l7.9 13.9h-15.8zM1672.5 1681.5l7.9 13.9h-15.8zM1673.8 1681.3l7.9 13.9h-15.8zM1675.2 1681.1l7.9 13.9h-15.8zM1676.6 1680.9l7.9 13.9h-15.8zM1677.9 1680.6l7.9 13.9h-15.8zM1679.3 1680.4l7.9 13.9h-15.8zM1680.7 1680.2l7.9 13.9h-15.8zM1682.0 1680.0l7.9 13.9h-15.8zM1683.4 1679.8l7.9 13.9h-15.8zM1684.8 1679.6l7.9 13.9h-15.8zM1686.1 1679.4l7.9 13.9h-15.8zM1687.5 1679.2l7.9 13.9h-15.8zM1688.8 1679.0l7.9 13.9h-15.8zM1690.2 1678.8l7.9 13.9h-15.8zM1691.6 1678.6l7.9 13.9h-15.8zM1692.9 1678.4l7.9 13.9h-15.8zM1694.3 1678.2l7.9 13.9h-15.8zM1695.7 1678.1l7.9 13.9h-15.8zM1697.0 1677.9l7.9 13.9h-15.8zM1698.4 1677.7l7.9 13.9h-15.8zM1699.7 1677.5l7.9 13.9h-15.8zM1701.1 1677.3l7.9 13.9h-15.8zM1702.5 1677.1l7.9 13.9h-15.8zM1703.8 1677.0l7.9 13.9h-15.8zM1705.2 1676.8l7.9 13.9h-15.8zM1706.5 1676.6l7.9 13.9h-15.8zM1707.9 1676.4l7.9 13.9h-15.8zM1709.3 1676.3l7.9 13.9h-15.8zM1710.6 1676.1l7.9 13.9h-15.8zM1712.0 1675.9l7.9 13.9h-15.8zM1713.4 1675.8l7.9 13.9h-15.8zM1714.7 1675.6l7.9 13.9h-15.8zM1716.1 1675.4l7.9 13.9h-15.8zM1717.5 1675.3l7.9 13.9h-15.8zM1718.8 1675.1l7.9 13.9h-15.8zM1720.2 1674.9l7.9 13.9h-15.8zM1721.5 1674.8l7.9 13.9h-15.8zM1722.9 1674.6l7.9 13.9h-15.8zM1724.3 1674.5l7.9 13.9h-15.8zM1725.6 1674.3l7.9 13.9h-15.8zM1727.0 1674.1l7.9 13.9h-15.8zM1728.3 1674.0l7.9 13.9h-15.8zM1729.7 1673.8l7.9 13.9h-15.8zM1731.1 1673.7l7.9 13.9h-15.8zM1732.4 1673.5l7.9 13.9h-15.8zM1733.8 1673.4l7.9 13.9h-15.8zM1735.2 1673.2l7.9 13.9h-15.8zM1736.5 1673.1l7.9 13.9h-15.8zM1737.9 1672.9l7.9 13.9h-15.8zM1739.2 1672.8l7.9 13.9h-15.8zM1740.6 1672.6l7.9 13.9h-15.8zM1742.0 1672.5l7.9 13.9h-15.8zM1743.3 1672.3l7.9 13.9h-15.8zM1744.7 1672.2l7.9 13.9h-15.8zM1746.1 1672.0l7.9 13.9h-15.8zM1747.4 1671.9l7.9 13.9h-15.8zM1748.8 1671.7l7.9 13.9h-15.8zM1750.2 1671.6l7.9 13.9h-15.8zM1751.5 1671.4l7.9 13.9h-15.8zM1752.9 1671.3l7.9 13.9h-15.8zM1754.2 1671.1l7.9 13.9h-15.8zM1755.6 1671.0l7.9 13.9h-15.8zM1757.0 1670.8l7.9 13.9h-15.8zM1758.3 1670.7l7.9 13.9h-15.8zM1759.7 1670.5l7.9 13.9h-15.8zM1761.1 1670.4l7.9 13.9h-15.8zM1762.4 1670.2l7.9 13.9h-15.8zM1763.8 1670.1l7.9 13.9h-15.8zM1765.1 1670.0l7.9 13.9h-15.8zM1766.5 1669.8l7.9 13.9h-15.8zM1767.9 1669.7l7.9 13.9h-15.8zM1769.2 1669.5l7.9 13.9h-15.8zM1770.6 1669.4l7.9 13.9h-15.8zM1772.0 1669.2l7.9 13.9h-15.8zM1773.3 1669.1l7.9 13.9h-15.8zM1774.7 1668.9l7.9 13.9h-15.8zM1776.0 1668.8l7.9 13.9h-15.8zM1777.4 1668.7l7.9 13.9h-15.8zM1778.8 1668.5l7.9 13.9h-15.8zM1780.1 1668.4l7.9 13.9h-15.8zM1781.5 1668.2l7.9 13.9h-15.8zM1782.8 1668.1l7.9 13.9h-15.8zM1784.2 1668.0l7.9 13.9h-15.8zM1785.6 1667.8l7.9 13.9h-15.8zM1786.9 1667.7l7.9 13.9h-15.8zM1788.3 1667.5l7.9 13.9h-15.8zM1789.7 1667.4l7.9 13.9h-15.8zM1791.0 1667.3l7.9 13.9h-15.8zM1792.4 1667.1l7.9 13.9h-15.8zM1793.8 1667.0l7.9 13.9h-15.8zM1795.1 1666.9l7.9 13.9h-15.8zM1796.5 1666.7l7.9 13.9h-15.8zM1797.8 1666.6l7.9 13.9h-15.8zM1799.2 1666.5l7.9 13.9h-15.8zM1800.6 1666.3l7.9 13.9h-15.8zM1801.9 1666.2l7.9 13.9h-15.8zM1803.3 1666.1l7.9 13.9h-15.8zM1804.7 1665.9l7.9 13.9h-15.8zM1806.0 1665.8l7.9 13.9h-15.8zM1807.4 1665.7l7.9 13.9h-15.8zM1808.7 1665.5l7.9 13.9h-15.8zM1810.1 1665.4l7.9 13.9h-15.8zM1811.5 1665.3l7.9 13.9h-15.8zM1812.8 1665.2l7.9 13.9h-15.8zM1814.2 1665.0l7.9 13.9h-15.8zM1815.6 1664.9l7.9 13.9h-15.8zM1816.9 1664.8l7.9 13.9h-15.8zM1818.3 1664.7l7.9 13.9h-15.8zM1819.6 1664.6l7.9 13.9h-15.8zM1821.0 1664.4l7.9 13.9h-15.8zM1822.4 1664.3l7.9 13.9h-15.8zM1823.7 1664.2l7.9 13.9h-15.8zM1825.1 1664.1l7.9 13.9h-15.8zM1826.5 1664.0l7.9 13.9h-15.8zM1827.8 1663.9l7.9 13.9h-15.8zM1829.2 1663.7l7.9 13.9h-15.8zM1830.5 1663.6l7.9 13.9h-15.8zM1831.9 1663.5l7.9 13.9h-15.8zM1833.3 1663.4l7.9 13.9h-15.8zM1834.6 1663.3l7.9 13.9h-15.8zM1836.0 1663.2l7.9 13.9h-15.8zM1837.3 1663.1l7.9 13.9h-15.8zM1838.7 1663.0l7.9 13.9h-15.8zM1840.1 1662.9l7.9 13.9h-15.8zM1841.4 1662.8l7.9 13.9h-15.8zM1842.8 1662.7l7.9 13.9h-15.8zM1844.2 1662.6l7.9 13.9h-15.8zM1845.5 1662.5l7.9 13.9h-15.8zM1846.9 1662.4l7.9 13.9h-15.8zM1848.2 1662.3l7.9 13.9h-15.8zM1849.6 1662.2l7.9 13.9h-15.8zM1851.0 1662.1l7.9 13.9h-15.8zM1852.3 1662.0l7.9 13.9h-15.8zM1853.7 1661.9l7.9 13.9h-15.8zM1855.1 1661.8l7.9 13.9h-15.8zM1856.4 1661.7l7.9 13.9h-15.8zM1857.8 1661.6l7.9 13.9h-15.8zM1859.2 1661.5l7.9 13.9h-15.8zM1860.5 1661.4l7.9 13.9h-15.8zM1861.9 1661.4l7.9 13.9h-15.8zM1863.2 1661.3l7.9 13.9h-15.8zM1864.6 1661.2l7.9 13.9h-15.8zM1866.0 1661.1l7.9 13.9h-15.8zM1867.3 1661.0l7.9 13.9h-15.8zM1868.7 1660.9l7.9 13.9h-15.8zM1870.1 1660.9l7.9 13.9h-15.8zM1871.4 1660.8l7.9 13.9h-15.8zM1872.8 1660.7l7.9 13.9h-15.8zM1874.1 1660.6l7.9 13.9h-15.8zM1875.5 1660.6l7.9 13.9h-15.8zM1876.9 1660.5l7.9 13.9h-15.8zM1878.2 1660.4l7.9 13.9h-15.8zM1879.6 1660.4l7.9 13.9h-15.8zM1881.0 1660.3l7.9 13.9h-15.8zM1882.3 1660.2l7.9 13.9h-15.8zM1883.7 1660.2l7.9 13.9h-15.8zM1885.0 1660.1l7.9 13.9h-15.8zM1886.4 1660.0l7.9 13.9h-15.8zM1887.8 1660.0l7.9 13.9h-15.8zM1889.1 1659.9l7.9 13.9h-15.8zM1890.5 1659.9l7.9 13.9h-15.8zM1891.8 1659.8l7.9 13.9h-15.8zM1893.2 1659.7l7.9 13.9h-15.8zM1894.6 1659.7l7.9 13.9h-15.8zM1895.9 1659.6l7.9 13.9h-15.8zM1897.3 1659.6l7.9 13.9h-15.8zM1898.7 1659.5l7.9 13.9h-15.8zM1900.0 1659.5l7.9 13.9h-15.8zM1901.4 1659.4l7.9 13.9h-15.8zM1902.8 1659.3l7.9 13.9h-15.8zM1904.1 1659.3l7.9 13.9h-15.8zM1905.5 1659.2l7.9 13.9h-15.8zM1906.8 1659.2l7.9 13.9h-15.8zM1908.2 1659.1l7.9 13.9h-15.8zM1909.6 1659.1l7.9 13.9h-15.8zM1910.9 1659.0l7.9 13.9h-15.8zM1912.3 1659.0l7.9 13.9h-15.8zM1913.7 1658.9l7.9 13.9h-15.8zM1915.0 1658.9l7.9 13.9h-15.8zM1916.4 1658.8l7.9 13.9h-15.8zM1917.7 1658.8l7.9 13.9h-15.8zM1919.1 1658.7l7.9 13.9h-15.8zM1920.5 1658.7l7.9 13.9h-15.8zM1921.8 1658.6l7.9 13.9h-15.8zM1923.2 1658.6l7.9 13.9h-15.8zM1924.6 1658.5l7.9 13.9h-15.8zM1925.9 1658.5l7.9 13.9h-15.8zM1927.3 1658.4l7.9 13.9h-15.8zM1928.6 1658.4l7.9 13.9h-15.8zM1930.0 1658.3l7.9 13.9h-15.8zM1931.4 1658.3l7.9 13.9h-15.8zM1932.7 1658.2l7.9 13.9h-15.8zM1934.1 1658.2l7.9 13.9h-15.8zM1935.5 1658.1l7.9 13.9h-15.8zM1936.8 1658.1l7.9 13.9h-15.8zM1938.2 1658.1l7.9 13.9h-15.8zM1939.5 1658.0l7.9 13.9h-15.8zM1940.9 1658.0l7.9 13.9h-15.8zM1942.3 1657.9l7.9 13.9h-15.8zM1943.6 1657.9l7.9 13.9h-15.8zM1945.0 1657.8l7.9 13.9h-15.8zM1946.3 1657.8l7.9 13.9h-15.8zM1947.7 1657.7l7.9 13.9h-15.8zM1949.1 1657.7l7.9 13.9h-15.8zM1950.4 1657.7l7.9 13.9h-15.8zM1951.8 1657.6l7.9 13.9h-15.8zM1953.2 1657.6l7.9 13.9h-15.8zM1954.5 1657.5l7.9 13.9h-15.8zM1955.9 1657.5l7.9 13.9h-15.8zM1957.2 1657.5l7.9 13.9h-15.8zM1958.6 1657.4l7.9 13.9h-15.8zM1960.0 1657.4l7.9 13.9h-15.8zM1961.3 1657.3l7.9 13.9h-15.8zM1962.7 1657.3l7.9 13.9h-15.8zM1964.1 1657.3l7.9 13.9h-15.8zM1965.4 1657.2l7.9 13.9h-15.8zM1966.8 1657.2l7.9 13.9h-15.8zM1968.2 1657.1l7.9 13.9h-15.8zM1969.5 1657.1l7.9 13.9h-15.8zM1970.9 1657.1l7.9 13.9h-15.8zM1972.2 1657.0l7.9 13.9h-15.8zM1973.6 1657.0l7.9 13.9h-15.8zM1975.0 1657.0l7.9 13.9h-15.8zM1976.3 1656.9l7.9 13.9h-15.8zM1977.7 1656.9l7.9 13.9h-15.8zM1979.1 1656.8l7.9 13.9h-15.8zM1980.4 1656.8l7.9 13.9h-15.8zM1981.8 1656.8l7.9 13.9h-15.8zM1983.1 1656.7l7.9 13.9h-15.8zM1984.5 1656.7l7.9 13.9h-15.8zM1985.9 1656.7l7.9 13.9h-15.8zM1987.2 1656.6l7.9 13.9h-15.8zM1988.6 1656.6l7.9 13.9h-15.8zM1990.0 1656.6l7.9 13.9h-15.8zM1991.3 1656.5l7.9 13.9h-15.8zM1992.7 1656.5l7.9 13.9h-15.8zM1994.0 1656.4l7.9 13.9h-15.8zM1995.4 1656.4l7.9 13.9h-15.8zM1996.8 1656.4l7.9 13.9h-15.8zM1998.1 1656.3l7.9 13.9h-15.8zM1999.5 1656.3l7.9 13.9h-15.8zM2000.8 1656.3l7.9 13.9h-15.8zM2002.2 1656.2l7.9 13.9h-15.8zM2003.6 1656.2l7.9 13.9h-15.8zM2004.9 1656.2l7.9 13.9h-15.8zM2006.3 1656.1l7.9 13.9h-15.8zM2007.7 1656.1l7.9 13.9h-15.8zM2009.0 1656.0l7.9 13.9h-15.8zM2010.4 1656.0l7.9 13.9h-15.8zM2011.8 1656.0l7.9 13.9h-15.8zM2013.1 1655.9l7.9 13.9h-15.8zM2014.5 1655.9l7.9 13.9h-15.8zM2015.8 1655.9l7.9 13.9h-15.8zM2017.2 1655.8l7.9 13.9h-15.8zM2018.6 1655.8l7.9 13.9h-15.8zM2019.9 1655.8l7.9 13.9h-15.8zM2021.3 1655.7l7.9 13.9h-15.8zM2022.7 1655.7l7.9 13.9h-15.8zM2024.0 1655.6l7.9 13.9h-15.8zM2025.4 1655.6l7.9 13.9h-15.8zM2026.7 1655.6l7.9 13.9h-15.8zM2028.1 1655.5l7.9 13.9h-15.8zM2029.5 1655.5l7.9 13.9h-15.8zM2030.8 1655.5l7.9 13.9h-15.8zM2032.2 1655.4l7.9 13.9h-15.8zM2033.6 1655.4l7.9 13.9h-15.8zM2034.9 1655.3l7.9 13.9h-15.8zM2036.3 1655.3l7.9 13.9h-15.8zM2037.6 1655.3l7.9 13.9h-15.8zM2039.0 1655.2l7.9 13.9h-15.8zM2040.4 1655.2l7.9 13.9h-15.8zM2041.7 1655.2l7.9 13.9h-15.8zM2043.1 1655.1l7.9 13.9h-15.8zM2044.5 1655.1l7.9 13.9h-15.8zM2045.8 1655.0l7.9 13.9h-15.8zM2047.2 1655.0l7.9 13.9h-15.8zM2048.5 1655.0l7.9 13.9h-15.8zM2049.9 1654.9l7.9 13.9h-15.8zM2051.3 1654.9l7.9 13.9h-15.8zM2052.6 1654.8l7.9 13.9h-15.8zM2054.0 1654.8l7.9 13.9h-15.8zM2055.3 1654.8l7.9 13.9h-15.8zM2056.7 1654.7l7.9 13.9h-15.8zM2058.1 1654.7l7.9 13.9h-15.8zM2059.4 1654.6l7.9 13.9h-15.8zM2060.8 1654.6l7.9 13.9h-15.8zM2062.2 1654.6l7.9 13.9h-15.8zM2063.5 1654.5l7.9 13.9h-15.8zM2064.9 1654.5l7.9 13.9h-15.8zM2066.2 1654.4l7.9 13.9h-15.8z" fill="#1f6fdf"/></g>
<rect x="1248.75" y="1566" width="819.25" height="648.5" fill="none" stroke="#1e1e1e" stroke-width="4"/>
<line x1="1248.75" y1="2155.00" x2="1260.75" y2="2155.00" stroke="#1e1e1e" stroke-width="4"/>
<line x1="1248.75" y1="2037.50" x2="1260.75" y2="2037.50" stroke="#1e1e1e" stroke-width="4"/>
<line x1="1248.75" y1="1920.00" x2="1260.75" y2="1920.00" stroke="#1e1e1e" stroke-width="4"/>
<line x1="1248.75" y1="1802.50" x2="1260.75" y2="1802.50" stroke="#1e1e1e" stroke-width="4"/>
<line x1="1248.75" y1="1685.00" x2="1260.75" y2="1685.00" stroke="#1e1e1e" stroke-width="4"/>
<line x1="1385.00" y1="2214.5" x2="1385.00" y2="2202.5" stroke="#1e1e1e" stroke-width="4"/>
<line x1="1521.25" y1="2214.5" x2="1521.25" y2="2202.5" stroke="#1e1e1e" stroke-width="4"/>
<line x1="1657.50" y1="2214.5" x2="1657.50" y2="2202.5" stroke="#1e1e1e" stroke-width="4"/>
<line x1="1793.75" y1="2214.5" x2="1793.75" y2="2202.5" stroke="#1e1e1e" stroke-width="4"/>
<line x1="1930.00" y1="2214.5" x2="1930.00" y2="2202.5" stroke="#1e1e1e" stroke-width="4"/>
<text transform="translate(1234.50,2173.00)" font-size="57" text-anchor="end" fill="#000" >0</text>
<text transform="translate(1234.50,2055.50)" font-size="57" text-anchor="end" fill="#000" >5</text>
<text transform="translate(1234.50,1938.00)" font-size="57" text-anchor="end" fill="#000" >10</text>
<text transform="translate(1234.50,1820.50)" font-size="57" text-anchor="end" fill="#000" >15</text>
<text transform="translate(1234.50,1703.00)" font-size="57" text-anchor="end" fill="#000" >20</text>
<text transform="translate(1234.50,1585.50)" font-size="57" text-anchor="end" fill="#000" >25</text>
<text transform="translate(1248.75,2272.50)" font-size="56" text-anchor="middle" fill="#000" >0</text>
<text transform="translate(1385.00,2272.50)" font-size="56" text-anchor="middle" fill="#000" >100</text>
<text transform="translate(1521.25,2272.50)" font-size="56" text-anchor="middle" fill="#000" >200</text>
<text transform="translate(1657.50,2272.50)" font-size="56" text-anchor="middle" fill="#000" >300</text>
<text transform="translate(1793.75,2272.50)" font-size="56" text-anchor="middle" fill="#000" >400</text>
<text transform="translate(1930.00,2272.50)" font-size="56" text-anchor="middle" fill="#000" >500</text>
<text transform="translate(2066.25,2272.50)" font-size="56" text-anchor="middle" fill="#000" >600</text>
<text transform="translate(1657.60,2324.00)" font-size="56" text-anchor="middle" fill="#000" >Time (s)</text>
<text transform="translate(1158.00,1885.80) rotate(-90)" font-size="53" text-anchor="middle" fill="#000" >TSP (m<tspan font-size="37" dy="-20">2</tspan><tspan dy="20">)</tspan></text>
<text transform="translate(1123.00,1615.00)" font-size="68" text-anchor="middle" fill="#000" >(f)</text>
<rect x="1620" y="1751" width="439" height="178" fill="#000"/>
<rect x="1611" y="1741" width="439" height="178" fill="#fff" stroke="#b8b8b8" stroke-width="2"/>
<line x1="1615" y1="1771.5" x2="1715" y2="1771.5" stroke="#4a4a4a" stroke-width="4.5" opacity="0.9"/>
<rect x="1658.5" y="1765.0" width="13" height="13" fill="#4a4a4a"/>
<text transform="translate(1727.00,1785.69)" font-size="43" text-anchor="start" fill="#000" >EP-0</text>
<line x1="1615" y1="1831" x2="1715" y2="1831" stroke="#e0384a" stroke-width="4.5" opacity="0.9"/>
<circle cx="1665.0" cy="1831.0" r="6.5" fill="#e0384a"/>
<text transform="translate(1727.00,1845.19)" font-size="43" text-anchor="start" fill="#000" >D-Mt-Fe<tspan font-size="27.0" dy="-18.0">3+</tspan><tspan dy="18.0">/EP-5</tspan></text>
<line x1="1615" y1="1890" x2="1715" y2="1890" stroke="#1f6fdf" stroke-width="4.5" opacity="0.9"/>
<path d="M1665.0,1882.8l6.8,12.0h-13.7z" fill="#1f6fdf"/>
<text transform="translate(1727.00,1904.19)" font-size="43" text-anchor="start" fill="#000" >D-Mt-Fe<tspan font-size="27.0" dy="-18.0">3+</tspan><tspan dy="18.0">/EP-10</tspan></text>
</svg></body></html>
